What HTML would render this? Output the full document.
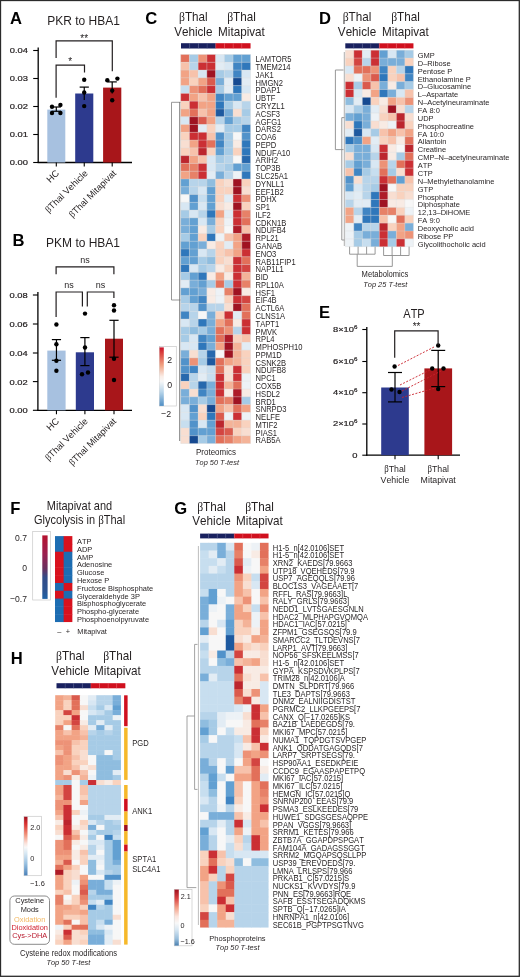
<!DOCTYPE html>
<html><head><meta charset="utf-8"><title>Figure</title>
<style>
html,body{margin:0;padding:0;background:#fff;}
svg{display:block;filter:blur(0.35px);}
text{font-family:"Liberation Sans", sans-serif;font-kerning:none;}
</style></head><body>
<svg width="520" height="977" viewBox="0 0 520 977">
<rect x="0" y="0" width="520" height="977" fill="#fff"/>
<text x="10" y="24" font-size="16.6" text-anchor="start" fill="#000" font-weight="bold">A</text>
<text x="47.3" y="25.5" font-size="12" text-anchor="start" fill="#231f20" transform="matrix(1 0 0 1.08 0 -2.040)">PKR to HBA1</text>
<line x1="38.2" y1="47.5" x2="38.2" y2="163.1" stroke="#000" stroke-width="1.3"/>
<line x1="37.6" y1="162.5" x2="132" y2="162.5" stroke="#000" stroke-width="1.3"/>
<line x1="33.2" y1="50.5" x2="38.2" y2="50.5" stroke="#000" stroke-width="1.1"/>
<text x="28.00" y="53.50" font-size="8.0" text-anchor="end" fill="#231f20" stroke="#231f20" stroke-width="0.22" transform="matrix(1.17 0 0 1 -4.760 0)">0.04</text>
<line x1="33.2" y1="78.5" x2="38.2" y2="78.5" stroke="#000" stroke-width="1.1"/>
<text x="28.00" y="81.50" font-size="8.0" text-anchor="end" fill="#231f20" stroke="#231f20" stroke-width="0.22" transform="matrix(1.17 0 0 1 -4.760 0)">0.03</text>
<line x1="33.2" y1="106.5" x2="38.2" y2="106.5" stroke="#000" stroke-width="1.1"/>
<text x="28.00" y="109.50" font-size="8.0" text-anchor="end" fill="#231f20" stroke="#231f20" stroke-width="0.22" transform="matrix(1.17 0 0 1 -4.760 0)">0.02</text>
<line x1="33.2" y1="134.5" x2="38.2" y2="134.5" stroke="#000" stroke-width="1.1"/>
<text x="28.00" y="137.50" font-size="8.0" text-anchor="end" fill="#231f20" stroke="#231f20" stroke-width="0.22" transform="matrix(1.17 0 0 1 -4.760 0)">0.01</text>
<line x1="33.2" y1="162.5" x2="38.2" y2="162.5" stroke="#000" stroke-width="1.1"/>
<text x="28.00" y="165.50" font-size="8.0" text-anchor="end" fill="#231f20" stroke="#231f20" stroke-width="0.22" transform="matrix(1.17 0 0 1 -4.760 0)">0.00</text>
<rect x="47.30" y="109.60" width="18.00" height="52.90" fill="#a7c1e0"/>
<line x1="56.3" y1="162.5" x2="56.3" y2="166.5" stroke="#000" stroke-width="1.1"/>
<line x1="56.3" y1="107" x2="56.3" y2="111.3" stroke="#000" stroke-width="1.2"/>
<line x1="51.699999999999996" y1="107" x2="60.9" y2="107" stroke="#000" stroke-width="1.2"/>
<line x1="51.699999999999996" y1="111.3" x2="60.9" y2="111.3" stroke="#000" stroke-width="1.2"/>
<circle cx="52" cy="106.8" r="2.2" fill="#000"/>
<circle cx="60.4" cy="104.9" r="2.2" fill="#000"/>
<circle cx="52" cy="113" r="2.2" fill="#000"/>
<circle cx="60.4" cy="113" r="2.2" fill="#000"/>
<rect x="75.20" y="93.50" width="18.10" height="69.00" fill="#2d3a8e"/>
<line x1="84.25" y1="162.5" x2="84.25" y2="166.5" stroke="#000" stroke-width="1.1"/>
<line x1="84.25" y1="87.1" x2="84.25" y2="100" stroke="#000" stroke-width="1.2"/>
<line x1="79.65" y1="87.1" x2="88.85" y2="87.1" stroke="#000" stroke-width="1.2"/>
<circle cx="84.2" cy="79.8" r="2.2" fill="#000"/>
<circle cx="84.2" cy="92.5" r="2.2" fill="#000"/>
<circle cx="84.2" cy="106.1" r="2.2" fill="#000"/>
<rect x="103.10" y="87.60" width="18.20" height="74.90" fill="#a8161a"/>
<line x1="112.19999999999999" y1="162.5" x2="112.19999999999999" y2="166.5" stroke="#000" stroke-width="1.1"/>
<line x1="112.19999999999999" y1="81.9" x2="112.19999999999999" y2="93.5" stroke="#000" stroke-width="1.2"/>
<line x1="107.6" y1="81.9" x2="116.79999999999998" y2="81.9" stroke="#000" stroke-width="1.2"/>
<circle cx="107.3" cy="80.2" r="2.2" fill="#000"/>
<circle cx="117.4" cy="78.6" r="2.2" fill="#000"/>
<circle cx="112.2" cy="90.6" r="2.2" fill="#000"/>
<circle cx="112.2" cy="100.2" r="2.2" fill="#000"/>
<polyline points="56.1,58 56.1,40.9 112.3,40.9 112.3,71.2" fill="none" stroke="#231f20" stroke-width="1.2"/>
<text x="84.2" y="41.6" font-size="10" text-anchor="middle" fill="#231f20" transform="matrix(1 0 0 1.08 0 -3.328)">**</text>
<polyline points="56.1,97.8 56.1,65.1 84.5,65.1 84.5,72.4" fill="none" stroke="#231f20" stroke-width="1.2"/>
<text x="70.3" y="65.2" font-size="10" text-anchor="middle" fill="#231f20" transform="matrix(1 0 0 1.08 0 -5.216)">*</text>
<text transform="translate(59.8,173.8) rotate(-45)" font-size="9.3" text-anchor="end" fill="#231f20">HC</text>
<text transform="translate(88.3,173.8) rotate(-45)" font-size="9.3" text-anchor="end" fill="#231f20"><tspan font-family='"Liberation Serif", serif'>β</tspan>Thal Vehicle</text>
<text transform="translate(116.8,173.8) rotate(-45)" font-size="9.3" text-anchor="end" fill="#231f20"><tspan font-family='"Liberation Serif", serif'>β</tspan>Thal Mitapivat</text>
<text x="12.6" y="245.8" font-size="16.6" text-anchor="start" fill="#000" font-weight="bold">B</text>
<text x="46.1" y="247" font-size="12" text-anchor="start" fill="#231f20" transform="matrix(1 0 0 1.08 0 -19.760)">PKM to HBA1</text>
<line x1="37.9" y1="292" x2="37.9" y2="410.90000000000003" stroke="#000" stroke-width="1.3"/>
<line x1="37.3" y1="410.3" x2="132" y2="410.3" stroke="#000" stroke-width="1.3"/>
<line x1="32.9" y1="295" x2="37.9" y2="295" stroke="#000" stroke-width="1.1"/>
<text x="27.70" y="298.00" font-size="8.0" text-anchor="end" fill="#231f20" stroke="#231f20" stroke-width="0.22" transform="matrix(1.17 0 0 1 -4.709 0)">0.08</text>
<line x1="32.9" y1="324" x2="37.9" y2="324" stroke="#000" stroke-width="1.1"/>
<text x="27.70" y="327.00" font-size="8.0" text-anchor="end" fill="#231f20" stroke="#231f20" stroke-width="0.22" transform="matrix(1.17 0 0 1 -4.709 0)">0.06</text>
<line x1="32.9" y1="353" x2="37.9" y2="353" stroke="#000" stroke-width="1.1"/>
<text x="27.70" y="356.00" font-size="8.0" text-anchor="end" fill="#231f20" stroke="#231f20" stroke-width="0.22" transform="matrix(1.17 0 0 1 -4.709 0)">0.04</text>
<line x1="32.9" y1="381.6" x2="37.9" y2="381.6" stroke="#000" stroke-width="1.1"/>
<text x="27.70" y="384.60" font-size="8.0" text-anchor="end" fill="#231f20" stroke="#231f20" stroke-width="0.22" transform="matrix(1.17 0 0 1 -4.709 0)">0.02</text>
<line x1="32.9" y1="410.3" x2="37.9" y2="410.3" stroke="#000" stroke-width="1.1"/>
<text x="27.70" y="413.30" font-size="8.0" text-anchor="end" fill="#231f20" stroke="#231f20" stroke-width="0.22" transform="matrix(1.17 0 0 1 -4.709 0)">0.00</text>
<rect x="47.30" y="350.60" width="18.30" height="59.70" fill="#a7c1e0"/>
<line x1="56.449999999999996" y1="410.3" x2="56.449999999999996" y2="414.3" stroke="#000" stroke-width="1.1"/>
<line x1="56.449999999999996" y1="339.6" x2="56.449999999999996" y2="360.3" stroke="#000" stroke-width="1.2"/>
<line x1="51.849999999999994" y1="339.6" x2="61.05" y2="339.6" stroke="#000" stroke-width="1.2"/>
<line x1="51.849999999999994" y1="360.3" x2="61.05" y2="360.3" stroke="#000" stroke-width="1.2"/>
<circle cx="56.4" cy="324.5" r="2.2" fill="#000"/>
<circle cx="56.4" cy="344.2" r="2.2" fill="#000"/>
<circle cx="56.4" cy="360.8" r="2.2" fill="#000"/>
<circle cx="56.4" cy="370.7" r="2.2" fill="#000"/>
<rect x="75.80" y="352.30" width="18.20" height="58.00" fill="#2d3a8e"/>
<line x1="84.9" y1="410.3" x2="84.9" y2="414.3" stroke="#000" stroke-width="1.1"/>
<line x1="84.9" y1="337.6" x2="84.9" y2="365.6" stroke="#000" stroke-width="1.2"/>
<line x1="80.30000000000001" y1="337.6" x2="89.5" y2="337.6" stroke="#000" stroke-width="1.2"/>
<line x1="80.30000000000001" y1="365.6" x2="89.5" y2="365.6" stroke="#000" stroke-width="1.2"/>
<circle cx="85" cy="313.6" r="2.2" fill="#000"/>
<circle cx="85" cy="347.5" r="2.2" fill="#000"/>
<circle cx="82" cy="374.2" r="2.2" fill="#000"/>
<circle cx="88" cy="372.5" r="2.2" fill="#000"/>
<rect x="105.00" y="338.70" width="18.00" height="71.60" fill="#a8161a"/>
<line x1="114.0" y1="410.3" x2="114.0" y2="414.3" stroke="#000" stroke-width="1.1"/>
<line x1="114.0" y1="320.3" x2="114.0" y2="357.2" stroke="#000" stroke-width="1.2"/>
<line x1="109.4" y1="320.3" x2="118.6" y2="320.3" stroke="#000" stroke-width="1.2"/>
<line x1="109.4" y1="357.2" x2="118.6" y2="357.2" stroke="#000" stroke-width="1.2"/>
<circle cx="114" cy="305.3" r="2.2" fill="#000"/>
<circle cx="114" cy="310.5" r="2.2" fill="#000"/>
<circle cx="114" cy="358.8" r="2.2" fill="#000"/>
<circle cx="114" cy="380" r="2.2" fill="#000"/>
<polyline points="56.1,274.3 56.1,266.9 113.9,266.9 113.9,274.3" fill="none" stroke="#231f20" stroke-width="1.2"/>
<text x="85" y="262.6" font-size="9" text-anchor="middle" fill="#231f20" transform="matrix(1 0 0 1.08 0 -21.008)">ns</text>
<polyline points="56.1,316.9 56.1,292 82.4,292 82.4,306.6" fill="none" stroke="#231f20" stroke-width="1.2"/>
<text x="69.1" y="287.7" font-size="9" text-anchor="middle" fill="#231f20" transform="matrix(1 0 0 1.08 0 -23.016)">ns</text>
<polyline points="87.3,306.6 87.3,292 113.9,292 113.9,298" fill="none" stroke="#231f20" stroke-width="1.2"/>
<text x="100.6" y="287.7" font-size="9" text-anchor="middle" fill="#231f20" transform="matrix(1 0 0 1.08 0 -23.016)">ns</text>
<text transform="translate(59.8,421.8) rotate(-45)" font-size="9.3" text-anchor="end" fill="#231f20">HC</text>
<text transform="translate(88.3,421.8) rotate(-45)" font-size="9.3" text-anchor="end" fill="#231f20"><tspan font-family='"Liberation Serif", serif'>β</tspan>Thal Vehicle</text>
<text transform="translate(116.8,421.8) rotate(-45)" font-size="9.3" text-anchor="end" fill="#231f20"><tspan font-family='"Liberation Serif", serif'>β</tspan>Thal Mitapivat</text>
<text x="145.3" y="23.8" font-size="16.6" text-anchor="start" fill="#000" font-weight="bold">C</text>
<text x="193.3" y="21" font-size="11.7" text-anchor="middle" fill="#231f20" transform="matrix(1 0 0 1.08 0 -1.680)"><tspan font-family='"Liberation Serif", serif'>β</tspan>Thal</text>
<text x="193.3" y="35.8" font-size="11.7" text-anchor="middle" fill="#231f20" transform="matrix(1 0 0 1.08 0 -2.864)">Vehicle</text>
<text x="241.5" y="21" font-size="11.7" text-anchor="middle" fill="#231f20" transform="matrix(1 0 0 1.08 0 -1.680)"><tspan font-family='"Liberation Serif", serif'>β</tspan>Thal</text>
<text x="241.5" y="35.8" font-size="11.7" text-anchor="middle" fill="#231f20" transform="matrix(1 0 0 1.08 0 -2.864)">Mitapivat</text>
<rect x="181.00" y="43.20" width="8.74" height="5.30" fill="#19215f"/>
<rect x="189.69" y="43.20" width="8.74" height="5.30" fill="#19215f"/>
<rect x="198.38" y="43.20" width="8.74" height="5.30" fill="#19215f"/>
<rect x="207.06" y="43.20" width="8.74" height="5.30" fill="#19215f"/>
<rect x="215.75" y="43.20" width="8.74" height="5.30" fill="#d0101e"/>
<rect x="224.44" y="43.20" width="8.74" height="5.30" fill="#d0101e"/>
<rect x="233.12" y="43.20" width="8.74" height="5.30" fill="#d0101e"/>
<rect x="241.81" y="43.20" width="8.74" height="5.30" fill="#d0101e"/>
<line x1="189.69" y1="43.2" x2="189.69" y2="48.5" stroke="#4a5288" stroke-width="0.45"/>
<line x1="198.38" y1="43.2" x2="198.38" y2="48.5" stroke="#4a5288" stroke-width="0.45"/>
<line x1="207.06" y1="43.2" x2="207.06" y2="48.5" stroke="#4a5288" stroke-width="0.45"/>
<line x1="215.75" y1="43.2" x2="215.75" y2="48.5" stroke="#e8505a" stroke-width="0.45"/>
<line x1="224.44" y1="43.2" x2="224.44" y2="48.5" stroke="#e8505a" stroke-width="0.45"/>
<line x1="233.12" y1="43.2" x2="233.12" y2="48.5" stroke="#e8505a" stroke-width="0.45"/>
<line x1="241.81" y1="43.2" x2="241.81" y2="48.5" stroke="#e8505a" stroke-width="0.45"/>
<rect x="180.70" y="54.50" width="8.78" height="7.83" fill="#e2705a"/>
<rect x="189.42" y="54.50" width="8.78" height="7.83" fill="#a6cbe6"/>
<rect x="198.15" y="54.50" width="8.78" height="7.83" fill="#ed9277"/>
<rect x="206.88" y="54.50" width="8.78" height="7.83" fill="#cb2f34"/>
<rect x="215.60" y="54.50" width="8.78" height="7.83" fill="#d8e7f3"/>
<rect x="224.32" y="54.50" width="8.78" height="7.83" fill="#a6cbe6"/>
<rect x="233.05" y="54.50" width="8.78" height="7.83" fill="#62a0d2"/>
<rect x="241.77" y="54.50" width="8.78" height="7.83" fill="#62a0d2"/>
<rect x="180.70" y="62.28" width="8.78" height="7.83" fill="#f7c2ab"/>
<rect x="189.42" y="62.28" width="8.78" height="7.83" fill="#b7d4ea"/>
<rect x="198.15" y="62.28" width="8.78" height="7.83" fill="#cb2f34"/>
<rect x="206.88" y="62.28" width="8.78" height="7.83" fill="#cb2f34"/>
<rect x="215.60" y="62.28" width="8.78" height="7.83" fill="#e2ecf4"/>
<rect x="224.32" y="62.28" width="8.78" height="7.83" fill="#d8e7f3"/>
<rect x="233.05" y="62.28" width="8.78" height="7.83" fill="#4085c3"/>
<rect x="241.77" y="62.28" width="8.78" height="7.83" fill="#2f77bb"/>
<rect x="180.70" y="70.06" width="8.78" height="7.83" fill="#f2a385"/>
<rect x="189.42" y="70.06" width="8.78" height="7.83" fill="#f7c2ab"/>
<rect x="198.15" y="70.06" width="8.78" height="7.83" fill="#d8e7f3"/>
<rect x="206.88" y="70.06" width="8.78" height="7.83" fill="#9f1322"/>
<rect x="215.60" y="70.06" width="8.78" height="7.83" fill="#a6cbe6"/>
<rect x="224.32" y="70.06" width="8.78" height="7.83" fill="#b7d4ea"/>
<rect x="233.05" y="70.06" width="8.78" height="7.83" fill="#4085c3"/>
<rect x="241.77" y="70.06" width="8.78" height="7.83" fill="#d8e7f3"/>
<rect x="180.70" y="77.84" width="8.78" height="7.83" fill="#f2a385"/>
<rect x="189.42" y="77.84" width="8.78" height="7.83" fill="#f9d2be"/>
<rect x="198.15" y="77.84" width="8.78" height="7.83" fill="#f2a385"/>
<rect x="206.88" y="77.84" width="8.78" height="7.83" fill="#da5a4d"/>
<rect x="215.60" y="77.84" width="8.78" height="7.83" fill="#79aed9"/>
<rect x="224.32" y="77.84" width="8.78" height="7.83" fill="#e2ecf4"/>
<rect x="233.05" y="77.84" width="8.78" height="7.83" fill="#164a91"/>
<rect x="241.77" y="77.84" width="8.78" height="7.83" fill="#e2ecf4"/>
<rect x="180.70" y="85.62" width="8.78" height="7.83" fill="#c7deef"/>
<rect x="189.42" y="85.62" width="8.78" height="7.83" fill="#ed9277"/>
<rect x="198.15" y="85.62" width="8.78" height="7.83" fill="#e2705a"/>
<rect x="206.88" y="85.62" width="8.78" height="7.83" fill="#cb2f34"/>
<rect x="215.60" y="85.62" width="8.78" height="7.83" fill="#a6cbe6"/>
<rect x="224.32" y="85.62" width="8.78" height="7.83" fill="#e2ecf4"/>
<rect x="233.05" y="85.62" width="8.78" height="7.83" fill="#2f77bb"/>
<rect x="241.77" y="85.62" width="8.78" height="7.83" fill="#d8e7f3"/>
<rect x="180.70" y="93.40" width="8.78" height="7.83" fill="#cb2f34"/>
<rect x="189.42" y="93.40" width="8.78" height="7.83" fill="#f2a385"/>
<rect x="198.15" y="93.40" width="8.78" height="7.83" fill="#f7c2ab"/>
<rect x="206.88" y="93.40" width="8.78" height="7.83" fill="#f2a385"/>
<rect x="215.60" y="93.40" width="8.78" height="7.83" fill="#4085c3"/>
<rect x="224.32" y="93.40" width="8.78" height="7.83" fill="#62a0d2"/>
<rect x="233.05" y="93.40" width="8.78" height="7.83" fill="#62a0d2"/>
<rect x="241.77" y="93.40" width="8.78" height="7.83" fill="#f8ebe4"/>
<rect x="180.70" y="101.18" width="8.78" height="7.83" fill="#f9d2be"/>
<rect x="189.42" y="101.18" width="8.78" height="7.83" fill="#cb2f34"/>
<rect x="198.15" y="101.18" width="8.78" height="7.83" fill="#f2a385"/>
<rect x="206.88" y="101.18" width="8.78" height="7.83" fill="#f2a385"/>
<rect x="215.60" y="101.18" width="8.78" height="7.83" fill="#2f77bb"/>
<rect x="224.32" y="101.18" width="8.78" height="7.83" fill="#a6cbe6"/>
<rect x="233.05" y="101.18" width="8.78" height="7.83" fill="#d8e7f3"/>
<rect x="241.77" y="101.18" width="8.78" height="7.83" fill="#b7d4ea"/>
<rect x="180.70" y="108.96" width="8.78" height="7.83" fill="#f2a385"/>
<rect x="189.42" y="108.96" width="8.78" height="7.83" fill="#e2705a"/>
<rect x="198.15" y="108.96" width="8.78" height="7.83" fill="#f7c2ab"/>
<rect x="206.88" y="108.96" width="8.78" height="7.83" fill="#f2a385"/>
<rect x="215.60" y="108.96" width="8.78" height="7.83" fill="#1e599f"/>
<rect x="224.32" y="108.96" width="8.78" height="7.83" fill="#79aed9"/>
<rect x="233.05" y="108.96" width="8.78" height="7.83" fill="#f8ded1"/>
<rect x="241.77" y="108.96" width="8.78" height="7.83" fill="#a6cbe6"/>
<rect x="180.70" y="116.74" width="8.78" height="7.83" fill="#d8e7f3"/>
<rect x="189.42" y="116.74" width="8.78" height="7.83" fill="#9f1322"/>
<rect x="198.15" y="116.74" width="8.78" height="7.83" fill="#da5a4d"/>
<rect x="206.88" y="116.74" width="8.78" height="7.83" fill="#f2a385"/>
<rect x="215.60" y="116.74" width="8.78" height="7.83" fill="#b7d4ea"/>
<rect x="224.32" y="116.74" width="8.78" height="7.83" fill="#62a0d2"/>
<rect x="233.05" y="116.74" width="8.78" height="7.83" fill="#a6cbe6"/>
<rect x="241.77" y="116.74" width="8.78" height="7.83" fill="#b7d4ea"/>
<rect x="180.70" y="124.52" width="8.78" height="7.83" fill="#f2a385"/>
<rect x="189.42" y="124.52" width="8.78" height="7.83" fill="#9f1322"/>
<rect x="198.15" y="124.52" width="8.78" height="7.83" fill="#e2ecf4"/>
<rect x="206.88" y="124.52" width="8.78" height="7.83" fill="#f9d2be"/>
<rect x="215.60" y="124.52" width="8.78" height="7.83" fill="#e2ecf4"/>
<rect x="224.32" y="124.52" width="8.78" height="7.83" fill="#a6cbe6"/>
<rect x="233.05" y="124.52" width="8.78" height="7.83" fill="#a6cbe6"/>
<rect x="241.77" y="124.52" width="8.78" height="7.83" fill="#4085c3"/>
<rect x="180.70" y="132.30" width="8.78" height="7.83" fill="#f9d2be"/>
<rect x="189.42" y="132.30" width="8.78" height="7.83" fill="#cb2f34"/>
<rect x="198.15" y="132.30" width="8.78" height="7.83" fill="#cb2f34"/>
<rect x="206.88" y="132.30" width="8.78" height="7.83" fill="#f7c2ab"/>
<rect x="215.60" y="132.30" width="8.78" height="7.83" fill="#5192ca"/>
<rect x="224.32" y="132.30" width="8.78" height="7.83" fill="#a6cbe6"/>
<rect x="233.05" y="132.30" width="8.78" height="7.83" fill="#f7f7f7"/>
<rect x="241.77" y="132.30" width="8.78" height="7.83" fill="#5192ca"/>
<rect x="180.70" y="140.08" width="8.78" height="7.83" fill="#f8ded1"/>
<rect x="189.42" y="140.08" width="8.78" height="7.83" fill="#f2a385"/>
<rect x="198.15" y="140.08" width="8.78" height="7.83" fill="#cb2f34"/>
<rect x="206.88" y="140.08" width="8.78" height="7.83" fill="#e2705a"/>
<rect x="215.60" y="140.08" width="8.78" height="7.83" fill="#4085c3"/>
<rect x="224.32" y="140.08" width="8.78" height="7.83" fill="#a6cbe6"/>
<rect x="233.05" y="140.08" width="8.78" height="7.83" fill="#f8ebe4"/>
<rect x="241.77" y="140.08" width="8.78" height="7.83" fill="#2f77bb"/>
<rect x="180.70" y="147.86" width="8.78" height="7.83" fill="#f9d2be"/>
<rect x="189.42" y="147.86" width="8.78" height="7.83" fill="#f7c2ab"/>
<rect x="198.15" y="147.86" width="8.78" height="7.83" fill="#bc262e"/>
<rect x="206.88" y="147.86" width="8.78" height="7.83" fill="#f9d2be"/>
<rect x="215.60" y="147.86" width="8.78" height="7.83" fill="#62a0d2"/>
<rect x="224.32" y="147.86" width="8.78" height="7.83" fill="#a6cbe6"/>
<rect x="233.05" y="147.86" width="8.78" height="7.83" fill="#f9d2be"/>
<rect x="241.77" y="147.86" width="8.78" height="7.83" fill="#2f77bb"/>
<rect x="180.70" y="155.64" width="8.78" height="7.83" fill="#bc262e"/>
<rect x="189.42" y="155.64" width="8.78" height="7.83" fill="#f2a385"/>
<rect x="198.15" y="155.64" width="8.78" height="7.83" fill="#f7c2ab"/>
<rect x="206.88" y="155.64" width="8.78" height="7.83" fill="#d8e7f3"/>
<rect x="215.60" y="155.64" width="8.78" height="7.83" fill="#a6cbe6"/>
<rect x="224.32" y="155.64" width="8.78" height="7.83" fill="#b7d4ea"/>
<rect x="233.05" y="155.64" width="8.78" height="7.83" fill="#f7f7f7"/>
<rect x="241.77" y="155.64" width="8.78" height="7.83" fill="#2768ad"/>
<rect x="180.70" y="163.42" width="8.78" height="7.83" fill="#e2705a"/>
<rect x="189.42" y="163.42" width="8.78" height="7.83" fill="#e78168"/>
<rect x="198.15" y="163.42" width="8.78" height="7.83" fill="#cb2f34"/>
<rect x="206.88" y="163.42" width="8.78" height="7.83" fill="#d8e7f3"/>
<rect x="215.60" y="163.42" width="8.78" height="7.83" fill="#b7d4ea"/>
<rect x="224.32" y="163.42" width="8.78" height="7.83" fill="#a6cbe6"/>
<rect x="233.05" y="163.42" width="8.78" height="7.83" fill="#62a0d2"/>
<rect x="241.77" y="163.42" width="8.78" height="7.83" fill="#62a0d2"/>
<rect x="180.70" y="171.20" width="8.78" height="7.83" fill="#f2a385"/>
<rect x="189.42" y="171.20" width="8.78" height="7.83" fill="#e78168"/>
<rect x="198.15" y="171.20" width="8.78" height="7.83" fill="#cb2f34"/>
<rect x="206.88" y="171.20" width="8.78" height="7.83" fill="#e2ecf4"/>
<rect x="215.60" y="171.20" width="8.78" height="7.83" fill="#79aed9"/>
<rect x="224.32" y="171.20" width="8.78" height="7.83" fill="#b7d4ea"/>
<rect x="233.05" y="171.20" width="8.78" height="7.83" fill="#edf2f6"/>
<rect x="241.77" y="171.20" width="8.78" height="7.83" fill="#2f77bb"/>
<rect x="180.70" y="178.98" width="8.78" height="7.83" fill="#62a0d2"/>
<rect x="189.42" y="178.98" width="8.78" height="7.83" fill="#b7d4ea"/>
<rect x="198.15" y="178.98" width="8.78" height="7.83" fill="#b7d4ea"/>
<rect x="206.88" y="178.98" width="8.78" height="7.83" fill="#8fbddf"/>
<rect x="215.60" y="178.98" width="8.78" height="7.83" fill="#f9d2be"/>
<rect x="224.32" y="178.98" width="8.78" height="7.83" fill="#f8ded1"/>
<rect x="233.05" y="178.98" width="8.78" height="7.83" fill="#9f1322"/>
<rect x="241.77" y="178.98" width="8.78" height="7.83" fill="#f9d2be"/>
<rect x="180.70" y="186.76" width="8.78" height="7.83" fill="#79aed9"/>
<rect x="189.42" y="186.76" width="8.78" height="7.83" fill="#b7d4ea"/>
<rect x="198.15" y="186.76" width="8.78" height="7.83" fill="#d8e7f3"/>
<rect x="206.88" y="186.76" width="8.78" height="7.83" fill="#62a0d2"/>
<rect x="215.60" y="186.76" width="8.78" height="7.83" fill="#f9d2be"/>
<rect x="224.32" y="186.76" width="8.78" height="7.83" fill="#f9d2be"/>
<rect x="233.05" y="186.76" width="8.78" height="7.83" fill="#9f1322"/>
<rect x="241.77" y="186.76" width="8.78" height="7.83" fill="#f8ded1"/>
<rect x="180.70" y="194.54" width="8.78" height="7.83" fill="#f7f7f7"/>
<rect x="189.42" y="194.54" width="8.78" height="7.83" fill="#5192ca"/>
<rect x="198.15" y="194.54" width="8.78" height="7.83" fill="#c7deef"/>
<rect x="206.88" y="194.54" width="8.78" height="7.83" fill="#62a0d2"/>
<rect x="215.60" y="194.54" width="8.78" height="7.83" fill="#f9d2be"/>
<rect x="224.32" y="194.54" width="8.78" height="7.83" fill="#e2ecf4"/>
<rect x="233.05" y="194.54" width="8.78" height="7.83" fill="#cb2f34"/>
<rect x="241.77" y="194.54" width="8.78" height="7.83" fill="#ed9277"/>
<rect x="180.70" y="202.32" width="8.78" height="7.83" fill="#d8e7f3"/>
<rect x="189.42" y="202.32" width="8.78" height="7.83" fill="#62a0d2"/>
<rect x="198.15" y="202.32" width="8.78" height="7.83" fill="#d8e7f3"/>
<rect x="206.88" y="202.32" width="8.78" height="7.83" fill="#62a0d2"/>
<rect x="215.60" y="202.32" width="8.78" height="7.83" fill="#f8ded1"/>
<rect x="224.32" y="202.32" width="8.78" height="7.83" fill="#f8ebe4"/>
<rect x="233.05" y="202.32" width="8.78" height="7.83" fill="#9f1322"/>
<rect x="241.77" y="202.32" width="8.78" height="7.83" fill="#f9d2be"/>
<rect x="180.70" y="210.10" width="8.78" height="7.83" fill="#a6cbe6"/>
<rect x="189.42" y="210.10" width="8.78" height="7.83" fill="#d8e7f3"/>
<rect x="198.15" y="210.10" width="8.78" height="7.83" fill="#b7d4ea"/>
<rect x="206.88" y="210.10" width="8.78" height="7.83" fill="#2f77bb"/>
<rect x="215.60" y="210.10" width="8.78" height="7.83" fill="#f2a385"/>
<rect x="224.32" y="210.10" width="8.78" height="7.83" fill="#e2ecf4"/>
<rect x="233.05" y="210.10" width="8.78" height="7.83" fill="#cb2f34"/>
<rect x="241.77" y="210.10" width="8.78" height="7.83" fill="#e78168"/>
<rect x="180.70" y="217.88" width="8.78" height="7.83" fill="#79aed9"/>
<rect x="189.42" y="217.88" width="8.78" height="7.83" fill="#62a0d2"/>
<rect x="198.15" y="217.88" width="8.78" height="7.83" fill="#d8e7f3"/>
<rect x="206.88" y="217.88" width="8.78" height="7.83" fill="#79aed9"/>
<rect x="215.60" y="217.88" width="8.78" height="7.83" fill="#f9d2be"/>
<rect x="224.32" y="217.88" width="8.78" height="7.83" fill="#edf2f6"/>
<rect x="233.05" y="217.88" width="8.78" height="7.83" fill="#cb2f34"/>
<rect x="241.77" y="217.88" width="8.78" height="7.83" fill="#e2705a"/>
<rect x="180.70" y="225.66" width="8.78" height="7.83" fill="#79aed9"/>
<rect x="189.42" y="225.66" width="8.78" height="7.83" fill="#62a0d2"/>
<rect x="198.15" y="225.66" width="8.78" height="7.83" fill="#f8ebe4"/>
<rect x="206.88" y="225.66" width="8.78" height="7.83" fill="#a6cbe6"/>
<rect x="215.60" y="225.66" width="8.78" height="7.83" fill="#f9d2be"/>
<rect x="224.32" y="225.66" width="8.78" height="7.83" fill="#f7f7f7"/>
<rect x="233.05" y="225.66" width="8.78" height="7.83" fill="#ae1c28"/>
<rect x="241.77" y="225.66" width="8.78" height="7.83" fill="#f7c2ab"/>
<rect x="180.70" y="233.44" width="8.78" height="7.83" fill="#a6cbe6"/>
<rect x="189.42" y="233.44" width="8.78" height="7.83" fill="#62a0d2"/>
<rect x="198.15" y="233.44" width="8.78" height="7.83" fill="#f9d2be"/>
<rect x="206.88" y="233.44" width="8.78" height="7.83" fill="#2f77bb"/>
<rect x="215.60" y="233.44" width="8.78" height="7.83" fill="#edf2f6"/>
<rect x="224.32" y="233.44" width="8.78" height="7.83" fill="#f7c2ab"/>
<rect x="233.05" y="233.44" width="8.78" height="7.83" fill="#f2a385"/>
<rect x="241.77" y="233.44" width="8.78" height="7.83" fill="#ae1c28"/>
<rect x="180.70" y="241.22" width="8.78" height="7.83" fill="#62a0d2"/>
<rect x="189.42" y="241.22" width="8.78" height="7.83" fill="#62a0d2"/>
<rect x="198.15" y="241.22" width="8.78" height="7.83" fill="#79aed9"/>
<rect x="206.88" y="241.22" width="8.78" height="7.83" fill="#f8ebe4"/>
<rect x="215.60" y="241.22" width="8.78" height="7.83" fill="#f9d2be"/>
<rect x="224.32" y="241.22" width="8.78" height="7.83" fill="#e2ecf4"/>
<rect x="233.05" y="241.22" width="8.78" height="7.83" fill="#f2a385"/>
<rect x="241.77" y="241.22" width="8.78" height="7.83" fill="#9f1322"/>
<rect x="180.70" y="249.00" width="8.78" height="7.83" fill="#2f77bb"/>
<rect x="189.42" y="249.00" width="8.78" height="7.83" fill="#62a0d2"/>
<rect x="198.15" y="249.00" width="8.78" height="7.83" fill="#d8e7f3"/>
<rect x="206.88" y="249.00" width="8.78" height="7.83" fill="#b7d4ea"/>
<rect x="215.60" y="249.00" width="8.78" height="7.83" fill="#f9d2be"/>
<rect x="224.32" y="249.00" width="8.78" height="7.83" fill="#f7c2ab"/>
<rect x="233.05" y="249.00" width="8.78" height="7.83" fill="#f2a385"/>
<rect x="241.77" y="249.00" width="8.78" height="7.83" fill="#cb2f34"/>
<rect x="180.70" y="256.78" width="8.78" height="7.83" fill="#62a0d2"/>
<rect x="189.42" y="256.78" width="8.78" height="7.83" fill="#62a0d2"/>
<rect x="198.15" y="256.78" width="8.78" height="7.83" fill="#a6cbe6"/>
<rect x="206.88" y="256.78" width="8.78" height="7.83" fill="#8fbddf"/>
<rect x="215.60" y="256.78" width="8.78" height="7.83" fill="#f9d2be"/>
<rect x="224.32" y="256.78" width="8.78" height="7.83" fill="#f8ded1"/>
<rect x="233.05" y="256.78" width="8.78" height="7.83" fill="#cb2f34"/>
<rect x="241.77" y="256.78" width="8.78" height="7.83" fill="#e2705a"/>
<rect x="180.70" y="264.56" width="8.78" height="7.83" fill="#2f77bb"/>
<rect x="189.42" y="264.56" width="8.78" height="7.83" fill="#d8e7f3"/>
<rect x="198.15" y="264.56" width="8.78" height="7.83" fill="#a6cbe6"/>
<rect x="206.88" y="264.56" width="8.78" height="7.83" fill="#b7d4ea"/>
<rect x="215.60" y="264.56" width="8.78" height="7.83" fill="#f8ebe4"/>
<rect x="224.32" y="264.56" width="8.78" height="7.83" fill="#f9d2be"/>
<rect x="233.05" y="264.56" width="8.78" height="7.83" fill="#cb2f34"/>
<rect x="241.77" y="264.56" width="8.78" height="7.83" fill="#d34541"/>
<rect x="180.70" y="272.34" width="8.78" height="7.83" fill="#a6cbe6"/>
<rect x="189.42" y="272.34" width="8.78" height="7.83" fill="#62a0d2"/>
<rect x="198.15" y="272.34" width="8.78" height="7.83" fill="#2f77bb"/>
<rect x="206.88" y="272.34" width="8.78" height="7.83" fill="#f8ebe4"/>
<rect x="215.60" y="272.34" width="8.78" height="7.83" fill="#f2a385"/>
<rect x="224.32" y="272.34" width="8.78" height="7.83" fill="#f8ebe4"/>
<rect x="233.05" y="272.34" width="8.78" height="7.83" fill="#cb2f34"/>
<rect x="241.77" y="272.34" width="8.78" height="7.83" fill="#f4b398"/>
<rect x="180.70" y="280.12" width="8.78" height="7.83" fill="#e2ecf4"/>
<rect x="189.42" y="280.12" width="8.78" height="7.83" fill="#79aed9"/>
<rect x="198.15" y="280.12" width="8.78" height="7.83" fill="#62a0d2"/>
<rect x="206.88" y="280.12" width="8.78" height="7.83" fill="#a6cbe6"/>
<rect x="215.60" y="280.12" width="8.78" height="7.83" fill="#e2705a"/>
<rect x="224.32" y="280.12" width="8.78" height="7.83" fill="#a6cbe6"/>
<rect x="233.05" y="280.12" width="8.78" height="7.83" fill="#cb2f34"/>
<rect x="241.77" y="280.12" width="8.78" height="7.83" fill="#e78168"/>
<rect x="180.70" y="287.90" width="8.78" height="7.83" fill="#62a0d2"/>
<rect x="189.42" y="287.90" width="8.78" height="7.83" fill="#62a0d2"/>
<rect x="198.15" y="287.90" width="8.78" height="7.83" fill="#79aed9"/>
<rect x="206.88" y="287.90" width="8.78" height="7.83" fill="#f8ebe4"/>
<rect x="215.60" y="287.90" width="8.78" height="7.83" fill="#edf2f6"/>
<rect x="224.32" y="287.90" width="8.78" height="7.83" fill="#e78168"/>
<rect x="233.05" y="287.90" width="8.78" height="7.83" fill="#9f1322"/>
<rect x="241.77" y="287.90" width="8.78" height="7.83" fill="#f8ebe4"/>
<rect x="180.70" y="295.68" width="8.78" height="7.83" fill="#a6cbe6"/>
<rect x="189.42" y="295.68" width="8.78" height="7.83" fill="#62a0d2"/>
<rect x="198.15" y="295.68" width="8.78" height="7.83" fill="#4085c3"/>
<rect x="206.88" y="295.68" width="8.78" height="7.83" fill="#f8ebe4"/>
<rect x="215.60" y="295.68" width="8.78" height="7.83" fill="#edf2f6"/>
<rect x="224.32" y="295.68" width="8.78" height="7.83" fill="#f9d2be"/>
<rect x="233.05" y="295.68" width="8.78" height="7.83" fill="#cb2f34"/>
<rect x="241.77" y="295.68" width="8.78" height="7.83" fill="#d34541"/>
<rect x="180.70" y="303.46" width="8.78" height="7.83" fill="#b7d4ea"/>
<rect x="189.42" y="303.46" width="8.78" height="7.83" fill="#b7d4ea"/>
<rect x="198.15" y="303.46" width="8.78" height="7.83" fill="#5192ca"/>
<rect x="206.88" y="303.46" width="8.78" height="7.83" fill="#b7d4ea"/>
<rect x="215.60" y="303.46" width="8.78" height="7.83" fill="#b7d4ea"/>
<rect x="224.32" y="303.46" width="8.78" height="7.83" fill="#f8ded1"/>
<rect x="233.05" y="303.46" width="8.78" height="7.83" fill="#9f1322"/>
<rect x="241.77" y="303.46" width="8.78" height="7.83" fill="#e2705a"/>
<rect x="180.70" y="311.24" width="8.78" height="7.83" fill="#4085c3"/>
<rect x="189.42" y="311.24" width="8.78" height="7.83" fill="#b7d4ea"/>
<rect x="198.15" y="311.24" width="8.78" height="7.83" fill="#f7f7f7"/>
<rect x="206.88" y="311.24" width="8.78" height="7.83" fill="#79aed9"/>
<rect x="215.60" y="311.24" width="8.78" height="7.83" fill="#f9d2be"/>
<rect x="224.32" y="311.24" width="8.78" height="7.83" fill="#cb2f34"/>
<rect x="233.05" y="311.24" width="8.78" height="7.83" fill="#e2ecf4"/>
<rect x="241.77" y="311.24" width="8.78" height="7.83" fill="#e2705a"/>
<rect x="180.70" y="319.02" width="8.78" height="7.83" fill="#d8e7f3"/>
<rect x="189.42" y="319.02" width="8.78" height="7.83" fill="#b7d4ea"/>
<rect x="198.15" y="319.02" width="8.78" height="7.83" fill="#2f77bb"/>
<rect x="206.88" y="319.02" width="8.78" height="7.83" fill="#79aed9"/>
<rect x="215.60" y="319.02" width="8.78" height="7.83" fill="#f2a385"/>
<rect x="224.32" y="319.02" width="8.78" height="7.83" fill="#e2705a"/>
<rect x="233.05" y="319.02" width="8.78" height="7.83" fill="#f8ebe4"/>
<rect x="241.77" y="319.02" width="8.78" height="7.83" fill="#cb2f34"/>
<rect x="180.70" y="326.80" width="8.78" height="7.83" fill="#a6cbe6"/>
<rect x="189.42" y="326.80" width="8.78" height="7.83" fill="#8fbddf"/>
<rect x="198.15" y="326.80" width="8.78" height="7.83" fill="#a6cbe6"/>
<rect x="206.88" y="326.80" width="8.78" height="7.83" fill="#79aed9"/>
<rect x="215.60" y="326.80" width="8.78" height="7.83" fill="#e2705a"/>
<rect x="224.32" y="326.80" width="8.78" height="7.83" fill="#ed9277"/>
<rect x="233.05" y="326.80" width="8.78" height="7.83" fill="#b7d4ea"/>
<rect x="241.77" y="326.80" width="8.78" height="7.83" fill="#cb2f34"/>
<rect x="180.70" y="334.58" width="8.78" height="7.83" fill="#a6cbe6"/>
<rect x="189.42" y="334.58" width="8.78" height="7.83" fill="#d8e7f3"/>
<rect x="198.15" y="334.58" width="8.78" height="7.83" fill="#4085c3"/>
<rect x="206.88" y="334.58" width="8.78" height="7.83" fill="#62a0d2"/>
<rect x="215.60" y="334.58" width="8.78" height="7.83" fill="#e2705a"/>
<rect x="224.32" y="334.58" width="8.78" height="7.83" fill="#ae1c28"/>
<rect x="233.05" y="334.58" width="8.78" height="7.83" fill="#f9d2be"/>
<rect x="241.77" y="334.58" width="8.78" height="7.83" fill="#f7c2ab"/>
<rect x="180.70" y="342.36" width="8.78" height="7.83" fill="#d8e7f3"/>
<rect x="189.42" y="342.36" width="8.78" height="7.83" fill="#d8e7f3"/>
<rect x="198.15" y="342.36" width="8.78" height="7.83" fill="#2f77bb"/>
<rect x="206.88" y="342.36" width="8.78" height="7.83" fill="#79aed9"/>
<rect x="215.60" y="342.36" width="8.78" height="7.83" fill="#f2a385"/>
<rect x="224.32" y="342.36" width="8.78" height="7.83" fill="#9f1322"/>
<rect x="233.05" y="342.36" width="8.78" height="7.83" fill="#f4b398"/>
<rect x="241.77" y="342.36" width="8.78" height="7.83" fill="#e2ecf4"/>
<rect x="180.70" y="350.14" width="8.78" height="7.83" fill="#79aed9"/>
<rect x="189.42" y="350.14" width="8.78" height="7.83" fill="#f8ded1"/>
<rect x="198.15" y="350.14" width="8.78" height="7.83" fill="#b7d4ea"/>
<rect x="206.88" y="350.14" width="8.78" height="7.83" fill="#2768ad"/>
<rect x="215.60" y="350.14" width="8.78" height="7.83" fill="#f7f7f7"/>
<rect x="224.32" y="350.14" width="8.78" height="7.83" fill="#9f1322"/>
<rect x="233.05" y="350.14" width="8.78" height="7.83" fill="#f4b398"/>
<rect x="241.77" y="350.14" width="8.78" height="7.83" fill="#f9d2be"/>
<rect x="180.70" y="357.92" width="8.78" height="7.83" fill="#5192ca"/>
<rect x="189.42" y="357.92" width="8.78" height="7.83" fill="#ed9277"/>
<rect x="198.15" y="357.92" width="8.78" height="7.83" fill="#a6cbe6"/>
<rect x="206.88" y="357.92" width="8.78" height="7.83" fill="#1e599f"/>
<rect x="215.60" y="357.92" width="8.78" height="7.83" fill="#e2705a"/>
<rect x="224.32" y="357.92" width="8.78" height="7.83" fill="#f2a385"/>
<rect x="233.05" y="357.92" width="8.78" height="7.83" fill="#f4b398"/>
<rect x="241.77" y="357.92" width="8.78" height="7.83" fill="#f9d2be"/>
<rect x="180.70" y="365.70" width="8.78" height="7.83" fill="#5192ca"/>
<rect x="189.42" y="365.70" width="8.78" height="7.83" fill="#4085c3"/>
<rect x="198.15" y="365.70" width="8.78" height="7.83" fill="#d8e7f3"/>
<rect x="206.88" y="365.70" width="8.78" height="7.83" fill="#c7deef"/>
<rect x="215.60" y="365.70" width="8.78" height="7.83" fill="#e2705a"/>
<rect x="224.32" y="365.70" width="8.78" height="7.83" fill="#f8ded1"/>
<rect x="233.05" y="365.70" width="8.78" height="7.83" fill="#cb2f34"/>
<rect x="241.77" y="365.70" width="8.78" height="7.83" fill="#f9d2be"/>
<rect x="180.70" y="373.48" width="8.78" height="7.83" fill="#2768ad"/>
<rect x="189.42" y="373.48" width="8.78" height="7.83" fill="#b7d4ea"/>
<rect x="198.15" y="373.48" width="8.78" height="7.83" fill="#e2ecf4"/>
<rect x="206.88" y="373.48" width="8.78" height="7.83" fill="#c7deef"/>
<rect x="215.60" y="373.48" width="8.78" height="7.83" fill="#cb2f34"/>
<rect x="224.32" y="373.48" width="8.78" height="7.83" fill="#f8ded1"/>
<rect x="233.05" y="373.48" width="8.78" height="7.83" fill="#cb2f34"/>
<rect x="241.77" y="373.48" width="8.78" height="7.83" fill="#edf2f6"/>
<rect x="180.70" y="381.26" width="8.78" height="7.83" fill="#f9d2be"/>
<rect x="189.42" y="381.26" width="8.78" height="7.83" fill="#b7d4ea"/>
<rect x="198.15" y="381.26" width="8.78" height="7.83" fill="#2768ad"/>
<rect x="206.88" y="381.26" width="8.78" height="7.83" fill="#79aed9"/>
<rect x="215.60" y="381.26" width="8.78" height="7.83" fill="#cb2f34"/>
<rect x="224.32" y="381.26" width="8.78" height="7.83" fill="#f4b398"/>
<rect x="233.05" y="381.26" width="8.78" height="7.83" fill="#e2705a"/>
<rect x="241.77" y="381.26" width="8.78" height="7.83" fill="#edf2f6"/>
<rect x="180.70" y="389.04" width="8.78" height="7.83" fill="#79aed9"/>
<rect x="189.42" y="389.04" width="8.78" height="7.83" fill="#f8ded1"/>
<rect x="198.15" y="389.04" width="8.78" height="7.83" fill="#4085c3"/>
<rect x="206.88" y="389.04" width="8.78" height="7.83" fill="#79aed9"/>
<rect x="215.60" y="389.04" width="8.78" height="7.83" fill="#cb2f34"/>
<rect x="224.32" y="389.04" width="8.78" height="7.83" fill="#f8ebe4"/>
<rect x="233.05" y="389.04" width="8.78" height="7.83" fill="#ae1c28"/>
<rect x="241.77" y="389.04" width="8.78" height="7.83" fill="#f8ebe4"/>
<rect x="180.70" y="396.82" width="8.78" height="7.83" fill="#79aed9"/>
<rect x="189.42" y="396.82" width="8.78" height="7.83" fill="#79aed9"/>
<rect x="198.15" y="396.82" width="8.78" height="7.83" fill="#a6cbe6"/>
<rect x="206.88" y="396.82" width="8.78" height="7.83" fill="#79aed9"/>
<rect x="215.60" y="396.82" width="8.78" height="7.83" fill="#e2705a"/>
<rect x="224.32" y="396.82" width="8.78" height="7.83" fill="#e78168"/>
<rect x="233.05" y="396.82" width="8.78" height="7.83" fill="#9f1322"/>
<rect x="241.77" y="396.82" width="8.78" height="7.83" fill="#a6cbe6"/>
<rect x="180.70" y="404.60" width="8.78" height="7.83" fill="#d8e7f3"/>
<rect x="189.42" y="404.60" width="8.78" height="7.83" fill="#5192ca"/>
<rect x="198.15" y="404.60" width="8.78" height="7.83" fill="#f8ded1"/>
<rect x="206.88" y="404.60" width="8.78" height="7.83" fill="#164a91"/>
<rect x="215.60" y="404.60" width="8.78" height="7.83" fill="#f2a385"/>
<rect x="224.32" y="404.60" width="8.78" height="7.83" fill="#f7c2ab"/>
<rect x="233.05" y="404.60" width="8.78" height="7.83" fill="#e2705a"/>
<rect x="241.77" y="404.60" width="8.78" height="7.83" fill="#f2a385"/>
<rect x="180.70" y="412.38" width="8.78" height="7.83" fill="#d8e7f3"/>
<rect x="189.42" y="412.38" width="8.78" height="7.83" fill="#62a0d2"/>
<rect x="198.15" y="412.38" width="8.78" height="7.83" fill="#f9d2be"/>
<rect x="206.88" y="412.38" width="8.78" height="7.83" fill="#2f77bb"/>
<rect x="215.60" y="412.38" width="8.78" height="7.83" fill="#da5a4d"/>
<rect x="224.32" y="412.38" width="8.78" height="7.83" fill="#edf2f6"/>
<rect x="233.05" y="412.38" width="8.78" height="7.83" fill="#cb2f34"/>
<rect x="241.77" y="412.38" width="8.78" height="7.83" fill="#edf2f6"/>
<rect x="180.70" y="420.16" width="8.78" height="7.83" fill="#c7deef"/>
<rect x="189.42" y="420.16" width="8.78" height="7.83" fill="#5192ca"/>
<rect x="198.15" y="420.16" width="8.78" height="7.83" fill="#d8e7f3"/>
<rect x="206.88" y="420.16" width="8.78" height="7.83" fill="#62a0d2"/>
<rect x="215.60" y="420.16" width="8.78" height="7.83" fill="#bc262e"/>
<rect x="224.32" y="420.16" width="8.78" height="7.83" fill="#f4b398"/>
<rect x="233.05" y="420.16" width="8.78" height="7.83" fill="#f4b398"/>
<rect x="241.77" y="420.16" width="8.78" height="7.83" fill="#f9d2be"/>
<rect x="180.70" y="427.94" width="8.78" height="7.83" fill="#f8ded1"/>
<rect x="189.42" y="427.94" width="8.78" height="7.83" fill="#5192ca"/>
<rect x="198.15" y="427.94" width="8.78" height="7.83" fill="#62a0d2"/>
<rect x="206.88" y="427.94" width="8.78" height="7.83" fill="#62a0d2"/>
<rect x="215.60" y="427.94" width="8.78" height="7.83" fill="#d34541"/>
<rect x="224.32" y="427.94" width="8.78" height="7.83" fill="#da5a4d"/>
<rect x="233.05" y="427.94" width="8.78" height="7.83" fill="#f9d2be"/>
<rect x="241.77" y="427.94" width="8.78" height="7.83" fill="#f8ded1"/>
<rect x="180.70" y="435.72" width="8.78" height="7.83" fill="#f8ded1"/>
<rect x="189.42" y="435.72" width="8.78" height="7.83" fill="#164a91"/>
<rect x="198.15" y="435.72" width="8.78" height="7.83" fill="#a6cbe6"/>
<rect x="206.88" y="435.72" width="8.78" height="7.83" fill="#79aed9"/>
<rect x="215.60" y="435.72" width="8.78" height="7.83" fill="#e2705a"/>
<rect x="224.32" y="435.72" width="8.78" height="7.83" fill="#e78168"/>
<rect x="233.05" y="435.72" width="8.78" height="7.83" fill="#f2a385"/>
<rect x="241.77" y="435.72" width="8.78" height="7.83" fill="#f4b398"/>
<line x1="180.7" y1="54.5" x2="250.5" y2="54.5" stroke="#d9d9d9" stroke-width="0.35"/>
<line x1="180.7" y1="62.28" x2="250.5" y2="62.28" stroke="#d9d9d9" stroke-width="0.35"/>
<line x1="180.7" y1="70.06" x2="250.5" y2="70.06" stroke="#d9d9d9" stroke-width="0.35"/>
<line x1="180.7" y1="77.84" x2="250.5" y2="77.84" stroke="#d9d9d9" stroke-width="0.35"/>
<line x1="180.7" y1="85.62" x2="250.5" y2="85.62" stroke="#d9d9d9" stroke-width="0.35"/>
<line x1="180.7" y1="93.4" x2="250.5" y2="93.4" stroke="#d9d9d9" stroke-width="0.35"/>
<line x1="180.7" y1="101.18" x2="250.5" y2="101.18" stroke="#d9d9d9" stroke-width="0.35"/>
<line x1="180.7" y1="108.96" x2="250.5" y2="108.96" stroke="#d9d9d9" stroke-width="0.35"/>
<line x1="180.7" y1="116.74" x2="250.5" y2="116.74" stroke="#d9d9d9" stroke-width="0.35"/>
<line x1="180.7" y1="124.52" x2="250.5" y2="124.52" stroke="#d9d9d9" stroke-width="0.35"/>
<line x1="180.7" y1="132.3" x2="250.5" y2="132.3" stroke="#d9d9d9" stroke-width="0.35"/>
<line x1="180.7" y1="140.08" x2="250.5" y2="140.08" stroke="#d9d9d9" stroke-width="0.35"/>
<line x1="180.7" y1="147.86" x2="250.5" y2="147.86" stroke="#d9d9d9" stroke-width="0.35"/>
<line x1="180.7" y1="155.64" x2="250.5" y2="155.64" stroke="#d9d9d9" stroke-width="0.35"/>
<line x1="180.7" y1="163.42" x2="250.5" y2="163.42" stroke="#d9d9d9" stroke-width="0.35"/>
<line x1="180.7" y1="171.2" x2="250.5" y2="171.2" stroke="#d9d9d9" stroke-width="0.35"/>
<line x1="180.7" y1="178.98" x2="250.5" y2="178.98" stroke="#d9d9d9" stroke-width="0.35"/>
<line x1="180.7" y1="186.76" x2="250.5" y2="186.76" stroke="#d9d9d9" stroke-width="0.35"/>
<line x1="180.7" y1="194.54" x2="250.5" y2="194.54" stroke="#d9d9d9" stroke-width="0.35"/>
<line x1="180.7" y1="202.32" x2="250.5" y2="202.32" stroke="#d9d9d9" stroke-width="0.35"/>
<line x1="180.7" y1="210.1" x2="250.5" y2="210.1" stroke="#d9d9d9" stroke-width="0.35"/>
<line x1="180.7" y1="217.88" x2="250.5" y2="217.88" stroke="#d9d9d9" stroke-width="0.35"/>
<line x1="180.7" y1="225.66" x2="250.5" y2="225.66" stroke="#d9d9d9" stroke-width="0.35"/>
<line x1="180.7" y1="233.44" x2="250.5" y2="233.44" stroke="#d9d9d9" stroke-width="0.35"/>
<line x1="180.7" y1="241.22" x2="250.5" y2="241.22" stroke="#d9d9d9" stroke-width="0.35"/>
<line x1="180.7" y1="249.0" x2="250.5" y2="249.0" stroke="#d9d9d9" stroke-width="0.35"/>
<line x1="180.7" y1="256.78" x2="250.5" y2="256.78" stroke="#d9d9d9" stroke-width="0.35"/>
<line x1="180.7" y1="264.56" x2="250.5" y2="264.56" stroke="#d9d9d9" stroke-width="0.35"/>
<line x1="180.7" y1="272.34" x2="250.5" y2="272.34" stroke="#d9d9d9" stroke-width="0.35"/>
<line x1="180.7" y1="280.12" x2="250.5" y2="280.12" stroke="#d9d9d9" stroke-width="0.35"/>
<line x1="180.7" y1="287.9" x2="250.5" y2="287.9" stroke="#d9d9d9" stroke-width="0.35"/>
<line x1="180.7" y1="295.68" x2="250.5" y2="295.68" stroke="#d9d9d9" stroke-width="0.35"/>
<line x1="180.7" y1="303.46" x2="250.5" y2="303.46" stroke="#d9d9d9" stroke-width="0.35"/>
<line x1="180.7" y1="311.24" x2="250.5" y2="311.24" stroke="#d9d9d9" stroke-width="0.35"/>
<line x1="180.7" y1="319.02" x2="250.5" y2="319.02" stroke="#d9d9d9" stroke-width="0.35"/>
<line x1="180.7" y1="326.8" x2="250.5" y2="326.8" stroke="#d9d9d9" stroke-width="0.35"/>
<line x1="180.7" y1="334.58" x2="250.5" y2="334.58" stroke="#d9d9d9" stroke-width="0.35"/>
<line x1="180.7" y1="342.36" x2="250.5" y2="342.36" stroke="#d9d9d9" stroke-width="0.35"/>
<line x1="180.7" y1="350.14" x2="250.5" y2="350.14" stroke="#d9d9d9" stroke-width="0.35"/>
<line x1="180.7" y1="357.92" x2="250.5" y2="357.92" stroke="#d9d9d9" stroke-width="0.35"/>
<line x1="180.7" y1="365.7" x2="250.5" y2="365.7" stroke="#d9d9d9" stroke-width="0.35"/>
<line x1="180.7" y1="373.48" x2="250.5" y2="373.48" stroke="#d9d9d9" stroke-width="0.35"/>
<line x1="180.7" y1="381.26" x2="250.5" y2="381.26" stroke="#d9d9d9" stroke-width="0.35"/>
<line x1="180.7" y1="389.04" x2="250.5" y2="389.04" stroke="#d9d9d9" stroke-width="0.35"/>
<line x1="180.7" y1="396.82" x2="250.5" y2="396.82" stroke="#d9d9d9" stroke-width="0.35"/>
<line x1="180.7" y1="404.6" x2="250.5" y2="404.6" stroke="#d9d9d9" stroke-width="0.35"/>
<line x1="180.7" y1="412.38" x2="250.5" y2="412.38" stroke="#d9d9d9" stroke-width="0.35"/>
<line x1="180.7" y1="420.16" x2="250.5" y2="420.16" stroke="#d9d9d9" stroke-width="0.35"/>
<line x1="180.7" y1="427.94" x2="250.5" y2="427.94" stroke="#d9d9d9" stroke-width="0.35"/>
<line x1="180.7" y1="435.72" x2="250.5" y2="435.72" stroke="#d9d9d9" stroke-width="0.35"/>
<line x1="180.7" y1="443.5" x2="250.5" y2="443.5" stroke="#d9d9d9" stroke-width="0.35"/>
<line x1="180.7" y1="54.5" x2="180.7" y2="443.5" stroke="#d9d9d9" stroke-width="0.35"/>
<line x1="189.42" y1="54.5" x2="189.42" y2="443.5" stroke="#d9d9d9" stroke-width="0.35"/>
<line x1="198.15" y1="54.5" x2="198.15" y2="443.5" stroke="#d9d9d9" stroke-width="0.35"/>
<line x1="206.88" y1="54.5" x2="206.88" y2="443.5" stroke="#d9d9d9" stroke-width="0.35"/>
<line x1="215.6" y1="54.5" x2="215.6" y2="443.5" stroke="#d9d9d9" stroke-width="0.35"/>
<line x1="224.32" y1="54.5" x2="224.32" y2="443.5" stroke="#d9d9d9" stroke-width="0.35"/>
<line x1="233.05" y1="54.5" x2="233.05" y2="443.5" stroke="#d9d9d9" stroke-width="0.35"/>
<line x1="241.77" y1="54.5" x2="241.77" y2="443.5" stroke="#d9d9d9" stroke-width="0.35"/>
<line x1="250.5" y1="54.5" x2="250.5" y2="443.5" stroke="#d9d9d9" stroke-width="0.35"/>
<text x="255.6" y="62.29" font-size="7.6" text-anchor="start" fill="#231f20" transform="matrix(1 0 0 1.08 0 -4.983)">LAMTOR5</text>
<text x="255.6" y="70.07" font-size="7.6" text-anchor="start" fill="#231f20" transform="matrix(1 0 0 1.08 0 -5.606)">TMEM214</text>
<text x="255.6" y="77.85" font-size="7.6" text-anchor="start" fill="#231f20" transform="matrix(1 0 0 1.08 0 -6.228)">JAK1</text>
<text x="255.6" y="85.63" font-size="7.6" text-anchor="start" fill="#231f20" transform="matrix(1 0 0 1.08 0 -6.850)">HMGN2</text>
<text x="255.6" y="93.41" font-size="7.6" text-anchor="start" fill="#231f20" transform="matrix(1 0 0 1.08 0 -7.473)">PDAP1</text>
<text x="255.6" y="101.19" font-size="7.6" text-anchor="start" fill="#231f20" transform="matrix(1 0 0 1.08 0 -8.095)">UBTF</text>
<text x="255.6" y="108.97" font-size="7.6" text-anchor="start" fill="#231f20" transform="matrix(1 0 0 1.08 0 -8.718)">CRYZL1</text>
<text x="255.6" y="116.75" font-size="7.6" text-anchor="start" fill="#231f20" transform="matrix(1 0 0 1.08 0 -9.340)">ACSF3</text>
<text x="255.6" y="124.53" font-size="7.6" text-anchor="start" fill="#231f20" transform="matrix(1 0 0 1.08 0 -9.962)">AGFG1</text>
<text x="255.6" y="132.31" font-size="7.6" text-anchor="start" fill="#231f20" transform="matrix(1 0 0 1.08 0 -10.585)">DARS2</text>
<text x="255.6" y="140.09" font-size="7.6" text-anchor="start" fill="#231f20" transform="matrix(1 0 0 1.08 0 -11.207)">COA6</text>
<text x="255.6" y="147.87" font-size="7.6" text-anchor="start" fill="#231f20" transform="matrix(1 0 0 1.08 0 -11.830)">PEPD</text>
<text x="255.6" y="155.65" font-size="7.6" text-anchor="start" fill="#231f20" transform="matrix(1 0 0 1.08 0 -12.452)">NDUFA10</text>
<text x="255.6" y="163.43" font-size="7.6" text-anchor="start" fill="#231f20" transform="matrix(1 0 0 1.08 0 -13.074)">ARIH2</text>
<text x="255.6" y="171.21" font-size="7.6" text-anchor="start" fill="#231f20" transform="matrix(1 0 0 1.08 0 -13.697)">TOP3B</text>
<text x="255.6" y="178.99" font-size="7.6" text-anchor="start" fill="#231f20" transform="matrix(1 0 0 1.08 0 -14.319)">SLC25A1</text>
<text x="255.6" y="186.77" font-size="7.6" text-anchor="start" fill="#231f20" transform="matrix(1 0 0 1.08 0 -14.942)">DYNLL1</text>
<text x="255.6" y="194.55" font-size="7.6" text-anchor="start" fill="#231f20" transform="matrix(1 0 0 1.08 0 -15.564)">EEF1B2</text>
<text x="255.6" y="202.33" font-size="7.6" text-anchor="start" fill="#231f20" transform="matrix(1 0 0 1.08 0 -16.186)">PDHX</text>
<text x="255.6" y="210.11" font-size="7.6" text-anchor="start" fill="#231f20" transform="matrix(1 0 0 1.08 0 -16.809)">SP1</text>
<text x="255.6" y="217.89" font-size="7.6" text-anchor="start" fill="#231f20" transform="matrix(1 0 0 1.08 0 -17.431)">ILF2</text>
<text x="255.6" y="225.67" font-size="7.6" text-anchor="start" fill="#231f20" transform="matrix(1 0 0 1.08 0 -18.054)">CDKN1B</text>
<text x="255.6" y="233.45" font-size="7.6" text-anchor="start" fill="#231f20" transform="matrix(1 0 0 1.08 0 -18.676)">NDUFB4</text>
<text x="255.6" y="241.23" font-size="7.6" text-anchor="start" fill="#231f20" transform="matrix(1 0 0 1.08 0 -19.298)">RPL21</text>
<text x="255.6" y="249.01" font-size="7.6" text-anchor="start" fill="#231f20" transform="matrix(1 0 0 1.08 0 -19.921)">GANAB</text>
<text x="255.6" y="256.79" font-size="7.6" text-anchor="start" fill="#231f20" transform="matrix(1 0 0 1.08 0 -20.543)">ENO3</text>
<text x="255.6" y="264.57" font-size="7.6" text-anchor="start" fill="#231f20" transform="matrix(1 0 0 1.08 0 -21.166)">RAB11FIP1</text>
<text x="255.6" y="272.35" font-size="7.6" text-anchor="start" fill="#231f20" transform="matrix(1 0 0 1.08 0 -21.788)">NAP1L1</text>
<text x="255.6" y="280.13" font-size="7.6" text-anchor="start" fill="#231f20" transform="matrix(1 0 0 1.08 0 -22.410)">BID</text>
<text x="255.6" y="287.91" font-size="7.6" text-anchor="start" fill="#231f20" transform="matrix(1 0 0 1.08 0 -23.033)">RPL10A</text>
<text x="255.6" y="295.69" font-size="7.6" text-anchor="start" fill="#231f20" transform="matrix(1 0 0 1.08 0 -23.655)">HSF1</text>
<text x="255.6" y="303.47" font-size="7.6" text-anchor="start" fill="#231f20" transform="matrix(1 0 0 1.08 0 -24.278)">EIF4B</text>
<text x="255.6" y="311.25" font-size="7.6" text-anchor="start" fill="#231f20" transform="matrix(1 0 0 1.08 0 -24.900)">ACTL6A</text>
<text x="255.6" y="319.03" font-size="7.6" text-anchor="start" fill="#231f20" transform="matrix(1 0 0 1.08 0 -25.522)">CLNS1A</text>
<text x="255.6" y="326.81" font-size="7.6" text-anchor="start" fill="#231f20" transform="matrix(1 0 0 1.08 0 -26.145)">TAPT1</text>
<text x="255.6" y="334.59" font-size="7.6" text-anchor="start" fill="#231f20" transform="matrix(1 0 0 1.08 0 -26.767)">PMVK</text>
<text x="255.6" y="342.37" font-size="7.6" text-anchor="start" fill="#231f20" transform="matrix(1 0 0 1.08 0 -27.390)">RPL4</text>
<text x="255.6" y="350.15" font-size="7.6" text-anchor="start" fill="#231f20" transform="matrix(1 0 0 1.08 0 -28.012)">MPHOSPH10</text>
<text x="255.6" y="357.93" font-size="7.6" text-anchor="start" fill="#231f20" transform="matrix(1 0 0 1.08 0 -28.634)">PPM1D</text>
<text x="255.6" y="365.71" font-size="7.6" text-anchor="start" fill="#231f20" transform="matrix(1 0 0 1.08 0 -29.257)">CSNK2B</text>
<text x="255.6" y="373.49" font-size="7.6" text-anchor="start" fill="#231f20" transform="matrix(1 0 0 1.08 0 -29.879)">NDUFB8</text>
<text x="255.6" y="381.27" font-size="7.6" text-anchor="start" fill="#231f20" transform="matrix(1 0 0 1.08 0 -30.502)">NPC1</text>
<text x="255.6" y="389.05" font-size="7.6" text-anchor="start" fill="#231f20" transform="matrix(1 0 0 1.08 0 -31.124)">COX5B</text>
<text x="255.6" y="396.83" font-size="7.6" text-anchor="start" fill="#231f20" transform="matrix(1 0 0 1.08 0 -31.746)">HSDL2</text>
<text x="255.6" y="404.61" font-size="7.6" text-anchor="start" fill="#231f20" transform="matrix(1 0 0 1.08 0 -32.369)">BRD1</text>
<text x="255.6" y="412.39" font-size="7.6" text-anchor="start" fill="#231f20" transform="matrix(1 0 0 1.08 0 -32.991)">SNRPD3</text>
<text x="255.6" y="420.17" font-size="7.6" text-anchor="start" fill="#231f20" transform="matrix(1 0 0 1.08 0 -33.614)">NELFE</text>
<text x="255.6" y="427.95" font-size="7.6" text-anchor="start" fill="#231f20" transform="matrix(1 0 0 1.08 0 -34.236)">MTIF2</text>
<text x="255.6" y="435.73" font-size="7.6" text-anchor="start" fill="#231f20" transform="matrix(1 0 0 1.08 0 -34.858)">PIAS1</text>
<text x="255.6" y="443.51" font-size="7.6" text-anchor="start" fill="#231f20" transform="matrix(1 0 0 1.08 0 -35.481)">RAB5A</text>
<polyline points="180.4,102.3 171.5,102.3 171.5,300 180.4,300" fill="none" stroke="#8c8c8c" stroke-width="0.9"/>
<line x1="179.7" y1="102" x2="179.7" y2="441" stroke="#707070" stroke-width="0.9"/>
<defs><linearGradient id="gC" x1="0" y1="0" x2="0" y2="1"><stop offset="0" stop-color="#c8102a"/><stop offset="0.08" stop-color="#d83a3a"/><stop offset="0.3" stop-color="#f0a080"/><stop offset="0.5" stop-color="#faeee8"/><stop offset="0.58" stop-color="#f7f7f7"/><stop offset="0.76" stop-color="#b8d5ea"/><stop offset="1" stop-color="#4f8ec4"/></linearGradient><linearGradient id="gF" x1="0" y1="0" x2="0" y2="1"><stop offset="0" stop-color="#b5122e"/><stop offset="0.3" stop-color="#9a2050"/><stop offset="0.52" stop-color="#6a305e"/><stop offset="0.66" stop-color="#334c88"/><stop offset="0.88" stop-color="#2b5593"/><stop offset="1" stop-color="#1d62a6"/></linearGradient><linearGradient id="gG" x1="0" y1="0" x2="0" y2="1"><stop offset="0" stop-color="#a0101e"/><stop offset="0.15" stop-color="#d84040"/><stop offset="0.32" stop-color="#f3a088"/><stop offset="0.48" stop-color="#fbe4dc"/><stop offset="0.6" stop-color="#f8f8f8"/><stop offset="0.72" stop-color="#d6e6f2"/><stop offset="0.88" stop-color="#98bedc"/><stop offset="1" stop-color="#4a80b0"/></linearGradient><linearGradient id="gH" x1="0" y1="0" x2="0" y2="1"><stop offset="0" stop-color="#a0101e"/><stop offset="0.12" stop-color="#d83030"/><stop offset="0.3" stop-color="#f09078"/><stop offset="0.45" stop-color="#fbe0d8"/><stop offset="0.52" stop-color="#f8f8f8"/><stop offset="0.62" stop-color="#d8e8f3"/><stop offset="0.8" stop-color="#98c0e0"/><stop offset="1" stop-color="#4a80b8"/></linearGradient></defs>
<rect x="159.4" y="346.6" width="16.9" height="59.4" fill="#fff" stroke="#c8c8c8" stroke-width="0.7"/>
<rect x="159.50" y="347.40" width="4.30" height="58.50" fill="url(#gC)"/>
<text x="167.2" y="362.7" font-size="8.8" text-anchor="start" fill="#231f20" transform="matrix(1 0 0 1.08 0 -29.016)">2</text>
<text x="167.2" y="388" font-size="8.8" text-anchor="start" fill="#231f20" transform="matrix(1 0 0 1.08 0 -31.040)">0</text>
<text x="161" y="416.7" font-size="8.8" text-anchor="start" fill="#231f20" transform="matrix(1 0 0 1.08 0 -33.336)">−2</text>
<text x="216" y="454.8" font-size="8" text-anchor="middle" fill="#231f20" transform="matrix(1 0 0 1.08 0 -36.384)">Proteomics</text>
<text x="217" y="464.6" font-size="7.4" text-anchor="middle" font-style="italic" fill="#231f20" transform="matrix(1 0 0 1.08 0 -37.17)">Top 50 T-test</text>
<text x="319" y="24" font-size="16.6" text-anchor="start" fill="#000" font-weight="bold">D</text>
<text x="357" y="21" font-size="11.7" text-anchor="middle" fill="#231f20" transform="matrix(1 0 0 1.08 0 -1.680)"><tspan font-family='"Liberation Serif", serif'>β</tspan>Thal</text>
<text x="357" y="35.8" font-size="11.7" text-anchor="middle" fill="#231f20" transform="matrix(1 0 0 1.08 0 -2.864)">Vehicle</text>
<text x="405.5" y="21" font-size="11.7" text-anchor="middle" fill="#231f20" transform="matrix(1 0 0 1.08 0 -1.680)"><tspan font-family='"Liberation Serif", serif'>β</tspan>Thal</text>
<text x="405.5" y="35.8" font-size="11.7" text-anchor="middle" fill="#231f20" transform="matrix(1 0 0 1.08 0 -2.864)">Mitapivat</text>
<rect x="345.30" y="43.30" width="8.56" height="5.10" fill="#19215f"/>
<rect x="353.81" y="43.30" width="8.56" height="5.10" fill="#19215f"/>
<rect x="362.32" y="43.30" width="8.56" height="5.10" fill="#19215f"/>
<rect x="370.84" y="43.30" width="8.56" height="5.10" fill="#19215f"/>
<rect x="379.35" y="43.30" width="8.56" height="5.10" fill="#d0101e"/>
<rect x="387.86" y="43.30" width="8.56" height="5.10" fill="#d0101e"/>
<rect x="396.38" y="43.30" width="8.56" height="5.10" fill="#d0101e"/>
<rect x="404.89" y="43.30" width="8.56" height="5.10" fill="#d0101e"/>
<line x1="353.81" y1="43.3" x2="353.81" y2="48.4" stroke="#4a5288" stroke-width="0.45"/>
<line x1="362.32" y1="43.3" x2="362.32" y2="48.4" stroke="#4a5288" stroke-width="0.45"/>
<line x1="370.84" y1="43.3" x2="370.84" y2="48.4" stroke="#4a5288" stroke-width="0.45"/>
<line x1="379.35" y1="43.3" x2="379.35" y2="48.4" stroke="#e8505a" stroke-width="0.45"/>
<line x1="387.86" y1="43.3" x2="387.86" y2="48.4" stroke="#e8505a" stroke-width="0.45"/>
<line x1="396.38" y1="43.3" x2="396.38" y2="48.4" stroke="#e8505a" stroke-width="0.45"/>
<line x1="404.89" y1="43.3" x2="404.89" y2="48.4" stroke="#e8505a" stroke-width="0.45"/>
<rect x="345.30" y="50.20" width="8.56" height="7.91" fill="#f8ded1"/>
<rect x="353.81" y="50.20" width="8.56" height="7.91" fill="#cb2f34"/>
<rect x="362.32" y="50.20" width="8.56" height="7.91" fill="#e2ecf4"/>
<rect x="370.83" y="50.20" width="8.56" height="7.91" fill="#cb2f34"/>
<rect x="379.34" y="50.20" width="8.56" height="7.91" fill="#62a0d2"/>
<rect x="387.85" y="50.20" width="8.56" height="7.91" fill="#d8e7f3"/>
<rect x="396.36" y="50.20" width="8.56" height="7.91" fill="#79aed9"/>
<rect x="404.87" y="50.20" width="8.56" height="7.91" fill="#a6cbe6"/>
<rect x="345.30" y="58.06" width="8.56" height="7.91" fill="#f9d2be"/>
<rect x="353.81" y="58.06" width="8.56" height="7.91" fill="#d34541"/>
<rect x="362.32" y="58.06" width="8.56" height="7.91" fill="#b7d4ea"/>
<rect x="370.83" y="58.06" width="8.56" height="7.91" fill="#cb2f34"/>
<rect x="379.34" y="58.06" width="8.56" height="7.91" fill="#79aed9"/>
<rect x="387.85" y="58.06" width="8.56" height="7.91" fill="#79aed9"/>
<rect x="396.36" y="58.06" width="8.56" height="7.91" fill="#79aed9"/>
<rect x="404.87" y="58.06" width="8.56" height="7.91" fill="#f9d2be"/>
<rect x="345.30" y="65.92" width="8.56" height="7.91" fill="#d8e7f3"/>
<rect x="353.81" y="65.92" width="8.56" height="7.91" fill="#e2705a"/>
<rect x="362.32" y="65.92" width="8.56" height="7.91" fill="#e2705a"/>
<rect x="370.83" y="65.92" width="8.56" height="7.91" fill="#ed9277"/>
<rect x="379.34" y="65.92" width="8.56" height="7.91" fill="#4085c3"/>
<rect x="387.85" y="65.92" width="8.56" height="7.91" fill="#f9d2be"/>
<rect x="396.36" y="65.92" width="8.56" height="7.91" fill="#b7d4ea"/>
<rect x="404.87" y="65.92" width="8.56" height="7.91" fill="#2f77bb"/>
<rect x="345.30" y="73.78" width="8.56" height="7.91" fill="#f8ded1"/>
<rect x="353.81" y="73.78" width="8.56" height="7.91" fill="#edf2f6"/>
<rect x="362.32" y="73.78" width="8.56" height="7.91" fill="#ed9277"/>
<rect x="370.83" y="73.78" width="8.56" height="7.91" fill="#da5a4d"/>
<rect x="379.34" y="73.78" width="8.56" height="7.91" fill="#2f77bb"/>
<rect x="387.85" y="73.78" width="8.56" height="7.91" fill="#f9d2be"/>
<rect x="396.36" y="73.78" width="8.56" height="7.91" fill="#f7c2ab"/>
<rect x="404.87" y="73.78" width="8.56" height="7.91" fill="#4085c3"/>
<rect x="345.30" y="81.64" width="8.56" height="7.91" fill="#cb2f34"/>
<rect x="353.81" y="81.64" width="8.56" height="7.91" fill="#a6cbe6"/>
<rect x="362.32" y="81.64" width="8.56" height="7.91" fill="#da5a4d"/>
<rect x="370.83" y="81.64" width="8.56" height="7.91" fill="#f7c2ab"/>
<rect x="379.34" y="81.64" width="8.56" height="7.91" fill="#79aed9"/>
<rect x="387.85" y="81.64" width="8.56" height="7.91" fill="#f8ebe4"/>
<rect x="396.36" y="81.64" width="8.56" height="7.91" fill="#79aed9"/>
<rect x="404.87" y="81.64" width="8.56" height="7.91" fill="#a6cbe6"/>
<rect x="345.30" y="89.50" width="8.56" height="7.91" fill="#cb2f34"/>
<rect x="353.81" y="89.50" width="8.56" height="7.91" fill="#d8e7f3"/>
<rect x="362.32" y="89.50" width="8.56" height="7.91" fill="#f8ebe4"/>
<rect x="370.83" y="89.50" width="8.56" height="7.91" fill="#f2a385"/>
<rect x="379.34" y="89.50" width="8.56" height="7.91" fill="#2f77bb"/>
<rect x="387.85" y="89.50" width="8.56" height="7.91" fill="#79aed9"/>
<rect x="396.36" y="89.50" width="8.56" height="7.91" fill="#d8e7f3"/>
<rect x="404.87" y="89.50" width="8.56" height="7.91" fill="#f7c2ab"/>
<rect x="345.30" y="97.36" width="8.56" height="7.91" fill="#8fbddf"/>
<rect x="353.81" y="97.36" width="8.56" height="7.91" fill="#e2ecf4"/>
<rect x="362.32" y="97.36" width="8.56" height="7.91" fill="#164a91"/>
<rect x="370.83" y="97.36" width="8.56" height="7.91" fill="#f9d2be"/>
<rect x="379.34" y="97.36" width="8.56" height="7.91" fill="#f8ebe4"/>
<rect x="387.85" y="97.36" width="8.56" height="7.91" fill="#f2a385"/>
<rect x="396.36" y="97.36" width="8.56" height="7.91" fill="#f7c2ab"/>
<rect x="404.87" y="97.36" width="8.56" height="7.91" fill="#ed9277"/>
<rect x="345.30" y="105.22" width="8.56" height="7.91" fill="#d8e7f3"/>
<rect x="353.81" y="105.22" width="8.56" height="7.91" fill="#a6cbe6"/>
<rect x="362.32" y="105.22" width="8.56" height="7.91" fill="#79aed9"/>
<rect x="370.83" y="105.22" width="8.56" height="7.91" fill="#e2ecf4"/>
<rect x="379.34" y="105.22" width="8.56" height="7.91" fill="#f8ded1"/>
<rect x="387.85" y="105.22" width="8.56" height="7.91" fill="#9f1322"/>
<rect x="396.36" y="105.22" width="8.56" height="7.91" fill="#f8ded1"/>
<rect x="404.87" y="105.22" width="8.56" height="7.91" fill="#b7d4ea"/>
<rect x="345.30" y="113.08" width="8.56" height="7.91" fill="#79aed9"/>
<rect x="353.81" y="113.08" width="8.56" height="7.91" fill="#62a0d2"/>
<rect x="362.32" y="113.08" width="8.56" height="7.91" fill="#79aed9"/>
<rect x="370.83" y="113.08" width="8.56" height="7.91" fill="#edf2f6"/>
<rect x="379.34" y="113.08" width="8.56" height="7.91" fill="#f9d2be"/>
<rect x="387.85" y="113.08" width="8.56" height="7.91" fill="#f7c2ab"/>
<rect x="396.36" y="113.08" width="8.56" height="7.91" fill="#bc262e"/>
<rect x="404.87" y="113.08" width="8.56" height="7.91" fill="#f8ded1"/>
<rect x="345.30" y="120.94" width="8.56" height="7.91" fill="#f8ded1"/>
<rect x="353.81" y="120.94" width="8.56" height="7.91" fill="#2f77bb"/>
<rect x="362.32" y="120.94" width="8.56" height="7.91" fill="#79aed9"/>
<rect x="370.83" y="120.94" width="8.56" height="7.91" fill="#f8ded1"/>
<rect x="379.34" y="120.94" width="8.56" height="7.91" fill="#f8ebe4"/>
<rect x="387.85" y="120.94" width="8.56" height="7.91" fill="#edf2f6"/>
<rect x="396.36" y="120.94" width="8.56" height="7.91" fill="#bc262e"/>
<rect x="404.87" y="120.94" width="8.56" height="7.91" fill="#f9d2be"/>
<rect x="345.30" y="128.80" width="8.56" height="7.91" fill="#e2ecf4"/>
<rect x="353.81" y="128.80" width="8.56" height="7.91" fill="#1e599f"/>
<rect x="362.32" y="128.80" width="8.56" height="7.91" fill="#d8e7f3"/>
<rect x="370.83" y="128.80" width="8.56" height="7.91" fill="#a6cbe6"/>
<rect x="379.34" y="128.80" width="8.56" height="7.91" fill="#f7c2ab"/>
<rect x="387.85" y="128.80" width="8.56" height="7.91" fill="#f2a385"/>
<rect x="396.36" y="128.80" width="8.56" height="7.91" fill="#f7c2ab"/>
<rect x="404.87" y="128.80" width="8.56" height="7.91" fill="#f2a385"/>
<rect x="345.30" y="136.66" width="8.56" height="7.91" fill="#2f77bb"/>
<rect x="353.81" y="136.66" width="8.56" height="7.91" fill="#5192ca"/>
<rect x="362.32" y="136.66" width="8.56" height="7.91" fill="#f2a385"/>
<rect x="370.83" y="136.66" width="8.56" height="7.91" fill="#e2ecf4"/>
<rect x="379.34" y="136.66" width="8.56" height="7.91" fill="#f9d2be"/>
<rect x="387.85" y="136.66" width="8.56" height="7.91" fill="#f7c2ab"/>
<rect x="396.36" y="136.66" width="8.56" height="7.91" fill="#f8ebe4"/>
<rect x="404.87" y="136.66" width="8.56" height="7.91" fill="#e2705a"/>
<rect x="345.30" y="144.52" width="8.56" height="7.91" fill="#a6cbe6"/>
<rect x="353.81" y="144.52" width="8.56" height="7.91" fill="#79aed9"/>
<rect x="362.32" y="144.52" width="8.56" height="7.91" fill="#79aed9"/>
<rect x="370.83" y="144.52" width="8.56" height="7.91" fill="#d8e7f3"/>
<rect x="379.34" y="144.52" width="8.56" height="7.91" fill="#cb2f34"/>
<rect x="387.85" y="144.52" width="8.56" height="7.91" fill="#f8ebe4"/>
<rect x="396.36" y="144.52" width="8.56" height="7.91" fill="#f7f7f7"/>
<rect x="404.87" y="144.52" width="8.56" height="7.91" fill="#bc262e"/>
<rect x="345.30" y="152.38" width="8.56" height="7.91" fill="#f8ded1"/>
<rect x="353.81" y="152.38" width="8.56" height="7.91" fill="#79aed9"/>
<rect x="362.32" y="152.38" width="8.56" height="7.91" fill="#79aed9"/>
<rect x="370.83" y="152.38" width="8.56" height="7.91" fill="#b7d4ea"/>
<rect x="379.34" y="152.38" width="8.56" height="7.91" fill="#bc262e"/>
<rect x="387.85" y="152.38" width="8.56" height="7.91" fill="#f8ebe4"/>
<rect x="396.36" y="152.38" width="8.56" height="7.91" fill="#a6cbe6"/>
<rect x="404.87" y="152.38" width="8.56" height="7.91" fill="#e2705a"/>
<rect x="345.30" y="160.24" width="8.56" height="7.91" fill="#a6cbe6"/>
<rect x="353.81" y="160.24" width="8.56" height="7.91" fill="#62a0d2"/>
<rect x="362.32" y="160.24" width="8.56" height="7.91" fill="#79aed9"/>
<rect x="370.83" y="160.24" width="8.56" height="7.91" fill="#d8e7f3"/>
<rect x="379.34" y="160.24" width="8.56" height="7.91" fill="#ed9277"/>
<rect x="387.85" y="160.24" width="8.56" height="7.91" fill="#b7d4ea"/>
<rect x="396.36" y="160.24" width="8.56" height="7.91" fill="#e2705a"/>
<rect x="404.87" y="160.24" width="8.56" height="7.91" fill="#cb2f34"/>
<rect x="345.30" y="168.10" width="8.56" height="7.91" fill="#f7c2ab"/>
<rect x="353.81" y="168.10" width="8.56" height="7.91" fill="#4085c3"/>
<rect x="362.32" y="168.10" width="8.56" height="7.91" fill="#a6cbe6"/>
<rect x="370.83" y="168.10" width="8.56" height="7.91" fill="#c7deef"/>
<rect x="379.34" y="168.10" width="8.56" height="7.91" fill="#e2705a"/>
<rect x="387.85" y="168.10" width="8.56" height="7.91" fill="#a6cbe6"/>
<rect x="396.36" y="168.10" width="8.56" height="7.91" fill="#f8ded1"/>
<rect x="404.87" y="168.10" width="8.56" height="7.91" fill="#cb2f34"/>
<rect x="345.30" y="175.96" width="8.56" height="7.91" fill="#5192ca"/>
<rect x="353.81" y="175.96" width="8.56" height="7.91" fill="#f8ded1"/>
<rect x="362.32" y="175.96" width="8.56" height="7.91" fill="#b7d4ea"/>
<rect x="370.83" y="175.96" width="8.56" height="7.91" fill="#b7d4ea"/>
<rect x="379.34" y="175.96" width="8.56" height="7.91" fill="#cb2f34"/>
<rect x="387.85" y="175.96" width="8.56" height="7.91" fill="#e2705a"/>
<rect x="396.36" y="175.96" width="8.56" height="7.91" fill="#62a0d2"/>
<rect x="404.87" y="175.96" width="8.56" height="7.91" fill="#f7c2ab"/>
<rect x="345.30" y="183.82" width="8.56" height="7.91" fill="#62a0d2"/>
<rect x="353.81" y="183.82" width="8.56" height="7.91" fill="#d8e7f3"/>
<rect x="362.32" y="183.82" width="8.56" height="7.91" fill="#b7d4ea"/>
<rect x="370.83" y="183.82" width="8.56" height="7.91" fill="#a6cbe6"/>
<rect x="379.34" y="183.82" width="8.56" height="7.91" fill="#9f1322"/>
<rect x="387.85" y="183.82" width="8.56" height="7.91" fill="#f7f7f7"/>
<rect x="396.36" y="183.82" width="8.56" height="7.91" fill="#f9d2be"/>
<rect x="404.87" y="183.82" width="8.56" height="7.91" fill="#f9d2be"/>
<rect x="345.30" y="191.68" width="8.56" height="7.91" fill="#d8e7f3"/>
<rect x="353.81" y="191.68" width="8.56" height="7.91" fill="#e2ecf4"/>
<rect x="362.32" y="191.68" width="8.56" height="7.91" fill="#b7d4ea"/>
<rect x="370.83" y="191.68" width="8.56" height="7.91" fill="#2f77bb"/>
<rect x="379.34" y="191.68" width="8.56" height="7.91" fill="#ae1c28"/>
<rect x="387.85" y="191.68" width="8.56" height="7.91" fill="#f8ded1"/>
<rect x="396.36" y="191.68" width="8.56" height="7.91" fill="#f9d2be"/>
<rect x="404.87" y="191.68" width="8.56" height="7.91" fill="#f8ded1"/>
<rect x="345.30" y="199.54" width="8.56" height="7.91" fill="#b7d4ea"/>
<rect x="353.81" y="199.54" width="8.56" height="7.91" fill="#e2ecf4"/>
<rect x="362.32" y="199.54" width="8.56" height="7.91" fill="#e2ecf4"/>
<rect x="370.83" y="199.54" width="8.56" height="7.91" fill="#2f77bb"/>
<rect x="379.34" y="199.54" width="8.56" height="7.91" fill="#9f1322"/>
<rect x="387.85" y="199.54" width="8.56" height="7.91" fill="#f8ebe4"/>
<rect x="396.36" y="199.54" width="8.56" height="7.91" fill="#f8ebe4"/>
<rect x="404.87" y="199.54" width="8.56" height="7.91" fill="#f7f7f7"/>
<rect x="345.30" y="207.40" width="8.56" height="7.91" fill="#f2a385"/>
<rect x="353.81" y="207.40" width="8.56" height="7.91" fill="#b7d4ea"/>
<rect x="362.32" y="207.40" width="8.56" height="7.91" fill="#4085c3"/>
<rect x="370.83" y="207.40" width="8.56" height="7.91" fill="#2f77bb"/>
<rect x="379.34" y="207.40" width="8.56" height="7.91" fill="#e78168"/>
<rect x="387.85" y="207.40" width="8.56" height="7.91" fill="#e78168"/>
<rect x="396.36" y="207.40" width="8.56" height="7.91" fill="#f9d2be"/>
<rect x="404.87" y="207.40" width="8.56" height="7.91" fill="#edf2f6"/>
<rect x="345.30" y="215.26" width="8.56" height="7.91" fill="#f2a385"/>
<rect x="353.81" y="215.26" width="8.56" height="7.91" fill="#e2ecf4"/>
<rect x="362.32" y="215.26" width="8.56" height="7.91" fill="#2f77bb"/>
<rect x="370.83" y="215.26" width="8.56" height="7.91" fill="#2f77bb"/>
<rect x="379.34" y="215.26" width="8.56" height="7.91" fill="#f7c2ab"/>
<rect x="387.85" y="215.26" width="8.56" height="7.91" fill="#f7f7f7"/>
<rect x="396.36" y="215.26" width="8.56" height="7.91" fill="#e2705a"/>
<rect x="404.87" y="215.26" width="8.56" height="7.91" fill="#f9d2be"/>
<rect x="345.30" y="223.12" width="8.56" height="7.91" fill="#edf2f6"/>
<rect x="353.81" y="223.12" width="8.56" height="7.91" fill="#4085c3"/>
<rect x="362.32" y="223.12" width="8.56" height="7.91" fill="#b7d4ea"/>
<rect x="370.83" y="223.12" width="8.56" height="7.91" fill="#b7d4ea"/>
<rect x="379.34" y="223.12" width="8.56" height="7.91" fill="#bc262e"/>
<rect x="387.85" y="223.12" width="8.56" height="7.91" fill="#f9d2be"/>
<rect x="396.36" y="223.12" width="8.56" height="7.91" fill="#f2a385"/>
<rect x="404.87" y="223.12" width="8.56" height="7.91" fill="#79aed9"/>
<rect x="345.30" y="230.98" width="8.56" height="7.91" fill="#edf2f6"/>
<rect x="353.81" y="230.98" width="8.56" height="7.91" fill="#a6cbe6"/>
<rect x="362.32" y="230.98" width="8.56" height="7.91" fill="#79aed9"/>
<rect x="370.83" y="230.98" width="8.56" height="7.91" fill="#79aed9"/>
<rect x="379.34" y="230.98" width="8.56" height="7.91" fill="#cb2f34"/>
<rect x="387.85" y="230.98" width="8.56" height="7.91" fill="#79aed9"/>
<rect x="396.36" y="230.98" width="8.56" height="7.91" fill="#f2a385"/>
<rect x="404.87" y="230.98" width="8.56" height="7.91" fill="#ed9277"/>
<rect x="345.30" y="238.84" width="8.56" height="7.91" fill="#edf2f6"/>
<rect x="353.81" y="238.84" width="8.56" height="7.91" fill="#a6cbe6"/>
<rect x="362.32" y="238.84" width="8.56" height="7.91" fill="#c7deef"/>
<rect x="370.83" y="238.84" width="8.56" height="7.91" fill="#79aed9"/>
<rect x="379.34" y="238.84" width="8.56" height="7.91" fill="#cb2f34"/>
<rect x="387.85" y="238.84" width="8.56" height="7.91" fill="#a6cbe6"/>
<rect x="396.36" y="238.84" width="8.56" height="7.91" fill="#cb2f34"/>
<rect x="404.87" y="238.84" width="8.56" height="7.91" fill="#edf2f6"/>
<line x1="345.3" y1="50.2" x2="413.38" y2="50.2" stroke="#d9d9d9" stroke-width="0.35"/>
<line x1="345.3" y1="58.06" x2="413.38" y2="58.06" stroke="#d9d9d9" stroke-width="0.35"/>
<line x1="345.3" y1="65.92" x2="413.38" y2="65.92" stroke="#d9d9d9" stroke-width="0.35"/>
<line x1="345.3" y1="73.78" x2="413.38" y2="73.78" stroke="#d9d9d9" stroke-width="0.35"/>
<line x1="345.3" y1="81.64" x2="413.38" y2="81.64" stroke="#d9d9d9" stroke-width="0.35"/>
<line x1="345.3" y1="89.5" x2="413.38" y2="89.5" stroke="#d9d9d9" stroke-width="0.35"/>
<line x1="345.3" y1="97.36" x2="413.38" y2="97.36" stroke="#d9d9d9" stroke-width="0.35"/>
<line x1="345.3" y1="105.22" x2="413.38" y2="105.22" stroke="#d9d9d9" stroke-width="0.35"/>
<line x1="345.3" y1="113.08" x2="413.38" y2="113.08" stroke="#d9d9d9" stroke-width="0.35"/>
<line x1="345.3" y1="120.94" x2="413.38" y2="120.94" stroke="#d9d9d9" stroke-width="0.35"/>
<line x1="345.3" y1="128.8" x2="413.38" y2="128.8" stroke="#d9d9d9" stroke-width="0.35"/>
<line x1="345.3" y1="136.66" x2="413.38" y2="136.66" stroke="#d9d9d9" stroke-width="0.35"/>
<line x1="345.3" y1="144.52" x2="413.38" y2="144.52" stroke="#d9d9d9" stroke-width="0.35"/>
<line x1="345.3" y1="152.38" x2="413.38" y2="152.38" stroke="#d9d9d9" stroke-width="0.35"/>
<line x1="345.3" y1="160.24" x2="413.38" y2="160.24" stroke="#d9d9d9" stroke-width="0.35"/>
<line x1="345.3" y1="168.1" x2="413.38" y2="168.1" stroke="#d9d9d9" stroke-width="0.35"/>
<line x1="345.3" y1="175.96" x2="413.38" y2="175.96" stroke="#d9d9d9" stroke-width="0.35"/>
<line x1="345.3" y1="183.82" x2="413.38" y2="183.82" stroke="#d9d9d9" stroke-width="0.35"/>
<line x1="345.3" y1="191.68" x2="413.38" y2="191.68" stroke="#d9d9d9" stroke-width="0.35"/>
<line x1="345.3" y1="199.54" x2="413.38" y2="199.54" stroke="#d9d9d9" stroke-width="0.35"/>
<line x1="345.3" y1="207.4" x2="413.38" y2="207.4" stroke="#d9d9d9" stroke-width="0.35"/>
<line x1="345.3" y1="215.26" x2="413.38" y2="215.26" stroke="#d9d9d9" stroke-width="0.35"/>
<line x1="345.3" y1="223.12" x2="413.38" y2="223.12" stroke="#d9d9d9" stroke-width="0.35"/>
<line x1="345.3" y1="230.98" x2="413.38" y2="230.98" stroke="#d9d9d9" stroke-width="0.35"/>
<line x1="345.3" y1="238.84" x2="413.38" y2="238.84" stroke="#d9d9d9" stroke-width="0.35"/>
<line x1="345.3" y1="246.7" x2="413.38" y2="246.7" stroke="#d9d9d9" stroke-width="0.35"/>
<line x1="345.3" y1="50.2" x2="345.3" y2="246.7" stroke="#d9d9d9" stroke-width="0.35"/>
<line x1="353.81" y1="50.2" x2="353.81" y2="246.7" stroke="#d9d9d9" stroke-width="0.35"/>
<line x1="362.32" y1="50.2" x2="362.32" y2="246.7" stroke="#d9d9d9" stroke-width="0.35"/>
<line x1="370.83" y1="50.2" x2="370.83" y2="246.7" stroke="#d9d9d9" stroke-width="0.35"/>
<line x1="379.34" y1="50.2" x2="379.34" y2="246.7" stroke="#d9d9d9" stroke-width="0.35"/>
<line x1="387.85" y1="50.2" x2="387.85" y2="246.7" stroke="#d9d9d9" stroke-width="0.35"/>
<line x1="396.36" y1="50.2" x2="396.36" y2="246.7" stroke="#d9d9d9" stroke-width="0.35"/>
<line x1="404.87" y1="50.2" x2="404.87" y2="246.7" stroke="#d9d9d9" stroke-width="0.35"/>
<line x1="413.38" y1="50.2" x2="413.38" y2="246.7" stroke="#d9d9d9" stroke-width="0.35"/>
<text x="417.8" y="58.03" font-size="7.5" text-anchor="start" fill="#231f20" transform="matrix(1 0 0 1.08 0 -4.642)">GMP</text>
<text x="417.8" y="65.89" font-size="7.5" text-anchor="start" fill="#231f20" transform="matrix(1 0 0 1.08 0 -5.271)">D–Ribose</text>
<text x="417.8" y="73.75" font-size="7.5" text-anchor="start" fill="#231f20" transform="matrix(1 0 0 1.08 0 -5.900)">Pentose P</text>
<text x="417.8" y="81.61" font-size="7.5" text-anchor="start" fill="#231f20" transform="matrix(1 0 0 1.08 0 -6.529)">Ethanolamine P</text>
<text x="417.8" y="89.47" font-size="7.5" text-anchor="start" fill="#231f20" transform="matrix(1 0 0 1.08 0 -7.158)">D–Glucosamine</text>
<text x="417.8" y="97.33" font-size="7.5" text-anchor="start" fill="#231f20" transform="matrix(1 0 0 1.08 0 -7.786)">L–Aspartate</text>
<text x="417.8" y="105.19" font-size="7.5" text-anchor="start" fill="#231f20" transform="matrix(1 0 0 1.08 0 -8.415)">N–Acetylneuraminate</text>
<text x="417.8" y="113.05" font-size="7.5" text-anchor="start" fill="#231f20" transform="matrix(1 0 0 1.08 0 -9.044)">FA 8:0</text>
<text x="417.8" y="120.91" font-size="7.5" text-anchor="start" fill="#231f20" transform="matrix(1 0 0 1.08 0 -9.673)">UDP</text>
<text x="417.8" y="128.77" font-size="7.5" text-anchor="start" fill="#231f20" transform="matrix(1 0 0 1.08 0 -10.302)">Phosphocreatine</text>
<text x="417.8" y="136.63" font-size="7.5" text-anchor="start" fill="#231f20" transform="matrix(1 0 0 1.08 0 -10.930)">FA 10:0</text>
<text x="417.8" y="144.49" font-size="7.5" text-anchor="start" fill="#231f20" transform="matrix(1 0 0 1.08 0 -11.559)">Allantoin</text>
<text x="417.8" y="152.35" font-size="7.5" text-anchor="start" fill="#231f20" transform="matrix(1 0 0 1.08 0 -12.188)">Creatine</text>
<text x="417.8" y="160.21" font-size="7.5" text-anchor="start" fill="#231f20" transform="matrix(1 0 0 1.08 0 -12.817)">CMP–N–acetylneuraminate</text>
<text x="417.8" y="168.07" font-size="7.5" text-anchor="start" fill="#231f20" transform="matrix(1 0 0 1.08 0 -13.446)">ATP</text>
<text x="417.8" y="175.93" font-size="7.5" text-anchor="start" fill="#231f20" transform="matrix(1 0 0 1.08 0 -14.074)">CTP</text>
<text x="417.8" y="183.79" font-size="7.5" text-anchor="start" fill="#231f20" transform="matrix(1 0 0 1.08 0 -14.703)">N–Methylethanolamine</text>
<text x="417.8" y="191.65" font-size="7.5" text-anchor="start" fill="#231f20" transform="matrix(1 0 0 1.08 0 -15.332)">GTP</text>
<text x="417.8" y="199.51" font-size="7.5" text-anchor="start" fill="#231f20" transform="matrix(1 0 0 1.08 0 -15.961)">Phosphate</text>
<text x="417.8" y="207.37" font-size="7.5" text-anchor="start" fill="#231f20" transform="matrix(1 0 0 1.08 0 -16.590)">Diphosphate</text>
<text x="417.8" y="215.23" font-size="7.5" text-anchor="start" fill="#231f20" transform="matrix(1 0 0 1.08 0 -17.218)">12,13–DiHOME</text>
<text x="417.8" y="223.09" font-size="7.5" text-anchor="start" fill="#231f20" transform="matrix(1 0 0 1.08 0 -17.847)">FA 9:0</text>
<text x="417.8" y="230.95" font-size="7.5" text-anchor="start" fill="#231f20" transform="matrix(1 0 0 1.08 0 -18.476)">Deoxycholic acid</text>
<text x="417.8" y="238.81" font-size="7.5" text-anchor="start" fill="#231f20" transform="matrix(1 0 0 1.08 0 -19.105)">Ribose PP</text>
<text x="417.8" y="246.67" font-size="7.5" text-anchor="start" fill="#231f20" transform="matrix(1 0 0 1.08 0 -19.734)">Glycolithocholic acid</text>
<g fill="none" stroke="#8c8c8c" stroke-width="0.9"><polyline points="343.5,70 335.4,70 335.4,149.6 343.5,149.6"/><polyline points="344.5,117.6 341.8,117.6 341.8,240 344.5,240"/></g>
<line x1="344.3" y1="52" x2="344.3" y2="246" stroke="#9a9a9a" stroke-width="0.8"/>
<g fill="none" stroke="#8c8c8c" stroke-width="0.9"><line x1="349.6" y1="246.7" x2="349.6" y2="254.2"/><line x1="358.1" y1="246.7" x2="358.1" y2="254.2"/><line x1="366.6" y1="246.7" x2="366.6" y2="254.2"/><line x1="375.1" y1="246.7" x2="375.1" y2="254.2"/><line x1="383.6" y1="246.7" x2="383.6" y2="255.5"/><line x1="392.1" y1="246.7" x2="392.1" y2="255.5"/><line x1="400.6" y1="246.7" x2="400.6" y2="255.5"/><line x1="409.1" y1="246.7" x2="409.1" y2="255.5"/><line x1="349.6" y1="254.2" x2="375.1" y2="254.2"/><line x1="383.6" y1="255.5" x2="409.1" y2="255.5"/><polyline points="357.2,254.2 357.2,266.4 392.3,266.4 392.3,255.5"/></g>
<text x="385" y="277" font-size="7.6" text-anchor="middle" fill="#231f20" transform="matrix(1 0 0 1.08 0 -22.160)">Metabolomics</text>
<text x="385.3" y="286.6" font-size="7.4" text-anchor="middle" font-style="italic" fill="#231f20" transform="matrix(1 0 0 1.08 0 -22.93)">Top 25 T-test</text>
<text x="319" y="318" font-size="16.6" text-anchor="start" fill="#000" font-weight="bold">E</text>
<text x="414" y="318" font-size="11" text-anchor="middle" fill="#231f20" transform="matrix(1 0 0 1.08 0 -25.440)">ATP</text>
<line x1="366.8" y1="327" x2="366.8" y2="455.8" stroke="#000" stroke-width="1.3"/>
<line x1="366.2" y1="455.2" x2="460" y2="455.2" stroke="#000" stroke-width="1.3"/>
<line x1="362.3" y1="329.5" x2="366.8" y2="329.5" stroke="#000" stroke-width="1.1"/>
<text x="357.50" y="332.00" font-size="7.8" text-anchor="end" fill="#231f20" stroke="#231f20" stroke-width="0.2" transform="matrix(1.2 0 0 1 -71.500 0)">8×10<tspan dy="-3.4" font-size="5.2">6</tspan></text>
<line x1="362.3" y1="361.5" x2="366.8" y2="361.5" stroke="#000" stroke-width="1.1"/>
<text x="357.50" y="364.00" font-size="7.8" text-anchor="end" fill="#231f20" stroke="#231f20" stroke-width="0.2" transform="matrix(1.2 0 0 1 -71.500 0)">6×10<tspan dy="-3.4" font-size="5.2">6</tspan></text>
<line x1="362.3" y1="392.7" x2="366.8" y2="392.7" stroke="#000" stroke-width="1.1"/>
<text x="357.50" y="395.20" font-size="7.8" text-anchor="end" fill="#231f20" stroke="#231f20" stroke-width="0.2" transform="matrix(1.2 0 0 1 -71.500 0)">4×10<tspan dy="-3.4" font-size="5.2">6</tspan></text>
<line x1="362.3" y1="424" x2="366.8" y2="424" stroke="#000" stroke-width="1.1"/>
<text x="357.50" y="426.50" font-size="7.8" text-anchor="end" fill="#231f20" stroke="#231f20" stroke-width="0.2" transform="matrix(1.2 0 0 1 -71.500 0)">2×10<tspan dy="-3.4" font-size="5.2">6</tspan></text>
<line x1="362.3" y1="455.2" x2="366.8" y2="455.2" stroke="#000" stroke-width="1.1"/>
<text x="357.50" y="457.90" font-size="7.8" text-anchor="end" fill="#231f20" stroke="#231f20" stroke-width="0.2" transform="matrix(1.2 0 0 1 -71.500 0)">0</text>
<rect x="381.20" y="387.50" width="27.60" height="67.70" fill="#2d3a8e"/>
<rect x="424.40" y="368.40" width="27.70" height="86.80" fill="#a8161a"/>
<line x1="395" y1="455.2" x2="395" y2="459.2" stroke="#000" stroke-width="1.1"/>
<line x1="438.2" y1="455.2" x2="438.2" y2="459.2" stroke="#000" stroke-width="1.1"/>
<line x1="395" y1="372.5" x2="395" y2="401.9" stroke="#000" stroke-width="1.2"/>
<line x1="388" y1="372.5" x2="402" y2="372.5" stroke="#000" stroke-width="1.2"/>
<line x1="388" y1="401.9" x2="402" y2="401.9" stroke="#000" stroke-width="1.2"/>
<line x1="438.2" y1="350.4" x2="438.2" y2="386.6" stroke="#000" stroke-width="1.2"/>
<line x1="431.2" y1="350.4" x2="445.2" y2="350.4" stroke="#000" stroke-width="1.2"/>
<line x1="431.2" y1="386.6" x2="445.2" y2="386.6" stroke="#000" stroke-width="1.2"/>
<g stroke="#c9202a" stroke-width="0.9" stroke-dasharray="2,1.5" fill="none"><line x1="398" y1="365.5" x2="435" y2="346.5"/><line x1="400" y1="385" x2="432" y2="369"/><line x1="402" y1="391" x2="441" y2="371"/><line x1="402" y1="397.5" x2="435" y2="388"/></g>
<circle cx="394.6" cy="366.5" r="2.2" fill="#000"/>
<circle cx="391.5" cy="389.5" r="2.2" fill="#000"/>
<circle cx="399.5" cy="392" r="2.2" fill="#000"/>
<circle cx="438.2" cy="345.5" r="2.2" fill="#000"/>
<circle cx="432.2" cy="368.5" r="2.2" fill="#000"/>
<circle cx="443.5" cy="368.5" r="2.2" fill="#000"/>
<circle cx="438.2" cy="389" r="2.2" fill="#000"/>
<polyline points="394.7,357.7 394.7,330.8 438.1,330.8 438.1,345" fill="none" stroke="#231f20" stroke-width="1.2"/>
<text x="416.6" y="329.8" font-size="10" text-anchor="middle" fill="#231f20" transform="matrix(1 0 0 1.08 0 -26.384)">**</text>
<text x="395" y="472.5" font-size="8.8" text-anchor="middle" fill="#231f20" transform="matrix(1 0 0 1.08 0 -37.800)"><tspan font-family='"Liberation Serif", serif'>β</tspan>Thal</text>
<text x="395" y="483.2" font-size="8.8" text-anchor="middle" fill="#231f20" transform="matrix(1 0 0 1.08 0 -38.656)">Vehicle</text>
<text x="438.2" y="472.5" font-size="8.8" text-anchor="middle" fill="#231f20" transform="matrix(1 0 0 1.08 0 -37.800)"><tspan font-family='"Liberation Serif", serif'>β</tspan>Thal</text>
<text x="438.2" y="483.2" font-size="8.8" text-anchor="middle" fill="#231f20" transform="matrix(1 0 0 1.08 0 -38.656)">Mitapivat</text>
<text x="10.3" y="514" font-size="16.6" text-anchor="start" fill="#000" font-weight="bold">F</text>
<text x="79.5" y="509.8" font-size="11" text-anchor="middle" fill="#231f20" transform="matrix(1 0 0 1.08 0 -40.784)">Mitapivat and</text>
<text x="79.6" y="524.2" font-size="11" text-anchor="middle" fill="#231f20" transform="matrix(1 0 0 1.08 0 -41.936)">Glycolysis in <tspan font-family='"Liberation Serif", serif'>β</tspan>Thal</text>
<rect x="32.7" y="531.6" width="17.7" height="68.4" fill="#fff" stroke="#c8c8c8" stroke-width="0.7"/>
<rect x="42.30" y="535.40" width="5.30" height="63.50" fill="url(#gF)"/>
<text x="27" y="541.2" font-size="8.6" text-anchor="end" fill="#231f20" transform="matrix(1 0 0 1.08 0 -43.296)">0.7</text>
<text x="27" y="570.8" font-size="8.6" text-anchor="end" fill="#231f20" transform="matrix(1 0 0 1.08 0 -45.664)">0</text>
<text x="27" y="601.8" font-size="8.6" text-anchor="end" fill="#231f20" transform="matrix(1 0 0 1.08 0 -48.144)">−0.7</text>
<rect x="55.00" y="536.10" width="9.00" height="8.26" fill="#1d6db2"/>
<rect x="63.65" y="536.10" width="8.70" height="8.26" fill="#d8121e"/>
<text x="77" y="543.9" font-size="7.45" text-anchor="start" fill="#231f20" transform="matrix(1 0 0 1.08 0 -43.512)">ATP</text>
<rect x="55.00" y="543.91" width="9.00" height="8.26" fill="#1d6db2"/>
<rect x="63.65" y="543.91" width="8.70" height="8.26" fill="#d8121e"/>
<text x="77" y="551.72" font-size="7.45" text-anchor="start" fill="#231f20" transform="matrix(1 0 0 1.08 0 -44.138)">ADP</text>
<rect x="55.00" y="551.72" width="9.00" height="8.26" fill="#d8121e"/>
<rect x="63.65" y="551.72" width="8.70" height="8.26" fill="#1d6db2"/>
<text x="77" y="559.52" font-size="7.45" text-anchor="start" fill="#231f20" transform="matrix(1 0 0 1.08 0 -44.762)">AMP</text>
<rect x="55.00" y="559.53" width="9.00" height="8.26" fill="#d8121e"/>
<rect x="63.65" y="559.53" width="8.70" height="8.26" fill="#1d6db2"/>
<text x="77" y="567.34" font-size="7.45" text-anchor="start" fill="#231f20" transform="matrix(1 0 0 1.08 0 -45.387)">Adenosine</text>
<rect x="55.00" y="567.34" width="9.00" height="8.26" fill="#d8121e"/>
<rect x="63.65" y="567.34" width="8.70" height="8.26" fill="#1d6db2"/>
<text x="77" y="575.14" font-size="7.45" text-anchor="start" fill="#231f20" transform="matrix(1 0 0 1.08 0 -46.011)">Glucose</text>
<rect x="55.00" y="575.15" width="9.00" height="8.26" fill="#d8121e"/>
<rect x="63.65" y="575.15" width="8.70" height="8.26" fill="#1d6db2"/>
<text x="77" y="582.96" font-size="7.45" text-anchor="start" fill="#231f20" transform="matrix(1 0 0 1.08 0 -46.637)">Hexose P</text>
<rect x="55.00" y="582.96" width="9.00" height="8.26" fill="#1d6db2"/>
<rect x="63.65" y="582.96" width="8.70" height="8.26" fill="#d8121e"/>
<text x="77" y="590.76" font-size="7.45" text-anchor="start" fill="#231f20" transform="matrix(1 0 0 1.08 0 -47.261)">Fructose Bisphosphate</text>
<rect x="55.00" y="590.77" width="9.00" height="8.26" fill="#d8121e"/>
<rect x="63.65" y="590.77" width="8.70" height="8.26" fill="#1d6db2"/>
<text x="77" y="598.58" font-size="7.45" text-anchor="start" fill="#231f20" transform="matrix(1 0 0 1.08 0 -47.886)">Glyceraldehyde 3P</text>
<rect x="55.00" y="598.58" width="9.00" height="8.26" fill="#1d6db2"/>
<rect x="63.65" y="598.58" width="8.70" height="8.26" fill="#d8121e"/>
<text x="77" y="606.38" font-size="7.45" text-anchor="start" fill="#231f20" transform="matrix(1 0 0 1.08 0 -48.510)">Bisphosphoglycerate</text>
<rect x="55.00" y="606.39" width="9.00" height="8.26" fill="#1d6db2"/>
<rect x="63.65" y="606.39" width="8.70" height="8.26" fill="#d8121e"/>
<text x="77" y="614.2" font-size="7.45" text-anchor="start" fill="#231f20" transform="matrix(1 0 0 1.08 0 -49.136)">Phospho-glycerate</text>
<rect x="55.00" y="614.20" width="9.00" height="7.86" fill="#1d6db2"/>
<rect x="63.65" y="614.20" width="8.70" height="7.86" fill="#d8121e"/>
<text x="77" y="622.0" font-size="7.45" text-anchor="start" fill="#231f20" transform="matrix(1 0 0 1.08 0 -49.760)">Phosphoenolpyruvate</text>
<text x="59.3" y="634" font-size="7.4" text-anchor="middle" fill="#231f20" transform="matrix(1 0 0 1.08 0 -50.720)">–</text>
<text x="68" y="634" font-size="7.4" text-anchor="middle" fill="#231f20" transform="matrix(1 0 0 1.08 0 -50.720)">+</text>
<text x="77.3" y="634" font-size="7.4" text-anchor="start" fill="#231f20" transform="matrix(1 0 0 1.08 0 -50.720)">Mitapivat</text>
<text x="174.3" y="514" font-size="16.6" text-anchor="start" fill="#000" font-weight="bold">G</text>
<text x="211.5" y="510.7" font-size="11.7" text-anchor="middle" fill="#231f20" transform="matrix(1 0 0 1.08 0 -40.856)"><tspan font-family='"Liberation Serif", serif'>β</tspan>Thal</text>
<text x="211.5" y="525.5" font-size="11.7" text-anchor="middle" fill="#231f20" transform="matrix(1 0 0 1.08 0 -42.040)">Vehicle</text>
<text x="259.5" y="510.7" font-size="11.7" text-anchor="middle" fill="#231f20" transform="matrix(1 0 0 1.08 0 -40.856)"><tspan font-family='"Liberation Serif", serif'>β</tspan>Thal</text>
<text x="259.5" y="525.5" font-size="11.7" text-anchor="middle" fill="#231f20" transform="matrix(1 0 0 1.08 0 -42.040)">Mitapivat</text>
<rect x="200.10" y="533.60" width="8.60" height="4.80" fill="#19215f"/>
<rect x="208.65" y="533.60" width="8.60" height="4.80" fill="#19215f"/>
<rect x="217.20" y="533.60" width="8.60" height="4.80" fill="#19215f"/>
<rect x="225.75" y="533.60" width="8.60" height="4.80" fill="#19215f"/>
<rect x="234.30" y="533.60" width="8.60" height="4.80" fill="#d0101e"/>
<rect x="242.85" y="533.60" width="8.60" height="4.80" fill="#d0101e"/>
<rect x="251.40" y="533.60" width="8.60" height="4.80" fill="#d0101e"/>
<rect x="259.95" y="533.60" width="8.60" height="4.80" fill="#d0101e"/>
<line x1="208.65" y1="533.6" x2="208.65" y2="538.4" stroke="#4a5288" stroke-width="0.45"/>
<line x1="217.2" y1="533.6" x2="217.2" y2="538.4" stroke="#4a5288" stroke-width="0.45"/>
<line x1="225.75" y1="533.6" x2="225.75" y2="538.4" stroke="#4a5288" stroke-width="0.45"/>
<line x1="234.3" y1="533.6" x2="234.3" y2="538.4" stroke="#e8505a" stroke-width="0.45"/>
<line x1="242.85" y1="533.6" x2="242.85" y2="538.4" stroke="#e8505a" stroke-width="0.45"/>
<line x1="251.4" y1="533.6" x2="251.4" y2="538.4" stroke="#e8505a" stroke-width="0.45"/>
<line x1="259.95" y1="533.6" x2="259.95" y2="538.4" stroke="#e8505a" stroke-width="0.45"/>
<rect x="200.10" y="542.80" width="9.00" height="8.14" fill="#b7d4ea"/>
<rect x="208.65" y="542.80" width="9.00" height="8.14" fill="#b7d4ea"/>
<rect x="217.20" y="542.80" width="9.00" height="8.14" fill="#79aed9"/>
<rect x="225.75" y="542.80" width="9.00" height="8.14" fill="#d8e7f3"/>
<rect x="234.30" y="542.80" width="9.00" height="8.14" fill="#e2705a"/>
<rect x="242.85" y="542.80" width="9.00" height="8.14" fill="#f7f7f7"/>
<rect x="251.40" y="542.80" width="9.00" height="8.14" fill="#edf2f6"/>
<rect x="259.95" y="542.80" width="8.60" height="8.14" fill="#e2705a"/>
<rect x="200.10" y="550.49" width="9.00" height="8.14" fill="#c7deef"/>
<rect x="208.65" y="550.49" width="9.00" height="8.14" fill="#e2ecf4"/>
<rect x="217.20" y="550.49" width="9.00" height="8.14" fill="#79aed9"/>
<rect x="225.75" y="550.49" width="9.00" height="8.14" fill="#b7d4ea"/>
<rect x="234.30" y="550.49" width="9.00" height="8.14" fill="#e78168"/>
<rect x="242.85" y="550.49" width="9.00" height="8.14" fill="#f7f7f7"/>
<rect x="251.40" y="550.49" width="9.00" height="8.14" fill="#f8ebe4"/>
<rect x="259.95" y="550.49" width="8.60" height="8.14" fill="#e2705a"/>
<rect x="200.10" y="558.19" width="9.00" height="8.14" fill="#c7deef"/>
<rect x="208.65" y="558.19" width="9.00" height="8.14" fill="#c7deef"/>
<rect x="217.20" y="558.19" width="9.00" height="8.14" fill="#e2ecf4"/>
<rect x="225.75" y="558.19" width="9.00" height="8.14" fill="#b7d4ea"/>
<rect x="234.30" y="558.19" width="9.00" height="8.14" fill="#da5a4d"/>
<rect x="242.85" y="558.19" width="9.00" height="8.14" fill="#e2ecf4"/>
<rect x="251.40" y="558.19" width="9.00" height="8.14" fill="#f7f7f7"/>
<rect x="259.95" y="558.19" width="8.60" height="8.14" fill="#e78168"/>
<rect x="200.10" y="565.88" width="9.00" height="8.14" fill="#c7deef"/>
<rect x="208.65" y="565.88" width="9.00" height="8.14" fill="#e2ecf4"/>
<rect x="217.20" y="565.88" width="9.00" height="8.14" fill="#c7deef"/>
<rect x="225.75" y="565.88" width="9.00" height="8.14" fill="#b7d4ea"/>
<rect x="234.30" y="565.88" width="9.00" height="8.14" fill="#cb2f34"/>
<rect x="242.85" y="565.88" width="9.00" height="8.14" fill="#edf2f6"/>
<rect x="251.40" y="565.88" width="9.00" height="8.14" fill="#f7f7f7"/>
<rect x="259.95" y="565.88" width="8.60" height="8.14" fill="#f2a385"/>
<rect x="200.10" y="573.58" width="9.00" height="8.14" fill="#b7d4ea"/>
<rect x="208.65" y="573.58" width="9.00" height="8.14" fill="#b7d4ea"/>
<rect x="217.20" y="573.58" width="9.00" height="8.14" fill="#b7d4ea"/>
<rect x="225.75" y="573.58" width="9.00" height="8.14" fill="#b7d4ea"/>
<rect x="234.30" y="573.58" width="9.00" height="8.14" fill="#ed9277"/>
<rect x="242.85" y="573.58" width="9.00" height="8.14" fill="#f9d2be"/>
<rect x="251.40" y="573.58" width="9.00" height="8.14" fill="#c7deef"/>
<rect x="259.95" y="573.58" width="8.60" height="8.14" fill="#d34541"/>
<rect x="200.10" y="581.27" width="9.00" height="8.14" fill="#b7d4ea"/>
<rect x="208.65" y="581.27" width="9.00" height="8.14" fill="#b7d4ea"/>
<rect x="217.20" y="581.27" width="9.00" height="8.14" fill="#b7d4ea"/>
<rect x="225.75" y="581.27" width="9.00" height="8.14" fill="#b7d4ea"/>
<rect x="234.30" y="581.27" width="9.00" height="8.14" fill="#f2a385"/>
<rect x="242.85" y="581.27" width="9.00" height="8.14" fill="#f8ded1"/>
<rect x="251.40" y="581.27" width="9.00" height="8.14" fill="#d8e7f3"/>
<rect x="259.95" y="581.27" width="8.60" height="8.14" fill="#d34541"/>
<rect x="200.10" y="588.96" width="9.00" height="8.14" fill="#c7deef"/>
<rect x="208.65" y="588.96" width="9.00" height="8.14" fill="#62a0d2"/>
<rect x="217.20" y="588.96" width="9.00" height="8.14" fill="#f7f7f7"/>
<rect x="225.75" y="588.96" width="9.00" height="8.14" fill="#b7d4ea"/>
<rect x="234.30" y="588.96" width="9.00" height="8.14" fill="#f2a385"/>
<rect x="242.85" y="588.96" width="9.00" height="8.14" fill="#f7c2ab"/>
<rect x="251.40" y="588.96" width="9.00" height="8.14" fill="#f7f7f7"/>
<rect x="259.95" y="588.96" width="8.60" height="8.14" fill="#f2a385"/>
<rect x="200.10" y="596.66" width="9.00" height="8.14" fill="#79aed9"/>
<rect x="208.65" y="596.66" width="9.00" height="8.14" fill="#62a0d2"/>
<rect x="217.20" y="596.66" width="9.00" height="8.14" fill="#edf2f6"/>
<rect x="225.75" y="596.66" width="9.00" height="8.14" fill="#f7f7f7"/>
<rect x="234.30" y="596.66" width="9.00" height="8.14" fill="#f7c2ab"/>
<rect x="242.85" y="596.66" width="9.00" height="8.14" fill="#ed9277"/>
<rect x="251.40" y="596.66" width="9.00" height="8.14" fill="#f7f7f7"/>
<rect x="259.95" y="596.66" width="8.60" height="8.14" fill="#f7c2ab"/>
<rect x="200.10" y="604.35" width="9.00" height="8.14" fill="#79aed9"/>
<rect x="208.65" y="604.35" width="9.00" height="8.14" fill="#edf2f6"/>
<rect x="217.20" y="604.35" width="9.00" height="8.14" fill="#f7f7f7"/>
<rect x="225.75" y="604.35" width="9.00" height="8.14" fill="#79aed9"/>
<rect x="234.30" y="604.35" width="9.00" height="8.14" fill="#f2a385"/>
<rect x="242.85" y="604.35" width="9.00" height="8.14" fill="#f9d2be"/>
<rect x="251.40" y="604.35" width="9.00" height="8.14" fill="#c7deef"/>
<rect x="259.95" y="604.35" width="8.60" height="8.14" fill="#ed9277"/>
<rect x="200.10" y="612.05" width="9.00" height="8.14" fill="#79aed9"/>
<rect x="208.65" y="612.05" width="9.00" height="8.14" fill="#f7f7f7"/>
<rect x="217.20" y="612.05" width="9.00" height="8.14" fill="#f7f7f7"/>
<rect x="225.75" y="612.05" width="9.00" height="8.14" fill="#79aed9"/>
<rect x="234.30" y="612.05" width="9.00" height="8.14" fill="#f2a385"/>
<rect x="242.85" y="612.05" width="9.00" height="8.14" fill="#f2a385"/>
<rect x="251.40" y="612.05" width="9.00" height="8.14" fill="#edf2f6"/>
<rect x="259.95" y="612.05" width="8.60" height="8.14" fill="#f7c2ab"/>
<rect x="200.10" y="619.74" width="9.00" height="8.14" fill="#b7d4ea"/>
<rect x="208.65" y="619.74" width="9.00" height="8.14" fill="#f7f7f7"/>
<rect x="217.20" y="619.74" width="9.00" height="8.14" fill="#d8e7f3"/>
<rect x="225.75" y="619.74" width="9.00" height="8.14" fill="#62a0d2"/>
<rect x="234.30" y="619.74" width="9.00" height="8.14" fill="#f9d2be"/>
<rect x="242.85" y="619.74" width="9.00" height="8.14" fill="#f4b398"/>
<rect x="251.40" y="619.74" width="9.00" height="8.14" fill="#edf2f6"/>
<rect x="259.95" y="619.74" width="8.60" height="8.14" fill="#f2a385"/>
<rect x="200.10" y="627.43" width="9.00" height="8.14" fill="#62a0d2"/>
<rect x="208.65" y="627.43" width="9.00" height="8.14" fill="#f8ded1"/>
<rect x="217.20" y="627.43" width="9.00" height="8.14" fill="#f7f7f7"/>
<rect x="225.75" y="627.43" width="9.00" height="8.14" fill="#62a0d2"/>
<rect x="234.30" y="627.43" width="9.00" height="8.14" fill="#f9d2be"/>
<rect x="242.85" y="627.43" width="9.00" height="8.14" fill="#f9d2be"/>
<rect x="251.40" y="627.43" width="9.00" height="8.14" fill="#f8ebe4"/>
<rect x="259.95" y="627.43" width="8.60" height="8.14" fill="#f2a385"/>
<rect x="200.10" y="635.13" width="9.00" height="8.14" fill="#e2ecf4"/>
<rect x="208.65" y="635.13" width="9.00" height="8.14" fill="#f7f7f7"/>
<rect x="217.20" y="635.13" width="9.00" height="8.14" fill="#f7f7f7"/>
<rect x="225.75" y="635.13" width="9.00" height="8.14" fill="#1e599f"/>
<rect x="234.30" y="635.13" width="9.00" height="8.14" fill="#f8ded1"/>
<rect x="242.85" y="635.13" width="9.00" height="8.14" fill="#f8ebe4"/>
<rect x="251.40" y="635.13" width="9.00" height="8.14" fill="#f2a385"/>
<rect x="259.95" y="635.13" width="8.60" height="8.14" fill="#f4b398"/>
<rect x="200.10" y="642.82" width="9.00" height="8.14" fill="#b7d4ea"/>
<rect x="208.65" y="642.82" width="9.00" height="8.14" fill="#f7f7f7"/>
<rect x="217.20" y="642.82" width="9.00" height="8.14" fill="#f7f7f7"/>
<rect x="225.75" y="642.82" width="9.00" height="8.14" fill="#1e599f"/>
<rect x="234.30" y="642.82" width="9.00" height="8.14" fill="#f2a385"/>
<rect x="242.85" y="642.82" width="9.00" height="8.14" fill="#f9d2be"/>
<rect x="251.40" y="642.82" width="9.00" height="8.14" fill="#f8ded1"/>
<rect x="259.95" y="642.82" width="8.60" height="8.14" fill="#f9d2be"/>
<rect x="200.10" y="650.52" width="9.00" height="8.14" fill="#c7deef"/>
<rect x="208.65" y="650.52" width="9.00" height="8.14" fill="#f8ebe4"/>
<rect x="217.20" y="650.52" width="9.00" height="8.14" fill="#5192ca"/>
<rect x="225.75" y="650.52" width="9.00" height="8.14" fill="#b7d4ea"/>
<rect x="234.30" y="650.52" width="9.00" height="8.14" fill="#d34541"/>
<rect x="242.85" y="650.52" width="9.00" height="8.14" fill="#f8ebe4"/>
<rect x="251.40" y="650.52" width="9.00" height="8.14" fill="#f8ebe4"/>
<rect x="259.95" y="650.52" width="8.60" height="8.14" fill="#f8ded1"/>
<rect x="200.10" y="658.21" width="9.00" height="8.14" fill="#b7d4ea"/>
<rect x="208.65" y="658.21" width="9.00" height="8.14" fill="#f7f7f7"/>
<rect x="217.20" y="658.21" width="9.00" height="8.14" fill="#8fbddf"/>
<rect x="225.75" y="658.21" width="9.00" height="8.14" fill="#79aed9"/>
<rect x="234.30" y="658.21" width="9.00" height="8.14" fill="#f7c2ab"/>
<rect x="242.85" y="658.21" width="9.00" height="8.14" fill="#f4b398"/>
<rect x="251.40" y="658.21" width="9.00" height="8.14" fill="#f2a385"/>
<rect x="259.95" y="658.21" width="8.60" height="8.14" fill="#f8ded1"/>
<rect x="200.10" y="665.90" width="9.00" height="8.14" fill="#b7d4ea"/>
<rect x="208.65" y="665.90" width="9.00" height="8.14" fill="#b7d4ea"/>
<rect x="217.20" y="665.90" width="9.00" height="8.14" fill="#b7d4ea"/>
<rect x="225.75" y="665.90" width="9.00" height="8.14" fill="#b7d4ea"/>
<rect x="234.30" y="665.90" width="9.00" height="8.14" fill="#cb2f34"/>
<rect x="242.85" y="665.90" width="9.00" height="8.14" fill="#f8ebe4"/>
<rect x="251.40" y="665.90" width="9.00" height="8.14" fill="#f8ebe4"/>
<rect x="259.95" y="665.90" width="8.60" height="8.14" fill="#f8ebe4"/>
<rect x="200.10" y="673.60" width="9.00" height="8.14" fill="#79aed9"/>
<rect x="208.65" y="673.60" width="9.00" height="8.14" fill="#e2ecf4"/>
<rect x="217.20" y="673.60" width="9.00" height="8.14" fill="#b7d4ea"/>
<rect x="225.75" y="673.60" width="9.00" height="8.14" fill="#b7d4ea"/>
<rect x="234.30" y="673.60" width="9.00" height="8.14" fill="#e2705a"/>
<rect x="242.85" y="673.60" width="9.00" height="8.14" fill="#f8ded1"/>
<rect x="251.40" y="673.60" width="9.00" height="8.14" fill="#f8ebe4"/>
<rect x="259.95" y="673.60" width="8.60" height="8.14" fill="#f7c2ab"/>
<rect x="200.10" y="681.29" width="9.00" height="8.14" fill="#c7deef"/>
<rect x="208.65" y="681.29" width="9.00" height="8.14" fill="#c7deef"/>
<rect x="217.20" y="681.29" width="9.00" height="8.14" fill="#c7deef"/>
<rect x="225.75" y="681.29" width="9.00" height="8.14" fill="#c7deef"/>
<rect x="234.30" y="681.29" width="9.00" height="8.14" fill="#bc262e"/>
<rect x="242.85" y="681.29" width="9.00" height="8.14" fill="#f8ebe4"/>
<rect x="251.40" y="681.29" width="9.00" height="8.14" fill="#f8ebe4"/>
<rect x="259.95" y="681.29" width="8.60" height="8.14" fill="#d8e7f3"/>
<rect x="200.10" y="688.99" width="9.00" height="8.14" fill="#c7deef"/>
<rect x="208.65" y="688.99" width="9.00" height="8.14" fill="#c7deef"/>
<rect x="217.20" y="688.99" width="9.00" height="8.14" fill="#c7deef"/>
<rect x="225.75" y="688.99" width="9.00" height="8.14" fill="#c7deef"/>
<rect x="234.30" y="688.99" width="9.00" height="8.14" fill="#da5a4d"/>
<rect x="242.85" y="688.99" width="9.00" height="8.14" fill="#f8ded1"/>
<rect x="251.40" y="688.99" width="9.00" height="8.14" fill="#ed9277"/>
<rect x="259.95" y="688.99" width="8.60" height="8.14" fill="#d8e7f3"/>
<rect x="200.10" y="696.68" width="9.00" height="8.14" fill="#c7deef"/>
<rect x="208.65" y="696.68" width="9.00" height="8.14" fill="#c7deef"/>
<rect x="217.20" y="696.68" width="9.00" height="8.14" fill="#c7deef"/>
<rect x="225.75" y="696.68" width="9.00" height="8.14" fill="#c7deef"/>
<rect x="234.30" y="696.68" width="9.00" height="8.14" fill="#e78168"/>
<rect x="242.85" y="696.68" width="9.00" height="8.14" fill="#d34541"/>
<rect x="251.40" y="696.68" width="9.00" height="8.14" fill="#f8ebe4"/>
<rect x="259.95" y="696.68" width="8.60" height="8.14" fill="#d8e7f3"/>
<rect x="200.10" y="704.37" width="9.00" height="8.14" fill="#c7deef"/>
<rect x="208.65" y="704.37" width="9.00" height="8.14" fill="#c7deef"/>
<rect x="217.20" y="704.37" width="9.00" height="8.14" fill="#c7deef"/>
<rect x="225.75" y="704.37" width="9.00" height="8.14" fill="#c7deef"/>
<rect x="234.30" y="704.37" width="9.00" height="8.14" fill="#d8e7f3"/>
<rect x="242.85" y="704.37" width="9.00" height="8.14" fill="#edf2f6"/>
<rect x="251.40" y="704.37" width="9.00" height="8.14" fill="#cb2f34"/>
<rect x="259.95" y="704.37" width="8.60" height="8.14" fill="#f2a385"/>
<rect x="200.10" y="712.07" width="9.00" height="8.14" fill="#b7d4ea"/>
<rect x="208.65" y="712.07" width="9.00" height="8.14" fill="#b7d4ea"/>
<rect x="217.20" y="712.07" width="9.00" height="8.14" fill="#e2ecf4"/>
<rect x="225.75" y="712.07" width="9.00" height="8.14" fill="#edf2f6"/>
<rect x="234.30" y="712.07" width="9.00" height="8.14" fill="#edf2f6"/>
<rect x="242.85" y="712.07" width="9.00" height="8.14" fill="#f8ded1"/>
<rect x="251.40" y="712.07" width="9.00" height="8.14" fill="#cb2f34"/>
<rect x="259.95" y="712.07" width="8.60" height="8.14" fill="#f7c2ab"/>
<rect x="200.10" y="719.76" width="9.00" height="8.14" fill="#8fbddf"/>
<rect x="208.65" y="719.76" width="9.00" height="8.14" fill="#a6cbe6"/>
<rect x="217.20" y="719.76" width="9.00" height="8.14" fill="#e2ecf4"/>
<rect x="225.75" y="719.76" width="9.00" height="8.14" fill="#f7f7f7"/>
<rect x="234.30" y="719.76" width="9.00" height="8.14" fill="#f7f7f7"/>
<rect x="242.85" y="719.76" width="9.00" height="8.14" fill="#f8ebe4"/>
<rect x="251.40" y="719.76" width="9.00" height="8.14" fill="#e2705a"/>
<rect x="259.95" y="719.76" width="8.60" height="8.14" fill="#e78168"/>
<rect x="200.10" y="727.46" width="9.00" height="8.14" fill="#62a0d2"/>
<rect x="208.65" y="727.46" width="9.00" height="8.14" fill="#a6cbe6"/>
<rect x="217.20" y="727.46" width="9.00" height="8.14" fill="#f7f7f7"/>
<rect x="225.75" y="727.46" width="9.00" height="8.14" fill="#c7deef"/>
<rect x="234.30" y="727.46" width="9.00" height="8.14" fill="#f8ebe4"/>
<rect x="242.85" y="727.46" width="9.00" height="8.14" fill="#f8ebe4"/>
<rect x="251.40" y="727.46" width="9.00" height="8.14" fill="#cb2f34"/>
<rect x="259.95" y="727.46" width="8.60" height="8.14" fill="#f9d2be"/>
<rect x="200.10" y="735.15" width="9.00" height="8.14" fill="#a6cbe6"/>
<rect x="208.65" y="735.15" width="9.00" height="8.14" fill="#f7f7f7"/>
<rect x="217.20" y="735.15" width="9.00" height="8.14" fill="#b7d4ea"/>
<rect x="225.75" y="735.15" width="9.00" height="8.14" fill="#b7d4ea"/>
<rect x="234.30" y="735.15" width="9.00" height="8.14" fill="#c7deef"/>
<rect x="242.85" y="735.15" width="9.00" height="8.14" fill="#f7c2ab"/>
<rect x="251.40" y="735.15" width="9.00" height="8.14" fill="#cb2f34"/>
<rect x="259.95" y="735.15" width="8.60" height="8.14" fill="#f8ebe4"/>
<rect x="200.10" y="742.84" width="9.00" height="8.14" fill="#b7d4ea"/>
<rect x="208.65" y="742.84" width="9.00" height="8.14" fill="#b7d4ea"/>
<rect x="217.20" y="742.84" width="9.00" height="8.14" fill="#b7d4ea"/>
<rect x="225.75" y="742.84" width="9.00" height="8.14" fill="#b7d4ea"/>
<rect x="234.30" y="742.84" width="9.00" height="8.14" fill="#d8e7f3"/>
<rect x="242.85" y="742.84" width="9.00" height="8.14" fill="#f8ebe4"/>
<rect x="251.40" y="742.84" width="9.00" height="8.14" fill="#f7c2ab"/>
<rect x="259.95" y="742.84" width="8.60" height="8.14" fill="#cb2f34"/>
<rect x="200.10" y="750.54" width="9.00" height="8.14" fill="#b7d4ea"/>
<rect x="208.65" y="750.54" width="9.00" height="8.14" fill="#b7d4ea"/>
<rect x="217.20" y="750.54" width="9.00" height="8.14" fill="#b7d4ea"/>
<rect x="225.75" y="750.54" width="9.00" height="8.14" fill="#b7d4ea"/>
<rect x="234.30" y="750.54" width="9.00" height="8.14" fill="#d8e7f3"/>
<rect x="242.85" y="750.54" width="9.00" height="8.14" fill="#ed9277"/>
<rect x="251.40" y="750.54" width="9.00" height="8.14" fill="#f2a385"/>
<rect x="259.95" y="750.54" width="8.60" height="8.14" fill="#ed9277"/>
<rect x="200.10" y="758.23" width="9.00" height="8.14" fill="#79aed9"/>
<rect x="208.65" y="758.23" width="9.00" height="8.14" fill="#b7d4ea"/>
<rect x="217.20" y="758.23" width="9.00" height="8.14" fill="#f7f7f7"/>
<rect x="225.75" y="758.23" width="9.00" height="8.14" fill="#b7d4ea"/>
<rect x="234.30" y="758.23" width="9.00" height="8.14" fill="#f7f7f7"/>
<rect x="242.85" y="758.23" width="9.00" height="8.14" fill="#f2a385"/>
<rect x="251.40" y="758.23" width="9.00" height="8.14" fill="#d34541"/>
<rect x="259.95" y="758.23" width="8.60" height="8.14" fill="#f7f7f7"/>
<rect x="200.10" y="765.93" width="9.00" height="8.14" fill="#79aed9"/>
<rect x="208.65" y="765.93" width="9.00" height="8.14" fill="#79aed9"/>
<rect x="217.20" y="765.93" width="9.00" height="8.14" fill="#f7f7f7"/>
<rect x="225.75" y="765.93" width="9.00" height="8.14" fill="#62a0d2"/>
<rect x="234.30" y="765.93" width="9.00" height="8.14" fill="#f7c2ab"/>
<rect x="242.85" y="765.93" width="9.00" height="8.14" fill="#f7c2ab"/>
<rect x="251.40" y="765.93" width="9.00" height="8.14" fill="#e2705a"/>
<rect x="259.95" y="765.93" width="8.60" height="8.14" fill="#f8ebe4"/>
<rect x="200.10" y="773.62" width="9.00" height="8.14" fill="#b7d4ea"/>
<rect x="208.65" y="773.62" width="9.00" height="8.14" fill="#62a0d2"/>
<rect x="217.20" y="773.62" width="9.00" height="8.14" fill="#c7deef"/>
<rect x="225.75" y="773.62" width="9.00" height="8.14" fill="#f7f7f7"/>
<rect x="234.30" y="773.62" width="9.00" height="8.14" fill="#f2a385"/>
<rect x="242.85" y="773.62" width="9.00" height="8.14" fill="#f2a385"/>
<rect x="251.40" y="773.62" width="9.00" height="8.14" fill="#e2705a"/>
<rect x="259.95" y="773.62" width="8.60" height="8.14" fill="#e2ecf4"/>
<rect x="200.10" y="781.31" width="9.00" height="8.14" fill="#c7deef"/>
<rect x="208.65" y="781.31" width="9.00" height="8.14" fill="#62a0d2"/>
<rect x="217.20" y="781.31" width="9.00" height="8.14" fill="#f7f7f7"/>
<rect x="225.75" y="781.31" width="9.00" height="8.14" fill="#62a0d2"/>
<rect x="234.30" y="781.31" width="9.00" height="8.14" fill="#f7c2ab"/>
<rect x="242.85" y="781.31" width="9.00" height="8.14" fill="#f7f7f7"/>
<rect x="251.40" y="781.31" width="9.00" height="8.14" fill="#f2a385"/>
<rect x="259.95" y="781.31" width="8.60" height="8.14" fill="#e2705a"/>
<rect x="200.10" y="789.01" width="9.00" height="8.14" fill="#c7deef"/>
<rect x="208.65" y="789.01" width="9.00" height="8.14" fill="#8fbddf"/>
<rect x="217.20" y="789.01" width="9.00" height="8.14" fill="#f7f7f7"/>
<rect x="225.75" y="789.01" width="9.00" height="8.14" fill="#62a0d2"/>
<rect x="234.30" y="789.01" width="9.00" height="8.14" fill="#f7c2ab"/>
<rect x="242.85" y="789.01" width="9.00" height="8.14" fill="#f7f7f7"/>
<rect x="251.40" y="789.01" width="9.00" height="8.14" fill="#f2a385"/>
<rect x="259.95" y="789.01" width="8.60" height="8.14" fill="#e78168"/>
<rect x="200.10" y="796.70" width="9.00" height="8.14" fill="#d8e7f3"/>
<rect x="208.65" y="796.70" width="9.00" height="8.14" fill="#b7d4ea"/>
<rect x="217.20" y="796.70" width="9.00" height="8.14" fill="#f7f7f7"/>
<rect x="225.75" y="796.70" width="9.00" height="8.14" fill="#4085c3"/>
<rect x="234.30" y="796.70" width="9.00" height="8.14" fill="#f9d2be"/>
<rect x="242.85" y="796.70" width="9.00" height="8.14" fill="#f7f7f7"/>
<rect x="251.40" y="796.70" width="9.00" height="8.14" fill="#f2a385"/>
<rect x="259.95" y="796.70" width="8.60" height="8.14" fill="#ed9277"/>
<rect x="200.10" y="804.40" width="9.00" height="8.14" fill="#b7d4ea"/>
<rect x="208.65" y="804.40" width="9.00" height="8.14" fill="#b7d4ea"/>
<rect x="217.20" y="804.40" width="9.00" height="8.14" fill="#edf2f6"/>
<rect x="225.75" y="804.40" width="9.00" height="8.14" fill="#b7d4ea"/>
<rect x="234.30" y="804.40" width="9.00" height="8.14" fill="#f8ebe4"/>
<rect x="242.85" y="804.40" width="9.00" height="8.14" fill="#f7f7f7"/>
<rect x="251.40" y="804.40" width="9.00" height="8.14" fill="#f2a385"/>
<rect x="259.95" y="804.40" width="8.60" height="8.14" fill="#cb2f34"/>
<rect x="200.10" y="812.09" width="9.00" height="8.14" fill="#f7f7f7"/>
<rect x="208.65" y="812.09" width="9.00" height="8.14" fill="#79aed9"/>
<rect x="217.20" y="812.09" width="9.00" height="8.14" fill="#79aed9"/>
<rect x="225.75" y="812.09" width="9.00" height="8.14" fill="#79aed9"/>
<rect x="234.30" y="812.09" width="9.00" height="8.14" fill="#f7c2ab"/>
<rect x="242.85" y="812.09" width="9.00" height="8.14" fill="#f8ebe4"/>
<rect x="251.40" y="812.09" width="9.00" height="8.14" fill="#f2a385"/>
<rect x="259.95" y="812.09" width="8.60" height="8.14" fill="#f2a385"/>
<rect x="200.10" y="819.78" width="9.00" height="8.14" fill="#b7d4ea"/>
<rect x="208.65" y="819.78" width="9.00" height="8.14" fill="#b7d4ea"/>
<rect x="217.20" y="819.78" width="9.00" height="8.14" fill="#e2ecf4"/>
<rect x="225.75" y="819.78" width="9.00" height="8.14" fill="#b7d4ea"/>
<rect x="234.30" y="819.78" width="9.00" height="8.14" fill="#cb2f34"/>
<rect x="242.85" y="819.78" width="9.00" height="8.14" fill="#d8e7f3"/>
<rect x="251.40" y="819.78" width="9.00" height="8.14" fill="#f2a385"/>
<rect x="259.95" y="819.78" width="8.60" height="8.14" fill="#f7c2ab"/>
<rect x="200.10" y="827.48" width="9.00" height="8.14" fill="#62a0d2"/>
<rect x="208.65" y="827.48" width="9.00" height="8.14" fill="#d8e7f3"/>
<rect x="217.20" y="827.48" width="9.00" height="8.14" fill="#f7f7f7"/>
<rect x="225.75" y="827.48" width="9.00" height="8.14" fill="#b7d4ea"/>
<rect x="234.30" y="827.48" width="9.00" height="8.14" fill="#f2a385"/>
<rect x="242.85" y="827.48" width="9.00" height="8.14" fill="#edf2f6"/>
<rect x="251.40" y="827.48" width="9.00" height="8.14" fill="#f2a385"/>
<rect x="259.95" y="827.48" width="8.60" height="8.14" fill="#f2a385"/>
<rect x="200.10" y="835.17" width="9.00" height="8.14" fill="#79aed9"/>
<rect x="208.65" y="835.17" width="9.00" height="8.14" fill="#b7d4ea"/>
<rect x="217.20" y="835.17" width="9.00" height="8.14" fill="#f7f7f7"/>
<rect x="225.75" y="835.17" width="9.00" height="8.14" fill="#e2ecf4"/>
<rect x="234.30" y="835.17" width="9.00" height="8.14" fill="#f9d2be"/>
<rect x="242.85" y="835.17" width="9.00" height="8.14" fill="#b7d4ea"/>
<rect x="251.40" y="835.17" width="9.00" height="8.14" fill="#cb2f34"/>
<rect x="259.95" y="835.17" width="8.60" height="8.14" fill="#f2a385"/>
<rect x="200.10" y="842.87" width="9.00" height="8.14" fill="#79aed9"/>
<rect x="208.65" y="842.87" width="9.00" height="8.14" fill="#b7d4ea"/>
<rect x="217.20" y="842.87" width="9.00" height="8.14" fill="#f7f7f7"/>
<rect x="225.75" y="842.87" width="9.00" height="8.14" fill="#c7deef"/>
<rect x="234.30" y="842.87" width="9.00" height="8.14" fill="#f8ded1"/>
<rect x="242.85" y="842.87" width="9.00" height="8.14" fill="#c7deef"/>
<rect x="251.40" y="842.87" width="9.00" height="8.14" fill="#cb2f34"/>
<rect x="259.95" y="842.87" width="8.60" height="8.14" fill="#f2a385"/>
<rect x="200.10" y="850.56" width="9.00" height="8.14" fill="#f9d2be"/>
<rect x="208.65" y="850.56" width="9.00" height="8.14" fill="#cb2f34"/>
<rect x="217.20" y="850.56" width="9.00" height="8.14" fill="#f7c2ab"/>
<rect x="225.75" y="850.56" width="9.00" height="8.14" fill="#c7deef"/>
<rect x="234.30" y="850.56" width="9.00" height="8.14" fill="#d8e7f3"/>
<rect x="242.85" y="850.56" width="9.00" height="8.14" fill="#d8e7f3"/>
<rect x="251.40" y="850.56" width="9.00" height="8.14" fill="#d8e7f3"/>
<rect x="259.95" y="850.56" width="8.60" height="8.14" fill="#d8e7f3"/>
<rect x="200.10" y="858.25" width="9.00" height="8.14" fill="#f9d2be"/>
<rect x="208.65" y="858.25" width="9.00" height="8.14" fill="#e2705a"/>
<rect x="217.20" y="858.25" width="9.00" height="8.14" fill="#f9d2be"/>
<rect x="225.75" y="858.25" width="9.00" height="8.14" fill="#f8ded1"/>
<rect x="234.30" y="858.25" width="9.00" height="8.14" fill="#8fbddf"/>
<rect x="242.85" y="858.25" width="9.00" height="8.14" fill="#f7f7f7"/>
<rect x="251.40" y="858.25" width="9.00" height="8.14" fill="#8fbddf"/>
<rect x="259.95" y="858.25" width="8.60" height="8.14" fill="#8fbddf"/>
<rect x="200.10" y="865.95" width="9.00" height="8.14" fill="#f2a385"/>
<rect x="208.65" y="865.95" width="9.00" height="8.14" fill="#cb2f34"/>
<rect x="217.20" y="865.95" width="9.00" height="8.14" fill="#b7d4ea"/>
<rect x="225.75" y="865.95" width="9.00" height="8.14" fill="#f9d2be"/>
<rect x="234.30" y="865.95" width="9.00" height="8.14" fill="#b7d4ea"/>
<rect x="242.85" y="865.95" width="9.00" height="8.14" fill="#b7d4ea"/>
<rect x="251.40" y="865.95" width="9.00" height="8.14" fill="#b7d4ea"/>
<rect x="259.95" y="865.95" width="8.60" height="8.14" fill="#b7d4ea"/>
<rect x="200.10" y="873.64" width="9.00" height="8.14" fill="#f2a385"/>
<rect x="208.65" y="873.64" width="9.00" height="8.14" fill="#f9d2be"/>
<rect x="217.20" y="873.64" width="9.00" height="8.14" fill="#b7d4ea"/>
<rect x="225.75" y="873.64" width="9.00" height="8.14" fill="#d34541"/>
<rect x="234.30" y="873.64" width="9.00" height="8.14" fill="#b7d4ea"/>
<rect x="242.85" y="873.64" width="9.00" height="8.14" fill="#b7d4ea"/>
<rect x="251.40" y="873.64" width="9.00" height="8.14" fill="#b7d4ea"/>
<rect x="259.95" y="873.64" width="8.60" height="8.14" fill="#b7d4ea"/>
<rect x="200.10" y="881.34" width="9.00" height="8.14" fill="#f7c2ab"/>
<rect x="208.65" y="881.34" width="9.00" height="8.14" fill="#b7d4ea"/>
<rect x="217.20" y="881.34" width="9.00" height="8.14" fill="#ed9277"/>
<rect x="225.75" y="881.34" width="9.00" height="8.14" fill="#da5a4d"/>
<rect x="234.30" y="881.34" width="9.00" height="8.14" fill="#b7d4ea"/>
<rect x="242.85" y="881.34" width="9.00" height="8.14" fill="#b7d4ea"/>
<rect x="251.40" y="881.34" width="9.00" height="8.14" fill="#b7d4ea"/>
<rect x="259.95" y="881.34" width="8.60" height="8.14" fill="#b7d4ea"/>
<rect x="200.10" y="889.03" width="9.00" height="8.14" fill="#f7c2ab"/>
<rect x="208.65" y="889.03" width="9.00" height="8.14" fill="#b7d4ea"/>
<rect x="217.20" y="889.03" width="9.00" height="8.14" fill="#e2705a"/>
<rect x="225.75" y="889.03" width="9.00" height="8.14" fill="#e2705a"/>
<rect x="234.30" y="889.03" width="9.00" height="8.14" fill="#b7d4ea"/>
<rect x="242.85" y="889.03" width="9.00" height="8.14" fill="#b7d4ea"/>
<rect x="251.40" y="889.03" width="9.00" height="8.14" fill="#b7d4ea"/>
<rect x="259.95" y="889.03" width="8.60" height="8.14" fill="#b7d4ea"/>
<rect x="200.10" y="896.72" width="9.00" height="8.14" fill="#f7c2ab"/>
<rect x="208.65" y="896.72" width="9.00" height="8.14" fill="#b7d4ea"/>
<rect x="217.20" y="896.72" width="9.00" height="8.14" fill="#cb2f34"/>
<rect x="225.75" y="896.72" width="9.00" height="8.14" fill="#f7c2ab"/>
<rect x="234.30" y="896.72" width="9.00" height="8.14" fill="#b7d4ea"/>
<rect x="242.85" y="896.72" width="9.00" height="8.14" fill="#b7d4ea"/>
<rect x="251.40" y="896.72" width="9.00" height="8.14" fill="#b7d4ea"/>
<rect x="259.95" y="896.72" width="8.60" height="8.14" fill="#b7d4ea"/>
<rect x="200.10" y="904.42" width="9.00" height="8.14" fill="#f9d2be"/>
<rect x="208.65" y="904.42" width="9.00" height="8.14" fill="#f7f7f7"/>
<rect x="217.20" y="904.42" width="9.00" height="8.14" fill="#f2a385"/>
<rect x="225.75" y="904.42" width="9.00" height="8.14" fill="#cb2f34"/>
<rect x="234.30" y="904.42" width="9.00" height="8.14" fill="#b7d4ea"/>
<rect x="242.85" y="904.42" width="9.00" height="8.14" fill="#b7d4ea"/>
<rect x="251.40" y="904.42" width="9.00" height="8.14" fill="#b7d4ea"/>
<rect x="259.95" y="904.42" width="8.60" height="8.14" fill="#b7d4ea"/>
<rect x="200.10" y="912.11" width="9.00" height="8.14" fill="#d34541"/>
<rect x="208.65" y="912.11" width="9.00" height="8.14" fill="#b7d4ea"/>
<rect x="217.20" y="912.11" width="9.00" height="8.14" fill="#f2a385"/>
<rect x="225.75" y="912.11" width="9.00" height="8.14" fill="#f8ded1"/>
<rect x="234.30" y="912.11" width="9.00" height="8.14" fill="#b7d4ea"/>
<rect x="242.85" y="912.11" width="9.00" height="8.14" fill="#b7d4ea"/>
<rect x="251.40" y="912.11" width="9.00" height="8.14" fill="#b7d4ea"/>
<rect x="259.95" y="912.11" width="8.60" height="8.14" fill="#b7d4ea"/>
<rect x="200.10" y="919.81" width="9.00" height="7.74" fill="#e2705a"/>
<rect x="208.65" y="919.81" width="9.00" height="7.74" fill="#b7d4ea"/>
<rect x="217.20" y="919.81" width="9.00" height="7.74" fill="#f4b398"/>
<rect x="225.75" y="919.81" width="9.00" height="7.74" fill="#f4b398"/>
<rect x="234.30" y="919.81" width="9.00" height="7.74" fill="#b7d4ea"/>
<rect x="242.85" y="919.81" width="9.00" height="7.74" fill="#b7d4ea"/>
<rect x="251.40" y="919.81" width="9.00" height="7.74" fill="#b7d4ea"/>
<rect x="259.95" y="919.81" width="8.60" height="7.74" fill="#b7d4ea"/>
<text x="272.8" y="550.55" font-size="7.6" text-anchor="start" fill="#231f20" transform="matrix(1 0 0 1.08 0 -44.044)">H1-5_n[42.0106]SET</text>
<text x="272.8" y="558.24" font-size="7.6" text-anchor="start" fill="#231f20" transform="matrix(1 0 0 1.08 0 -44.659)">H1-5_n[42.0106]SET</text>
<text x="272.8" y="565.93" font-size="7.6" text-anchor="start" fill="#231f20" transform="matrix(1 0 0 1.08 0 -45.274)">XRN2_KAEDS[79.9663</text>
<text x="272.8" y="573.63" font-size="7.6" text-anchor="start" fill="#231f20" transform="matrix(1 0 0 1.08 0 -45.890)">UTP18_VQEHEDS[79.9</text>
<text x="272.8" y="581.32" font-size="7.6" text-anchor="start" fill="#231f20" transform="matrix(1 0 0 1.08 0 -46.506)">USP7_AGEQQLS[79.96</text>
<text x="272.8" y="589.02" font-size="7.6" text-anchor="start" fill="#231f20" transform="matrix(1 0 0 1.08 0 -47.122)">BLOC1S3_VAGEAAET[7</text>
<text x="272.8" y="596.71" font-size="7.6" text-anchor="start" fill="#231f20" transform="matrix(1 0 0 1.08 0 -47.737)">RFFL_RAS[79.9663]L</text>
<text x="272.8" y="604.4" font-size="7.6" text-anchor="start" fill="#231f20" transform="matrix(1 0 0 1.08 0 -48.352)">RALY_GRLS[79.9663]</text>
<text x="272.8" y="612.1" font-size="7.6" text-anchor="start" fill="#231f20" transform="matrix(1 0 0 1.08 0 -48.968)">NEDD1_LVTSGAESGNLN</text>
<text x="272.8" y="619.79" font-size="7.6" text-anchor="start" fill="#231f20" transform="matrix(1 0 0 1.08 0 -49.583)">HDAC2_MLPHAPGVQMQA</text>
<text x="272.8" y="627.49" font-size="7.6" text-anchor="start" fill="#231f20" transform="matrix(1 0 0 1.08 0 -50.199)">HDAC1_IAC[57.0215]</text>
<text x="272.8" y="635.18" font-size="7.6" text-anchor="start" fill="#231f20" transform="matrix(1 0 0 1.08 0 -50.814)">ZFPM1_GSEGSQS[79.9</text>
<text x="272.8" y="642.87" font-size="7.6" text-anchor="start" fill="#231f20" transform="matrix(1 0 0 1.08 0 -51.430)">SMARCC2_TLTDEVNS[7</text>
<text x="272.8" y="650.57" font-size="7.6" text-anchor="start" fill="#231f20" transform="matrix(1 0 0 1.08 0 -52.046)">LARP1_AVT[79.9663]</text>
<text x="272.8" y="658.26" font-size="7.6" text-anchor="start" fill="#231f20" transform="matrix(1 0 0 1.08 0 -52.661)">NOP56_SFSKEELMSS[7</text>
<text x="272.8" y="665.96" font-size="7.6" text-anchor="start" fill="#231f20" transform="matrix(1 0 0 1.08 0 -53.277)">H1-5_n[42.0106]SET</text>
<text x="272.8" y="673.65" font-size="7.6" text-anchor="start" fill="#231f20" transform="matrix(1 0 0 1.08 0 -53.892)">GYPA_KSPSDVKPLPS[7</text>
<text x="272.8" y="681.34" font-size="7.6" text-anchor="start" fill="#231f20" transform="matrix(1 0 0 1.08 0 -54.507)">TRIM28_n[42.0106]A</text>
<text x="272.8" y="689.04" font-size="7.6" text-anchor="start" fill="#231f20" transform="matrix(1 0 0 1.08 0 -55.123)">DMTN_SLPDRT[79.966</text>
<text x="272.8" y="696.73" font-size="7.6" text-anchor="start" fill="#231f20" transform="matrix(1 0 0 1.08 0 -55.738)">TLE3_DAPTS[79.9663</text>
<text x="272.8" y="704.43" font-size="7.6" text-anchor="start" fill="#231f20" transform="matrix(1 0 0 1.08 0 -56.354)">DNM2_EALNIIGDISTST</text>
<text x="272.8" y="712.12" font-size="7.6" text-anchor="start" fill="#231f20" transform="matrix(1 0 0 1.08 0 -56.970)">PGRMC2_LLKPGEEPS[7</text>
<text x="272.8" y="719.81" font-size="7.6" text-anchor="start" fill="#231f20" transform="matrix(1 0 0 1.08 0 -57.585)">CANX_Q[−17.0265]KS</text>
<text x="272.8" y="727.51" font-size="7.6" text-anchor="start" fill="#231f20" transform="matrix(1 0 0 1.08 0 -58.201)">BAZ1B_LAEDEGDS[79.</text>
<text x="272.8" y="735.2" font-size="7.6" text-anchor="start" fill="#231f20" transform="matrix(1 0 0 1.08 0 -58.816)">MKI67_MPC[57.0215]</text>
<text x="272.8" y="742.9" font-size="7.6" text-anchor="start" fill="#231f20" transform="matrix(1 0 0 1.08 0 -59.432)">NUMA1_TQPDGTSVPGEP</text>
<text x="272.8" y="750.59" font-size="7.6" text-anchor="start" fill="#231f20" transform="matrix(1 0 0 1.08 0 -60.047)">ANK1_QDDATGAGQDS[7</text>
<text x="272.8" y="758.28" font-size="7.6" text-anchor="start" fill="#231f20" transform="matrix(1 0 0 1.08 0 -60.662)">LARP7_SRPTSEGS[79.</text>
<text x="272.8" y="765.98" font-size="7.6" text-anchor="start" fill="#231f20" transform="matrix(1 0 0 1.08 0 -61.278)">HSP90AA1_ESEDKPEIE</text>
<text x="272.8" y="773.67" font-size="7.6" text-anchor="start" fill="#231f20" transform="matrix(1 0 0 1.08 0 -61.894)">CCDC9_EGAASPAPETPQ</text>
<text x="272.8" y="781.37" font-size="7.6" text-anchor="start" fill="#231f20" transform="matrix(1 0 0 1.08 0 -62.510)">MKI67_IAC[57.0215]</text>
<text x="272.8" y="789.06" font-size="7.6" text-anchor="start" fill="#231f20" transform="matrix(1 0 0 1.08 0 -63.125)">MKI67_ILC[57.0215]</text>
<text x="272.8" y="796.75" font-size="7.6" text-anchor="start" fill="#231f20" transform="matrix(1 0 0 1.08 0 -63.740)">HEMGN_IC[57.0215]Q</text>
<text x="272.8" y="804.45" font-size="7.6" text-anchor="start" fill="#231f20" transform="matrix(1 0 0 1.08 0 -64.356)">SNRNP200_EEAS[79.9</text>
<text x="272.8" y="812.14" font-size="7.6" text-anchor="start" fill="#231f20" transform="matrix(1 0 0 1.08 0 -64.971)">PSMA3_ESLKEEDES[79</text>
<text x="272.8" y="819.84" font-size="7.6" text-anchor="start" fill="#231f20" transform="matrix(1 0 0 1.08 0 -65.587)">HUWE1_SDGSGESAQPPE</text>
<text x="272.8" y="827.53" font-size="7.6" text-anchor="start" fill="#231f20" transform="matrix(1 0 0 1.08 0 -66.202)">PPAN_VGGS[79.9663]</text>
<text x="272.8" y="835.22" font-size="7.6" text-anchor="start" fill="#231f20" transform="matrix(1 0 0 1.08 0 -66.818)">SRRM1_KETES[79.966</text>
<text x="272.8" y="842.92" font-size="7.6" text-anchor="start" fill="#231f20" transform="matrix(1 0 0 1.08 0 -67.434)">ZBTB7A_GGAPDPSPGAT</text>
<text x="272.8" y="850.61" font-size="7.6" text-anchor="start" fill="#231f20" transform="matrix(1 0 0 1.08 0 -68.049)">FAM104A_GADAGSSGGT</text>
<text x="272.8" y="858.31" font-size="7.6" text-anchor="start" fill="#231f20" transform="matrix(1 0 0 1.08 0 -68.665)">SRRM2_MGQAPSQSLLPP</text>
<text x="272.8" y="866.0" font-size="7.6" text-anchor="start" fill="#231f20" transform="matrix(1 0 0 1.08 0 -69.280)">USP39_EREVDEDS[79.</text>
<text x="272.8" y="873.69" font-size="7.6" text-anchor="start" fill="#231f20" transform="matrix(1 0 0 1.08 0 -69.895)">LMNA_LRLSPS[79.966</text>
<text x="272.8" y="881.39" font-size="7.6" text-anchor="start" fill="#231f20" transform="matrix(1 0 0 1.08 0 -70.511)">PRKAB1_C[57.0215]S</text>
<text x="272.8" y="889.08" font-size="7.6" text-anchor="start" fill="#231f20" transform="matrix(1 0 0 1.08 0 -71.126)">NUCKS1_KVVDYS[79.9</text>
<text x="272.8" y="896.78" font-size="7.6" text-anchor="start" fill="#231f20" transform="matrix(1 0 0 1.08 0 -71.742)">PNN_ES[79.9663]RQE</text>
<text x="272.8" y="904.47" font-size="7.6" text-anchor="start" fill="#231f20" transform="matrix(1 0 0 1.08 0 -72.358)">SAFB_ESSTSEGADQKMS</text>
<text x="272.8" y="912.16" font-size="7.6" text-anchor="start" fill="#231f20" transform="matrix(1 0 0 1.08 0 -72.973)">SPTB_Q[−17.0265]IA</text>
<text x="272.8" y="919.86" font-size="7.6" text-anchor="start" fill="#231f20" transform="matrix(1 0 0 1.08 0 -73.589)">HNRNPA1_n[42.0106]</text>
<text x="272.8" y="927.55" font-size="7.6" text-anchor="start" fill="#231f20" transform="matrix(1 0 0 1.08 0 -74.204)">SEC61B_PGPTPSGTNVG</text>
<g fill="none" stroke="#8c8c8c" stroke-width="0.8"><polyline points="194.6,716 187,716 187,887.6 196.3,887.6"/><polyline points="197.5,644.4 194.6,644.4 194.6,789.4 197.5,789.4"/></g>
<line x1="198.4" y1="546" x2="198.4" y2="925" stroke="#a0a0a0" stroke-width="0.7"/>
<rect x="174.3" y="889.6" width="17.7" height="56.2" fill="#fff" stroke="#c8c8c8" stroke-width="0.7"/>
<rect x="174.50" y="889.60" width="4.30" height="56.00" fill="url(#gG)"/>
<text x="180.8" y="899.5" font-size="7.2" text-anchor="start" fill="#231f20" transform="matrix(1 0 0 1.08 0 -71.960)">2.1</text>
<text x="180.5" y="928.2" font-size="7.2" text-anchor="start" fill="#231f20" transform="matrix(1 0 0 1.08 0 -74.256)">0</text>
<text x="180.6" y="943.6" font-size="7.2" text-anchor="start" fill="#231f20" transform="matrix(1 0 0 1.08 0 -75.488)">−1.6</text>
<text x="237.5" y="940.8" font-size="7.5" text-anchor="middle" fill="#231f20" transform="matrix(1 0 0 1.08 0 -75.264)">Phosphoproteins</text>
<text x="237.5" y="949.8" font-size="7.4" text-anchor="middle" font-style="italic" fill="#231f20" transform="matrix(1 0 0 1.08 0 -75.98)">Top 50 T-test</text>
<text x="10.8" y="663.6" font-size="16.6" text-anchor="start" fill="#000" font-weight="bold">H</text>
<text x="70.3" y="660.2" font-size="11.7" text-anchor="middle" fill="#231f20" transform="matrix(1 0 0 1.08 0 -52.816)"><tspan font-family='"Liberation Serif", serif'>β</tspan>Thal</text>
<text x="70.3" y="674.8" font-size="11.7" text-anchor="middle" fill="#231f20" transform="matrix(1 0 0 1.08 0 -53.984)">Vehicle</text>
<text x="117.5" y="660.2" font-size="11.7" text-anchor="middle" fill="#231f20" transform="matrix(1 0 0 1.08 0 -52.816)"><tspan font-family='"Liberation Serif", serif'>β</tspan>Thal</text>
<text x="117.5" y="674.8" font-size="11.7" text-anchor="middle" fill="#231f20" transform="matrix(1 0 0 1.08 0 -53.984)">Mitapivat</text>
<rect x="56.50" y="683.20" width="8.65" height="5.10" fill="#19215f"/>
<rect x="65.10" y="683.20" width="8.65" height="5.10" fill="#19215f"/>
<rect x="73.70" y="683.20" width="8.65" height="5.10" fill="#19215f"/>
<rect x="82.30" y="683.20" width="8.65" height="5.10" fill="#19215f"/>
<rect x="90.90" y="683.20" width="8.65" height="5.10" fill="#d0101e"/>
<rect x="99.50" y="683.20" width="8.65" height="5.10" fill="#d0101e"/>
<rect x="108.10" y="683.20" width="8.65" height="5.10" fill="#d0101e"/>
<rect x="116.70" y="683.20" width="8.65" height="5.10" fill="#d0101e"/>
<line x1="65.1" y1="683.2" x2="65.1" y2="688.3" stroke="#4a5288" stroke-width="0.45"/>
<line x1="73.7" y1="683.2" x2="73.7" y2="688.3" stroke="#4a5288" stroke-width="0.45"/>
<line x1="82.3" y1="683.2" x2="82.3" y2="688.3" stroke="#4a5288" stroke-width="0.45"/>
<line x1="90.9" y1="683.2" x2="90.9" y2="688.3" stroke="#e8505a" stroke-width="0.45"/>
<line x1="99.5" y1="683.2" x2="99.5" y2="688.3" stroke="#e8505a" stroke-width="0.45"/>
<line x1="108.1" y1="683.2" x2="108.1" y2="688.3" stroke="#e8505a" stroke-width="0.45"/>
<line x1="116.7" y1="683.2" x2="116.7" y2="688.3" stroke="#e8505a" stroke-width="0.45"/>
<rect x="55.20" y="695.20" width="8.66" height="5.44" fill="#f2a385"/>
<rect x="63.41" y="695.20" width="8.66" height="5.44" fill="#f4b398"/>
<rect x="71.62" y="695.20" width="8.66" height="5.44" fill="#da5a4d"/>
<rect x="79.83" y="695.20" width="8.66" height="5.44" fill="#f7f7f7"/>
<rect x="88.04" y="695.20" width="8.66" height="5.44" fill="#e2ecf4"/>
<rect x="96.25" y="695.20" width="8.66" height="5.44" fill="#b7d4ea"/>
<rect x="104.46" y="695.20" width="8.66" height="5.44" fill="#b7d4ea"/>
<rect x="112.67" y="695.20" width="8.26" height="5.44" fill="#79aed9"/>
<rect x="55.20" y="700.19" width="8.66" height="5.44" fill="#f2a385"/>
<rect x="63.41" y="700.19" width="8.66" height="5.44" fill="#f9d2be"/>
<rect x="71.62" y="700.19" width="8.66" height="5.44" fill="#e2705a"/>
<rect x="79.83" y="700.19" width="8.66" height="5.44" fill="#f7f7f7"/>
<rect x="88.04" y="700.19" width="8.66" height="5.44" fill="#d8e7f3"/>
<rect x="96.25" y="700.19" width="8.66" height="5.44" fill="#b7d4ea"/>
<rect x="104.46" y="700.19" width="8.66" height="5.44" fill="#b7d4ea"/>
<rect x="112.67" y="700.19" width="8.26" height="5.44" fill="#79aed9"/>
<rect x="55.20" y="705.18" width="8.66" height="5.44" fill="#f2a385"/>
<rect x="63.41" y="705.18" width="8.66" height="5.44" fill="#f9d2be"/>
<rect x="71.62" y="705.18" width="8.66" height="5.44" fill="#e2705a"/>
<rect x="79.83" y="705.18" width="8.66" height="5.44" fill="#f8ded1"/>
<rect x="88.04" y="705.18" width="8.66" height="5.44" fill="#c7deef"/>
<rect x="96.25" y="705.18" width="8.66" height="5.44" fill="#a6cbe6"/>
<rect x="104.46" y="705.18" width="8.66" height="5.44" fill="#d8e7f3"/>
<rect x="112.67" y="705.18" width="8.26" height="5.44" fill="#62a0d2"/>
<rect x="55.20" y="710.17" width="8.66" height="5.44" fill="#f9d2be"/>
<rect x="63.41" y="710.17" width="8.66" height="5.44" fill="#d34541"/>
<rect x="71.62" y="710.17" width="8.66" height="5.44" fill="#f2a385"/>
<rect x="79.83" y="710.17" width="8.66" height="5.44" fill="#f7f7f7"/>
<rect x="88.04" y="710.17" width="8.66" height="5.44" fill="#d8e7f3"/>
<rect x="96.25" y="710.17" width="8.66" height="5.44" fill="#c7deef"/>
<rect x="104.46" y="710.17" width="8.66" height="5.44" fill="#a6cbe6"/>
<rect x="112.67" y="710.17" width="8.26" height="5.44" fill="#79aed9"/>
<rect x="55.20" y="715.16" width="8.66" height="5.44" fill="#f9d2be"/>
<rect x="63.41" y="715.16" width="8.66" height="5.44" fill="#f9d2be"/>
<rect x="71.62" y="715.16" width="8.66" height="5.44" fill="#cb2f34"/>
<rect x="79.83" y="715.16" width="8.66" height="5.44" fill="#f7f7f7"/>
<rect x="88.04" y="715.16" width="8.66" height="5.44" fill="#a6cbe6"/>
<rect x="96.25" y="715.16" width="8.66" height="5.44" fill="#a6cbe6"/>
<rect x="104.46" y="715.16" width="8.66" height="5.44" fill="#a6cbe6"/>
<rect x="112.67" y="715.16" width="8.26" height="5.44" fill="#edf2f6"/>
<rect x="55.20" y="720.15" width="8.66" height="5.44" fill="#f9d2be"/>
<rect x="63.41" y="720.15" width="8.66" height="5.44" fill="#f2a385"/>
<rect x="71.62" y="720.15" width="8.66" height="5.44" fill="#d34541"/>
<rect x="79.83" y="720.15" width="8.66" height="5.44" fill="#f8ebe4"/>
<rect x="88.04" y="720.15" width="8.66" height="5.44" fill="#a6cbe6"/>
<rect x="96.25" y="720.15" width="8.66" height="5.44" fill="#e2ecf4"/>
<rect x="104.46" y="720.15" width="8.66" height="5.44" fill="#a6cbe6"/>
<rect x="112.67" y="720.15" width="8.26" height="5.44" fill="#a6cbe6"/>
<rect x="55.20" y="725.14" width="8.66" height="5.44" fill="#e78168"/>
<rect x="63.41" y="725.14" width="8.66" height="5.44" fill="#f7f7f7"/>
<rect x="71.62" y="725.14" width="8.66" height="5.44" fill="#e2705a"/>
<rect x="79.83" y="725.14" width="8.66" height="5.44" fill="#f9d2be"/>
<rect x="88.04" y="725.14" width="8.66" height="5.44" fill="#e2ecf4"/>
<rect x="96.25" y="725.14" width="8.66" height="5.44" fill="#79aed9"/>
<rect x="104.46" y="725.14" width="8.66" height="5.44" fill="#e2ecf4"/>
<rect x="112.67" y="725.14" width="8.26" height="5.44" fill="#a6cbe6"/>
<rect x="55.20" y="730.13" width="8.66" height="5.44" fill="#f2a385"/>
<rect x="63.41" y="730.13" width="8.66" height="5.44" fill="#f7c2ab"/>
<rect x="71.62" y="730.13" width="8.66" height="5.44" fill="#f2a385"/>
<rect x="79.83" y="730.13" width="8.66" height="5.44" fill="#f7c2ab"/>
<rect x="88.04" y="730.13" width="8.66" height="5.44" fill="#b7d4ea"/>
<rect x="96.25" y="730.13" width="8.66" height="5.44" fill="#a6cbe6"/>
<rect x="104.46" y="730.13" width="8.66" height="5.44" fill="#b7d4ea"/>
<rect x="112.67" y="730.13" width="8.26" height="5.44" fill="#a6cbe6"/>
<rect x="55.20" y="735.12" width="8.66" height="5.44" fill="#f2a385"/>
<rect x="63.41" y="735.12" width="8.66" height="5.44" fill="#f2a385"/>
<rect x="71.62" y="735.12" width="8.66" height="5.44" fill="#f2a385"/>
<rect x="79.83" y="735.12" width="8.66" height="5.44" fill="#f4b398"/>
<rect x="88.04" y="735.12" width="8.66" height="5.44" fill="#a6cbe6"/>
<rect x="96.25" y="735.12" width="8.66" height="5.44" fill="#a6cbe6"/>
<rect x="104.46" y="735.12" width="8.66" height="5.44" fill="#a6cbe6"/>
<rect x="112.67" y="735.12" width="8.26" height="5.44" fill="#a6cbe6"/>
<rect x="55.20" y="740.11" width="8.66" height="5.44" fill="#ed9277"/>
<rect x="63.41" y="740.11" width="8.66" height="5.44" fill="#ed9277"/>
<rect x="71.62" y="740.11" width="8.66" height="5.44" fill="#f7c2ab"/>
<rect x="79.83" y="740.11" width="8.66" height="5.44" fill="#f9d2be"/>
<rect x="88.04" y="740.11" width="8.66" height="5.44" fill="#a6cbe6"/>
<rect x="96.25" y="740.11" width="8.66" height="5.44" fill="#a6cbe6"/>
<rect x="104.46" y="740.11" width="8.66" height="5.44" fill="#a6cbe6"/>
<rect x="112.67" y="740.11" width="8.26" height="5.44" fill="#a6cbe6"/>
<rect x="55.20" y="745.10" width="8.66" height="5.44" fill="#f2a385"/>
<rect x="63.41" y="745.10" width="8.66" height="5.44" fill="#ed9277"/>
<rect x="71.62" y="745.10" width="8.66" height="5.44" fill="#f9d2be"/>
<rect x="79.83" y="745.10" width="8.66" height="5.44" fill="#f9d2be"/>
<rect x="88.04" y="745.10" width="8.66" height="5.44" fill="#a6cbe6"/>
<rect x="96.25" y="745.10" width="8.66" height="5.44" fill="#a6cbe6"/>
<rect x="104.46" y="745.10" width="8.66" height="5.44" fill="#a6cbe6"/>
<rect x="112.67" y="745.10" width="8.26" height="5.44" fill="#a6cbe6"/>
<rect x="55.20" y="750.09" width="8.66" height="5.44" fill="#f7c2ab"/>
<rect x="63.41" y="750.09" width="8.66" height="5.44" fill="#ed9277"/>
<rect x="71.62" y="750.09" width="8.66" height="5.44" fill="#f9d2be"/>
<rect x="79.83" y="750.09" width="8.66" height="5.44" fill="#f8ded1"/>
<rect x="88.04" y="750.09" width="8.66" height="5.44" fill="#a6cbe6"/>
<rect x="96.25" y="750.09" width="8.66" height="5.44" fill="#a6cbe6"/>
<rect x="104.46" y="750.09" width="8.66" height="5.44" fill="#f7f7f7"/>
<rect x="112.67" y="750.09" width="8.26" height="5.44" fill="#a6cbe6"/>
<rect x="55.20" y="755.08" width="8.66" height="5.44" fill="#ed9277"/>
<rect x="63.41" y="755.08" width="8.66" height="5.44" fill="#f2a385"/>
<rect x="71.62" y="755.08" width="8.66" height="5.44" fill="#f7c2ab"/>
<rect x="79.83" y="755.08" width="8.66" height="5.44" fill="#f8ded1"/>
<rect x="88.04" y="755.08" width="8.66" height="5.44" fill="#f7f7f7"/>
<rect x="96.25" y="755.08" width="8.66" height="5.44" fill="#8fbddf"/>
<rect x="104.46" y="755.08" width="8.66" height="5.44" fill="#8fbddf"/>
<rect x="112.67" y="755.08" width="8.26" height="5.44" fill="#a6cbe6"/>
<rect x="55.20" y="760.07" width="8.66" height="5.44" fill="#ed9277"/>
<rect x="63.41" y="760.07" width="8.66" height="5.44" fill="#f2a385"/>
<rect x="71.62" y="760.07" width="8.66" height="5.44" fill="#f9d2be"/>
<rect x="79.83" y="760.07" width="8.66" height="5.44" fill="#f9d2be"/>
<rect x="88.04" y="760.07" width="8.66" height="5.44" fill="#f7f7f7"/>
<rect x="96.25" y="760.07" width="8.66" height="5.44" fill="#8fbddf"/>
<rect x="104.46" y="760.07" width="8.66" height="5.44" fill="#8fbddf"/>
<rect x="112.67" y="760.07" width="8.26" height="5.44" fill="#8fbddf"/>
<rect x="55.20" y="765.06" width="8.66" height="5.44" fill="#f2a385"/>
<rect x="63.41" y="765.06" width="8.66" height="5.44" fill="#f2a385"/>
<rect x="71.62" y="765.06" width="8.66" height="5.44" fill="#f7c2ab"/>
<rect x="79.83" y="765.06" width="8.66" height="5.44" fill="#f8ebe4"/>
<rect x="88.04" y="765.06" width="8.66" height="5.44" fill="#f8ded1"/>
<rect x="96.25" y="765.06" width="8.66" height="5.44" fill="#8fbddf"/>
<rect x="104.46" y="765.06" width="8.66" height="5.44" fill="#8fbddf"/>
<rect x="112.67" y="765.06" width="8.26" height="5.44" fill="#8fbddf"/>
<rect x="55.20" y="770.05" width="8.66" height="5.44" fill="#f2a385"/>
<rect x="63.41" y="770.05" width="8.66" height="5.44" fill="#f8ded1"/>
<rect x="71.62" y="770.05" width="8.66" height="5.44" fill="#ed9277"/>
<rect x="79.83" y="770.05" width="8.66" height="5.44" fill="#f7c2ab"/>
<rect x="88.04" y="770.05" width="8.66" height="5.44" fill="#f7f7f7"/>
<rect x="96.25" y="770.05" width="8.66" height="5.44" fill="#8fbddf"/>
<rect x="104.46" y="770.05" width="8.66" height="5.44" fill="#8fbddf"/>
<rect x="112.67" y="770.05" width="8.26" height="5.44" fill="#e2ecf4"/>
<rect x="55.20" y="775.04" width="8.66" height="5.44" fill="#f2a385"/>
<rect x="63.41" y="775.04" width="8.66" height="5.44" fill="#ed9277"/>
<rect x="71.62" y="775.04" width="8.66" height="5.44" fill="#f8ebe4"/>
<rect x="79.83" y="775.04" width="8.66" height="5.44" fill="#f4b398"/>
<rect x="88.04" y="775.04" width="8.66" height="5.44" fill="#edf2f6"/>
<rect x="96.25" y="775.04" width="8.66" height="5.44" fill="#8fbddf"/>
<rect x="104.46" y="775.04" width="8.66" height="5.44" fill="#8fbddf"/>
<rect x="112.67" y="775.04" width="8.26" height="5.44" fill="#a6cbe6"/>
<rect x="55.20" y="780.03" width="8.66" height="5.44" fill="#a6cbe6"/>
<rect x="63.41" y="780.03" width="8.66" height="5.44" fill="#a6cbe6"/>
<rect x="71.62" y="780.03" width="8.66" height="5.44" fill="#f7f7f7"/>
<rect x="79.83" y="780.03" width="8.66" height="5.44" fill="#a6cbe6"/>
<rect x="88.04" y="780.03" width="8.66" height="5.44" fill="#cb2f34"/>
<rect x="96.25" y="780.03" width="8.66" height="5.44" fill="#f8ded1"/>
<rect x="104.46" y="780.03" width="8.66" height="5.44" fill="#f8ebe4"/>
<rect x="112.67" y="780.03" width="8.26" height="5.44" fill="#f9d2be"/>
<rect x="55.20" y="785.02" width="8.66" height="5.44" fill="#f2a385"/>
<rect x="63.41" y="785.02" width="8.66" height="5.44" fill="#d34541"/>
<rect x="71.62" y="785.02" width="8.66" height="5.44" fill="#f7f7f7"/>
<rect x="79.83" y="785.02" width="8.66" height="5.44" fill="#f7c2ab"/>
<rect x="88.04" y="785.02" width="8.66" height="5.44" fill="#b7d4ea"/>
<rect x="96.25" y="785.02" width="8.66" height="5.44" fill="#b7d4ea"/>
<rect x="104.46" y="785.02" width="8.66" height="5.44" fill="#b7d4ea"/>
<rect x="112.67" y="785.02" width="8.26" height="5.44" fill="#b7d4ea"/>
<rect x="55.20" y="790.01" width="8.66" height="5.44" fill="#f2a385"/>
<rect x="63.41" y="790.01" width="8.66" height="5.44" fill="#d34541"/>
<rect x="71.62" y="790.01" width="8.66" height="5.44" fill="#f7f7f7"/>
<rect x="79.83" y="790.01" width="8.66" height="5.44" fill="#f7c2ab"/>
<rect x="88.04" y="790.01" width="8.66" height="5.44" fill="#b7d4ea"/>
<rect x="96.25" y="790.01" width="8.66" height="5.44" fill="#b7d4ea"/>
<rect x="104.46" y="790.01" width="8.66" height="5.44" fill="#b7d4ea"/>
<rect x="112.67" y="790.01" width="8.26" height="5.44" fill="#b7d4ea"/>
<rect x="55.20" y="795.00" width="8.66" height="5.44" fill="#f4b398"/>
<rect x="63.41" y="795.00" width="8.66" height="5.44" fill="#d34541"/>
<rect x="71.62" y="795.00" width="8.66" height="5.44" fill="#f7f7f7"/>
<rect x="79.83" y="795.00" width="8.66" height="5.44" fill="#f9d2be"/>
<rect x="88.04" y="795.00" width="8.66" height="5.44" fill="#b7d4ea"/>
<rect x="96.25" y="795.00" width="8.66" height="5.44" fill="#b7d4ea"/>
<rect x="104.46" y="795.00" width="8.66" height="5.44" fill="#b7d4ea"/>
<rect x="112.67" y="795.00" width="8.26" height="5.44" fill="#b7d4ea"/>
<rect x="55.20" y="799.99" width="8.66" height="5.44" fill="#ed9277"/>
<rect x="63.41" y="799.99" width="8.66" height="5.44" fill="#ed9277"/>
<rect x="71.62" y="799.99" width="8.66" height="5.44" fill="#f7f7f7"/>
<rect x="79.83" y="799.99" width="8.66" height="5.44" fill="#f2a385"/>
<rect x="88.04" y="799.99" width="8.66" height="5.44" fill="#b7d4ea"/>
<rect x="96.25" y="799.99" width="8.66" height="5.44" fill="#b7d4ea"/>
<rect x="104.46" y="799.99" width="8.66" height="5.44" fill="#b7d4ea"/>
<rect x="112.67" y="799.99" width="8.26" height="5.44" fill="#b7d4ea"/>
<rect x="55.20" y="804.98" width="8.66" height="5.44" fill="#ed9277"/>
<rect x="63.41" y="804.98" width="8.66" height="5.44" fill="#cb2f34"/>
<rect x="71.62" y="804.98" width="8.66" height="5.44" fill="#f7f7f7"/>
<rect x="79.83" y="804.98" width="8.66" height="5.44" fill="#f7f7f7"/>
<rect x="88.04" y="804.98" width="8.66" height="5.44" fill="#b7d4ea"/>
<rect x="96.25" y="804.98" width="8.66" height="5.44" fill="#b7d4ea"/>
<rect x="104.46" y="804.98" width="8.66" height="5.44" fill="#b7d4ea"/>
<rect x="112.67" y="804.98" width="8.26" height="5.44" fill="#b7d4ea"/>
<rect x="55.20" y="809.97" width="8.66" height="5.44" fill="#f2a385"/>
<rect x="63.41" y="809.97" width="8.66" height="5.44" fill="#cb2f34"/>
<rect x="71.62" y="809.97" width="8.66" height="5.44" fill="#f9d2be"/>
<rect x="79.83" y="809.97" width="8.66" height="5.44" fill="#edf2f6"/>
<rect x="88.04" y="809.97" width="8.66" height="5.44" fill="#b7d4ea"/>
<rect x="96.25" y="809.97" width="8.66" height="5.44" fill="#b7d4ea"/>
<rect x="104.46" y="809.97" width="8.66" height="5.44" fill="#b7d4ea"/>
<rect x="112.67" y="809.97" width="8.26" height="5.44" fill="#b7d4ea"/>
<rect x="55.20" y="814.96" width="8.66" height="5.44" fill="#f7c2ab"/>
<rect x="63.41" y="814.96" width="8.66" height="5.44" fill="#cb2f34"/>
<rect x="71.62" y="814.96" width="8.66" height="5.44" fill="#f7f7f7"/>
<rect x="79.83" y="814.96" width="8.66" height="5.44" fill="#f7f7f7"/>
<rect x="88.04" y="814.96" width="8.66" height="5.44" fill="#a6cbe6"/>
<rect x="96.25" y="814.96" width="8.66" height="5.44" fill="#a6cbe6"/>
<rect x="104.46" y="814.96" width="8.66" height="5.44" fill="#e2ecf4"/>
<rect x="112.67" y="814.96" width="8.26" height="5.44" fill="#e2ecf4"/>
<rect x="55.20" y="819.95" width="8.66" height="5.44" fill="#f8ebe4"/>
<rect x="63.41" y="819.95" width="8.66" height="5.44" fill="#bc262e"/>
<rect x="71.62" y="819.95" width="8.66" height="5.44" fill="#f7f7f7"/>
<rect x="79.83" y="819.95" width="8.66" height="5.44" fill="#f9d2be"/>
<rect x="88.04" y="819.95" width="8.66" height="5.44" fill="#d8e7f3"/>
<rect x="96.25" y="819.95" width="8.66" height="5.44" fill="#b7d4ea"/>
<rect x="104.46" y="819.95" width="8.66" height="5.44" fill="#a6cbe6"/>
<rect x="112.67" y="819.95" width="8.26" height="5.44" fill="#b7d4ea"/>
<rect x="55.20" y="824.94" width="8.66" height="5.44" fill="#f9d2be"/>
<rect x="63.41" y="824.94" width="8.66" height="5.44" fill="#cb2f34"/>
<rect x="71.62" y="824.94" width="8.66" height="5.44" fill="#f8ebe4"/>
<rect x="79.83" y="824.94" width="8.66" height="5.44" fill="#f8ded1"/>
<rect x="88.04" y="824.94" width="8.66" height="5.44" fill="#79aed9"/>
<rect x="96.25" y="824.94" width="8.66" height="5.44" fill="#f7f7f7"/>
<rect x="104.46" y="824.94" width="8.66" height="5.44" fill="#a6cbe6"/>
<rect x="112.67" y="824.94" width="8.26" height="5.44" fill="#a6cbe6"/>
<rect x="55.20" y="829.93" width="8.66" height="5.44" fill="#f8ded1"/>
<rect x="63.41" y="829.93" width="8.66" height="5.44" fill="#cb2f34"/>
<rect x="71.62" y="829.93" width="8.66" height="5.44" fill="#f7c2ab"/>
<rect x="79.83" y="829.93" width="8.66" height="5.44" fill="#f7f7f7"/>
<rect x="88.04" y="829.93" width="8.66" height="5.44" fill="#c7deef"/>
<rect x="96.25" y="829.93" width="8.66" height="5.44" fill="#a6cbe6"/>
<rect x="104.46" y="829.93" width="8.66" height="5.44" fill="#a6cbe6"/>
<rect x="112.67" y="829.93" width="8.26" height="5.44" fill="#b7d4ea"/>
<rect x="55.20" y="834.92" width="8.66" height="5.44" fill="#f7f7f7"/>
<rect x="63.41" y="834.92" width="8.66" height="5.44" fill="#da5a4d"/>
<rect x="71.62" y="834.92" width="8.66" height="5.44" fill="#f2a385"/>
<rect x="79.83" y="834.92" width="8.66" height="5.44" fill="#f8ebe4"/>
<rect x="88.04" y="834.92" width="8.66" height="5.44" fill="#a6cbe6"/>
<rect x="96.25" y="834.92" width="8.66" height="5.44" fill="#f7f7f7"/>
<rect x="104.46" y="834.92" width="8.66" height="5.44" fill="#4085c3"/>
<rect x="112.67" y="834.92" width="8.26" height="5.44" fill="#c7deef"/>
<rect x="55.20" y="839.91" width="8.66" height="5.44" fill="#ed9277"/>
<rect x="63.41" y="839.91" width="8.66" height="5.44" fill="#e2705a"/>
<rect x="71.62" y="839.91" width="8.66" height="5.44" fill="#f8ebe4"/>
<rect x="79.83" y="839.91" width="8.66" height="5.44" fill="#f7f7f7"/>
<rect x="88.04" y="839.91" width="8.66" height="5.44" fill="#d8e7f3"/>
<rect x="96.25" y="839.91" width="8.66" height="5.44" fill="#d8e7f3"/>
<rect x="104.46" y="839.91" width="8.66" height="5.44" fill="#a6cbe6"/>
<rect x="112.67" y="839.91" width="8.26" height="5.44" fill="#62a0d2"/>
<rect x="55.20" y="844.90" width="8.66" height="5.44" fill="#ed9277"/>
<rect x="63.41" y="844.90" width="8.66" height="5.44" fill="#e2705a"/>
<rect x="71.62" y="844.90" width="8.66" height="5.44" fill="#f7f7f7"/>
<rect x="79.83" y="844.90" width="8.66" height="5.44" fill="#f8ebe4"/>
<rect x="88.04" y="844.90" width="8.66" height="5.44" fill="#b7d4ea"/>
<rect x="96.25" y="844.90" width="8.66" height="5.44" fill="#e2ecf4"/>
<rect x="104.46" y="844.90" width="8.66" height="5.44" fill="#a6cbe6"/>
<rect x="112.67" y="844.90" width="8.26" height="5.44" fill="#62a0d2"/>
<rect x="55.20" y="849.89" width="8.66" height="5.44" fill="#ed9277"/>
<rect x="63.41" y="849.89" width="8.66" height="5.44" fill="#ed9277"/>
<rect x="71.62" y="849.89" width="8.66" height="5.44" fill="#f8ebe4"/>
<rect x="79.83" y="849.89" width="8.66" height="5.44" fill="#f7c2ab"/>
<rect x="88.04" y="849.89" width="8.66" height="5.44" fill="#b7d4ea"/>
<rect x="96.25" y="849.89" width="8.66" height="5.44" fill="#f7f7f7"/>
<rect x="104.46" y="849.89" width="8.66" height="5.44" fill="#a6cbe6"/>
<rect x="112.67" y="849.89" width="8.26" height="5.44" fill="#62a0d2"/>
<rect x="55.20" y="854.88" width="8.66" height="5.44" fill="#f2a385"/>
<rect x="63.41" y="854.88" width="8.66" height="5.44" fill="#f2a385"/>
<rect x="71.62" y="854.88" width="8.66" height="5.44" fill="#f8ebe4"/>
<rect x="79.83" y="854.88" width="8.66" height="5.44" fill="#f9d2be"/>
<rect x="88.04" y="854.88" width="8.66" height="5.44" fill="#e2ecf4"/>
<rect x="96.25" y="854.88" width="8.66" height="5.44" fill="#e2ecf4"/>
<rect x="104.46" y="854.88" width="8.66" height="5.44" fill="#a6cbe6"/>
<rect x="112.67" y="854.88" width="8.26" height="5.44" fill="#62a0d2"/>
<rect x="55.20" y="859.87" width="8.66" height="5.44" fill="#f4b398"/>
<rect x="63.41" y="859.87" width="8.66" height="5.44" fill="#da5a4d"/>
<rect x="71.62" y="859.87" width="8.66" height="5.44" fill="#f7f7f7"/>
<rect x="79.83" y="859.87" width="8.66" height="5.44" fill="#f9d2be"/>
<rect x="88.04" y="859.87" width="8.66" height="5.44" fill="#8fbddf"/>
<rect x="96.25" y="859.87" width="8.66" height="5.44" fill="#edf2f6"/>
<rect x="104.46" y="859.87" width="8.66" height="5.44" fill="#a6cbe6"/>
<rect x="112.67" y="859.87" width="8.26" height="5.44" fill="#79aed9"/>
<rect x="55.20" y="864.86" width="8.66" height="5.44" fill="#e2705a"/>
<rect x="63.41" y="864.86" width="8.66" height="5.44" fill="#f2a385"/>
<rect x="71.62" y="864.86" width="8.66" height="5.44" fill="#f9d2be"/>
<rect x="79.83" y="864.86" width="8.66" height="5.44" fill="#f7f7f7"/>
<rect x="88.04" y="864.86" width="8.66" height="5.44" fill="#8fbddf"/>
<rect x="96.25" y="864.86" width="8.66" height="5.44" fill="#f7f7f7"/>
<rect x="104.46" y="864.86" width="8.66" height="5.44" fill="#a6cbe6"/>
<rect x="112.67" y="864.86" width="8.26" height="5.44" fill="#a6cbe6"/>
<rect x="55.20" y="869.85" width="8.66" height="5.44" fill="#ae1c28"/>
<rect x="63.41" y="869.85" width="8.66" height="5.44" fill="#f9d2be"/>
<rect x="71.62" y="869.85" width="8.66" height="5.44" fill="#f8ded1"/>
<rect x="79.83" y="869.85" width="8.66" height="5.44" fill="#f7f7f7"/>
<rect x="88.04" y="869.85" width="8.66" height="5.44" fill="#8fbddf"/>
<rect x="96.25" y="869.85" width="8.66" height="5.44" fill="#d8e7f3"/>
<rect x="104.46" y="869.85" width="8.66" height="5.44" fill="#b7d4ea"/>
<rect x="112.67" y="869.85" width="8.26" height="5.44" fill="#a6cbe6"/>
<rect x="55.20" y="874.84" width="8.66" height="5.44" fill="#f2a385"/>
<rect x="63.41" y="874.84" width="8.66" height="5.44" fill="#f9d2be"/>
<rect x="71.62" y="874.84" width="8.66" height="5.44" fill="#f8ded1"/>
<rect x="79.83" y="874.84" width="8.66" height="5.44" fill="#f2a385"/>
<rect x="88.04" y="874.84" width="8.66" height="5.44" fill="#f7f7f7"/>
<rect x="96.25" y="874.84" width="8.66" height="5.44" fill="#f7f7f7"/>
<rect x="104.46" y="874.84" width="8.66" height="5.44" fill="#5192ca"/>
<rect x="112.67" y="874.84" width="8.26" height="5.44" fill="#5192ca"/>
<rect x="55.20" y="879.83" width="8.66" height="5.44" fill="#f2a385"/>
<rect x="63.41" y="879.83" width="8.66" height="5.44" fill="#f9d2be"/>
<rect x="71.62" y="879.83" width="8.66" height="5.44" fill="#edf2f6"/>
<rect x="79.83" y="879.83" width="8.66" height="5.44" fill="#ed9277"/>
<rect x="88.04" y="879.83" width="8.66" height="5.44" fill="#79aed9"/>
<rect x="96.25" y="879.83" width="8.66" height="5.44" fill="#79aed9"/>
<rect x="104.46" y="879.83" width="8.66" height="5.44" fill="#c7deef"/>
<rect x="112.67" y="879.83" width="8.26" height="5.44" fill="#edf2f6"/>
<rect x="55.20" y="884.82" width="8.66" height="5.44" fill="#f2a385"/>
<rect x="63.41" y="884.82" width="8.66" height="5.44" fill="#f9d2be"/>
<rect x="71.62" y="884.82" width="8.66" height="5.44" fill="#f7f7f7"/>
<rect x="79.83" y="884.82" width="8.66" height="5.44" fill="#e2705a"/>
<rect x="88.04" y="884.82" width="8.66" height="5.44" fill="#79aed9"/>
<rect x="96.25" y="884.82" width="8.66" height="5.44" fill="#79aed9"/>
<rect x="104.46" y="884.82" width="8.66" height="5.44" fill="#c7deef"/>
<rect x="112.67" y="884.82" width="8.26" height="5.44" fill="#f7f7f7"/>
<rect x="55.20" y="889.81" width="8.66" height="5.44" fill="#f9d2be"/>
<rect x="63.41" y="889.81" width="8.66" height="5.44" fill="#f7c2ab"/>
<rect x="71.62" y="889.81" width="8.66" height="5.44" fill="#f7f7f7"/>
<rect x="79.83" y="889.81" width="8.66" height="5.44" fill="#da5a4d"/>
<rect x="88.04" y="889.81" width="8.66" height="5.44" fill="#b7d4ea"/>
<rect x="96.25" y="889.81" width="8.66" height="5.44" fill="#79aed9"/>
<rect x="104.46" y="889.81" width="8.66" height="5.44" fill="#79aed9"/>
<rect x="112.67" y="889.81" width="8.26" height="5.44" fill="#f7f7f7"/>
<rect x="55.20" y="894.80" width="8.66" height="5.44" fill="#e78168"/>
<rect x="63.41" y="894.80" width="8.66" height="5.44" fill="#f7f7f7"/>
<rect x="71.62" y="894.80" width="8.66" height="5.44" fill="#f9d2be"/>
<rect x="79.83" y="894.80" width="8.66" height="5.44" fill="#e78168"/>
<rect x="88.04" y="894.80" width="8.66" height="5.44" fill="#a6cbe6"/>
<rect x="96.25" y="894.80" width="8.66" height="5.44" fill="#a6cbe6"/>
<rect x="104.46" y="894.80" width="8.66" height="5.44" fill="#a6cbe6"/>
<rect x="112.67" y="894.80" width="8.26" height="5.44" fill="#f7f7f7"/>
<rect x="55.20" y="899.79" width="8.66" height="5.44" fill="#e78168"/>
<rect x="63.41" y="899.79" width="8.66" height="5.44" fill="#f8ebe4"/>
<rect x="71.62" y="899.79" width="8.66" height="5.44" fill="#f9d2be"/>
<rect x="79.83" y="899.79" width="8.66" height="5.44" fill="#ed9277"/>
<rect x="88.04" y="899.79" width="8.66" height="5.44" fill="#c7deef"/>
<rect x="96.25" y="899.79" width="8.66" height="5.44" fill="#e2ecf4"/>
<rect x="104.46" y="899.79" width="8.66" height="5.44" fill="#4085c3"/>
<rect x="112.67" y="899.79" width="8.26" height="5.44" fill="#f7f7f7"/>
<rect x="55.20" y="904.78" width="8.66" height="5.44" fill="#f2a385"/>
<rect x="63.41" y="904.78" width="8.66" height="5.44" fill="#f2a385"/>
<rect x="71.62" y="904.78" width="8.66" height="5.44" fill="#f4b398"/>
<rect x="79.83" y="904.78" width="8.66" height="5.44" fill="#f9d2be"/>
<rect x="88.04" y="904.78" width="8.66" height="5.44" fill="#4085c3"/>
<rect x="96.25" y="904.78" width="8.66" height="5.44" fill="#b7d4ea"/>
<rect x="104.46" y="904.78" width="8.66" height="5.44" fill="#a6cbe6"/>
<rect x="112.67" y="904.78" width="8.26" height="5.44" fill="#f7f7f7"/>
<rect x="55.20" y="909.77" width="8.66" height="5.44" fill="#f2a385"/>
<rect x="63.41" y="909.77" width="8.66" height="5.44" fill="#f4b398"/>
<rect x="71.62" y="909.77" width="8.66" height="5.44" fill="#f4b398"/>
<rect x="79.83" y="909.77" width="8.66" height="5.44" fill="#f2a385"/>
<rect x="88.04" y="909.77" width="8.66" height="5.44" fill="#a6cbe6"/>
<rect x="96.25" y="909.77" width="8.66" height="5.44" fill="#a6cbe6"/>
<rect x="104.46" y="909.77" width="8.66" height="5.44" fill="#a6cbe6"/>
<rect x="112.67" y="909.77" width="8.26" height="5.44" fill="#f7f7f7"/>
<rect x="55.20" y="914.76" width="8.66" height="5.44" fill="#f2a385"/>
<rect x="63.41" y="914.76" width="8.66" height="5.44" fill="#f9d2be"/>
<rect x="71.62" y="914.76" width="8.66" height="5.44" fill="#f9d2be"/>
<rect x="79.83" y="914.76" width="8.66" height="5.44" fill="#f7c2ab"/>
<rect x="88.04" y="914.76" width="8.66" height="5.44" fill="#a6cbe6"/>
<rect x="96.25" y="914.76" width="8.66" height="5.44" fill="#a6cbe6"/>
<rect x="104.46" y="914.76" width="8.66" height="5.44" fill="#a6cbe6"/>
<rect x="112.67" y="914.76" width="8.26" height="5.44" fill="#f8ded1"/>
<rect x="55.20" y="919.75" width="8.66" height="5.44" fill="#f2a385"/>
<rect x="63.41" y="919.75" width="8.66" height="5.44" fill="#e2705a"/>
<rect x="71.62" y="919.75" width="8.66" height="5.44" fill="#f7f7f7"/>
<rect x="79.83" y="919.75" width="8.66" height="5.44" fill="#f7c2ab"/>
<rect x="88.04" y="919.75" width="8.66" height="5.44" fill="#a6cbe6"/>
<rect x="96.25" y="919.75" width="8.66" height="5.44" fill="#c7deef"/>
<rect x="104.46" y="919.75" width="8.66" height="5.44" fill="#79aed9"/>
<rect x="112.67" y="919.75" width="8.26" height="5.44" fill="#f7f7f7"/>
<rect x="55.20" y="924.74" width="8.66" height="5.44" fill="#edf2f6"/>
<rect x="63.41" y="924.74" width="8.66" height="5.44" fill="#f9d2be"/>
<rect x="71.62" y="924.74" width="8.66" height="5.44" fill="#e2705a"/>
<rect x="79.83" y="924.74" width="8.66" height="5.44" fill="#e2705a"/>
<rect x="88.04" y="924.74" width="8.66" height="5.44" fill="#a6cbe6"/>
<rect x="96.25" y="924.74" width="8.66" height="5.44" fill="#d8e7f3"/>
<rect x="104.46" y="924.74" width="8.66" height="5.44" fill="#edf2f6"/>
<rect x="112.67" y="924.74" width="8.26" height="5.44" fill="#f7f7f7"/>
<rect x="55.20" y="929.73" width="8.66" height="5.44" fill="#f8ebe4"/>
<rect x="63.41" y="929.73" width="8.66" height="5.44" fill="#cb2f34"/>
<rect x="71.62" y="929.73" width="8.66" height="5.44" fill="#f8ded1"/>
<rect x="79.83" y="929.73" width="8.66" height="5.44" fill="#f9d2be"/>
<rect x="88.04" y="929.73" width="8.66" height="5.44" fill="#8fbddf"/>
<rect x="96.25" y="929.73" width="8.66" height="5.44" fill="#8fbddf"/>
<rect x="104.46" y="929.73" width="8.66" height="5.44" fill="#d8e7f3"/>
<rect x="112.67" y="929.73" width="8.26" height="5.44" fill="#f7f7f7"/>
<rect x="55.20" y="934.72" width="8.66" height="5.44" fill="#f8ded1"/>
<rect x="63.41" y="934.72" width="8.66" height="5.44" fill="#da5a4d"/>
<rect x="71.62" y="934.72" width="8.66" height="5.44" fill="#f8ded1"/>
<rect x="79.83" y="934.72" width="8.66" height="5.44" fill="#f8ded1"/>
<rect x="88.04" y="934.72" width="8.66" height="5.44" fill="#79aed9"/>
<rect x="96.25" y="934.72" width="8.66" height="5.44" fill="#79aed9"/>
<rect x="104.46" y="934.72" width="8.66" height="5.44" fill="#e2ecf4"/>
<rect x="112.67" y="934.72" width="8.26" height="5.44" fill="#f7f7f7"/>
<rect x="55.20" y="939.71" width="8.66" height="5.04" fill="#f9d2be"/>
<rect x="63.41" y="939.71" width="8.66" height="5.04" fill="#f2a385"/>
<rect x="71.62" y="939.71" width="8.66" height="5.04" fill="#f8ded1"/>
<rect x="79.83" y="939.71" width="8.66" height="5.04" fill="#f9d2be"/>
<rect x="88.04" y="939.71" width="8.66" height="5.04" fill="#79aed9"/>
<rect x="96.25" y="939.71" width="8.66" height="5.04" fill="#79aed9"/>
<rect x="104.46" y="939.71" width="8.66" height="5.04" fill="#e2ecf4"/>
<rect x="112.67" y="939.71" width="8.26" height="5.04" fill="#f8ded1"/>
<rect x="124.10" y="695.30" width="3.50" height="30.90" fill="#d0101f"/>
<rect x="124.10" y="727.70" width="3.50" height="52.20" fill="#f6b82a"/>
<rect x="124.10" y="785.00" width="3.50" height="13.90" fill="#f6b82a"/>
<rect x="124.10" y="798.90" width="3.50" height="12.60" fill="#d0101f"/>
<rect x="124.10" y="811.50" width="3.50" height="13.50" fill="#f6b82a"/>
<rect x="124.10" y="825.00" width="3.50" height="6.10" fill="#9e1020"/>
<rect x="124.10" y="831.10" width="3.50" height="13.50" fill="#f6b82a"/>
<rect x="124.10" y="844.60" width="3.50" height="6.90" fill="#d0101f"/>
<rect x="124.10" y="851.50" width="3.50" height="93.10" fill="#f6b82a"/>
<text x="132.3" y="746.2" font-size="7.6" text-anchor="start" fill="#231f20" transform="matrix(1 0 0 1.08 0 -59.696)">PGD</text>
<text x="132.3" y="814.1" font-size="7.6" text-anchor="start" fill="#231f20" transform="matrix(1 0 0 1.08 0 -65.128)">ANK1</text>
<text x="132.3" y="862.4" font-size="7.6" text-anchor="start" fill="#231f20" transform="matrix(1 0 0 1.08 0 -68.992)">SPTA1</text>
<text x="132.3" y="871.8" font-size="7.6" text-anchor="start" fill="#231f20" transform="matrix(1 0 0 1.08 0 -69.744)">SLC4A1</text>
<rect x="24" y="816.3" width="17.6" height="59.4" fill="#fff" stroke="#c8c8c8" stroke-width="0.7"/>
<rect x="24.10" y="816.80" width="3.40" height="58.60" fill="url(#gH)"/>
<text x="30.2" y="829.9" font-size="7.4" text-anchor="start" fill="#231f20" transform="matrix(1 0 0 1.08 0 -66.392)">2.0</text>
<text x="30.2" y="861" font-size="7.4" text-anchor="start" fill="#231f20" transform="matrix(1 0 0 1.08 0 -68.880)">0</text>
<text x="30.2" y="886" font-size="7.4" text-anchor="start" fill="#231f20" transform="matrix(1 0 0 1.08 0 -70.880)">−1.6</text>
<rect x="9.9" y="896" width="39.6" height="48.3" rx="4.5" ry="4.5" fill="#fff" stroke="#6d6d6d" stroke-width="0.8"/>
<text x="29.7" y="902.6" font-size="7.4" text-anchor="middle" fill="#231f20" transform="matrix(1 0 0 1.08 0 -72.208)">Cysteine</text>
<text x="29.7" y="911.6" font-size="7.4" text-anchor="middle" fill="#231f20" transform="matrix(1 0 0 1.08 0 -72.928)">Mods</text>
<text x="29.7" y="921.8" font-size="7.4" text-anchor="middle" fill="#f3b862" transform="matrix(1 0 0 1.08 0 -73.744)">Oxidation</text>
<text x="29.7" y="930.4" font-size="7.4" text-anchor="middle" fill="#d01f2e" transform="matrix(1 0 0 1.08 0 -74.432)">Dioxidation</text>
<text x="29.7" y="938.3" font-size="7.4" text-anchor="middle" fill="#b8182c" transform="matrix(1 0 0 1.08 0 -75.064)">Cys-&gt;DHA</text>
<text x="68.5" y="956" font-size="7.6" text-anchor="middle" fill="#231f20" transform="matrix(1 0 0 1.08 0 -76.480)">Cysteine redox modifications</text>
<text x="68.4" y="965.3" font-size="7.4" text-anchor="middle" font-style="italic" fill="#231f20" transform="matrix(1 0 0 1.08 0 -77.22)">Top 50 T-test</text>
<rect x="0.5" y="0.5" width="518.8" height="975.8" fill="none" stroke="#2b2b2b" stroke-width="1.3"/>
</svg>
</body></html>
